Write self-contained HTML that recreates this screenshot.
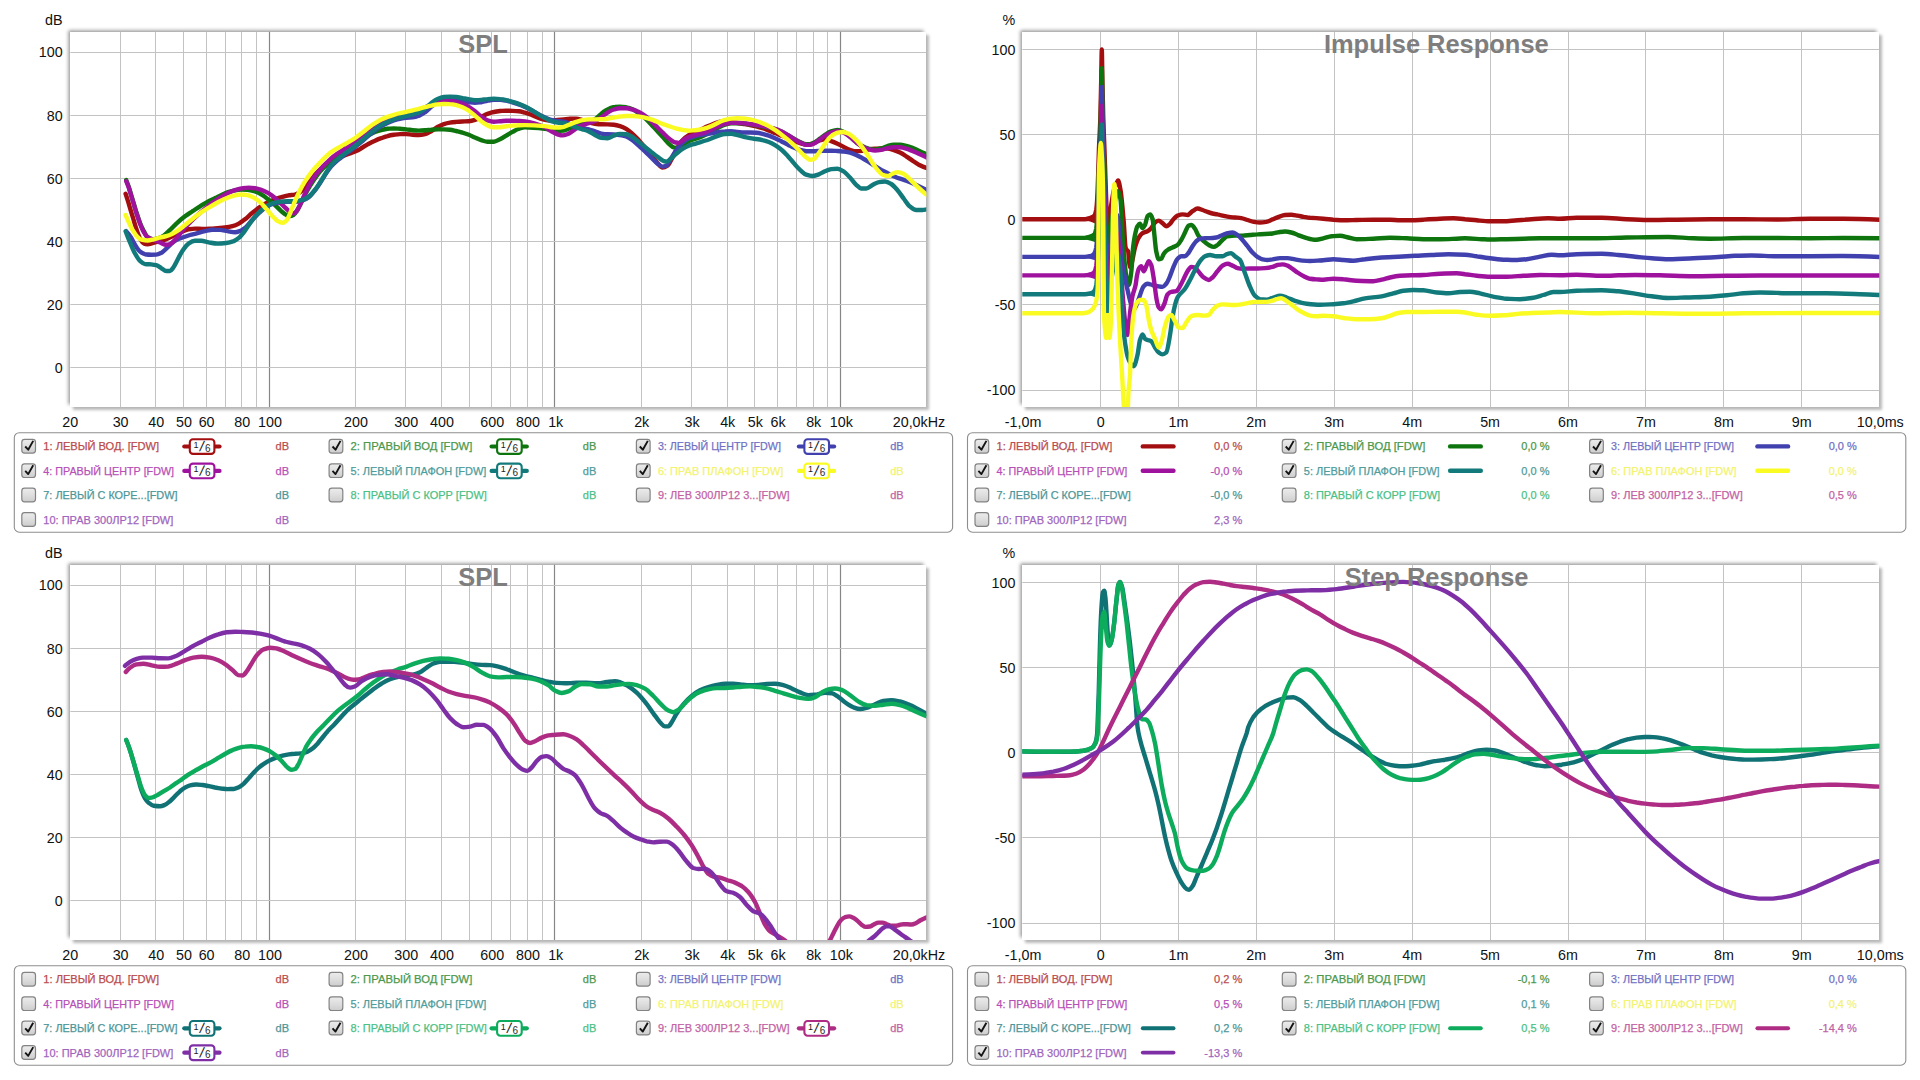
<!DOCTYPE html>
<html lang="ru"><head><meta charset="utf-8"><title>REW graphs</title><style>
html,body{margin:0;padding:0;background:#fff;}
body{width:1920px;height:1080px;overflow:hidden;position:relative;font-family:"Liberation Sans",sans-serif;}
.pb{position:absolute;background:#fff;box-shadow:-2.4px -2.4px 3.6px 0 rgba(0,0,0,.42), 2.7px 2.7px 2.6px 0 rgba(0,0,0,.27);}
svg{position:absolute;left:0;top:0;}
</style></head><body>
<div class="pb" style="left:70.3px;top:31.8px;width:856.0px;height:375.3px"></div>
<div class="pb" style="left:1022.3px;top:31.8px;width:857.0px;height:375.3px"></div>
<div class="pb" style="left:70.3px;top:564.8px;width:856.0px;height:375.3px"></div>
<div class="pb" style="left:1022.3px;top:564.8px;width:857.0px;height:375.3px"></div>
<svg width="1920" height="1080" viewBox="0 0 1920 1080" font-family='"Liberation Sans", sans-serif'>
<defs><linearGradient id="cb" x1="0" y1="0" x2="0" y2="1"><stop offset="0" stop-color="#ececec"/><stop offset="0.5" stop-color="#dedede"/><stop offset="1" stop-color="#cdcdcd"/></linearGradient>
<clipPath id="c1"><rect x="70.3" y="31.8" width="856.0" height="375.3"/></clipPath><clipPath id="c2"><rect x="1022.3" y="31.8" width="857.0" height="375.3"/></clipPath><clipPath id="c3"><rect x="70.3" y="564.8" width="856.0" height="375.3"/></clipPath><clipPath id="c4"><rect x="1022.3" y="564.8" width="857.0" height="375.3"/></clipPath>
</defs>
<g shape-rendering="auto"><line x1="120.5" x2="120.5" y1="31.8" y2="407.1" stroke="#c3c3c3" stroke-width="1"/><line x1="155.5" x2="155.5" y1="31.8" y2="407.1" stroke="#c3c3c3" stroke-width="1"/><line x1="183.5" x2="183.5" y1="31.8" y2="407.1" stroke="#c3c3c3" stroke-width="1"/><line x1="206.5" x2="206.5" y1="31.8" y2="407.1" stroke="#c3c3c3" stroke-width="1"/><line x1="225.5" x2="225.5" y1="31.8" y2="407.1" stroke="#c3c3c3" stroke-width="1"/><line x1="241.5" x2="241.5" y1="31.8" y2="407.1" stroke="#c3c3c3" stroke-width="1"/><line x1="256.5" x2="256.5" y1="31.8" y2="407.1" stroke="#c3c3c3" stroke-width="1"/><line x1="269.5" x2="269.5" y1="31.8" y2="407.1" stroke="#868686" stroke-width="1.2"/><line x1="355.5" x2="355.5" y1="31.8" y2="407.1" stroke="#c3c3c3" stroke-width="1"/><line x1="405.5" x2="405.5" y1="31.8" y2="407.1" stroke="#c3c3c3" stroke-width="1"/><line x1="441.5" x2="441.5" y1="31.8" y2="407.1" stroke="#c3c3c3" stroke-width="1"/><line x1="469.5" x2="469.5" y1="31.8" y2="407.1" stroke="#c3c3c3" stroke-width="1"/><line x1="491.5" x2="491.5" y1="31.8" y2="407.1" stroke="#c3c3c3" stroke-width="1"/><line x1="510.5" x2="510.5" y1="31.8" y2="407.1" stroke="#c3c3c3" stroke-width="1"/><line x1="527.5" x2="527.5" y1="31.8" y2="407.1" stroke="#c3c3c3" stroke-width="1"/><line x1="542.5" x2="542.5" y1="31.8" y2="407.1" stroke="#c3c3c3" stroke-width="1"/><line x1="554.5" x2="554.5" y1="31.8" y2="407.1" stroke="#868686" stroke-width="1.2"/><line x1="641.5" x2="641.5" y1="31.8" y2="407.1" stroke="#c3c3c3" stroke-width="1"/><line x1="691.5" x2="691.5" y1="31.8" y2="407.1" stroke="#c3c3c3" stroke-width="1"/><line x1="727.5" x2="727.5" y1="31.8" y2="407.1" stroke="#c3c3c3" stroke-width="1"/><line x1="754.5" x2="754.5" y1="31.8" y2="407.1" stroke="#c3c3c3" stroke-width="1"/><line x1="777.5" x2="777.5" y1="31.8" y2="407.1" stroke="#c3c3c3" stroke-width="1"/><line x1="796.5" x2="796.5" y1="31.8" y2="407.1" stroke="#c3c3c3" stroke-width="1"/><line x1="813.5" x2="813.5" y1="31.8" y2="407.1" stroke="#c3c3c3" stroke-width="1"/><line x1="827.5" x2="827.5" y1="31.8" y2="407.1" stroke="#c3c3c3" stroke-width="1"/><line x1="840.5" x2="840.5" y1="31.8" y2="407.1" stroke="#868686" stroke-width="1.2"/><line x1="70.3" x2="926.3" y1="52.5" y2="52.5" stroke="#c3c3c3" stroke-width="1"/><line x1="70.3" x2="926.3" y1="115.5" y2="115.5" stroke="#c3c3c3" stroke-width="1"/><line x1="70.3" x2="926.3" y1="178.5" y2="178.5" stroke="#c3c3c3" stroke-width="1"/><line x1="70.3" x2="926.3" y1="241.5" y2="241.5" stroke="#c3c3c3" stroke-width="1"/><line x1="70.3" x2="926.3" y1="304.5" y2="304.5" stroke="#c3c3c3" stroke-width="1"/><line x1="70.3" x2="926.3" y1="367.5" y2="367.5" stroke="#c3c3c3" stroke-width="1"/><line x1="1100.5" x2="1100.5" y1="31.8" y2="407.1" stroke="#c3c3c3" stroke-width="1"/><line x1="1178.5" x2="1178.5" y1="31.8" y2="407.1" stroke="#c3c3c3" stroke-width="1"/><line x1="1256.5" x2="1256.5" y1="31.8" y2="407.1" stroke="#c3c3c3" stroke-width="1"/><line x1="1334.5" x2="1334.5" y1="31.8" y2="407.1" stroke="#c3c3c3" stroke-width="1"/><line x1="1412.5" x2="1412.5" y1="31.8" y2="407.1" stroke="#c3c3c3" stroke-width="1"/><line x1="1490.5" x2="1490.5" y1="31.8" y2="407.1" stroke="#c3c3c3" stroke-width="1"/><line x1="1568.5" x2="1568.5" y1="31.8" y2="407.1" stroke="#c3c3c3" stroke-width="1"/><line x1="1645.5" x2="1645.5" y1="31.8" y2="407.1" stroke="#c3c3c3" stroke-width="1"/><line x1="1723.5" x2="1723.5" y1="31.8" y2="407.1" stroke="#c3c3c3" stroke-width="1"/><line x1="1801.5" x2="1801.5" y1="31.8" y2="407.1" stroke="#c3c3c3" stroke-width="1"/><line x1="1022.3" x2="1879.3" y1="49.5" y2="49.5" stroke="#c3c3c3" stroke-width="1"/><line x1="1022.3" x2="1879.3" y1="134.5" y2="134.5" stroke="#c3c3c3" stroke-width="1"/><line x1="1022.3" x2="1879.3" y1="219.5" y2="219.5" stroke="#c3c3c3" stroke-width="1"/><line x1="1022.3" x2="1879.3" y1="304.5" y2="304.5" stroke="#c3c3c3" stroke-width="1"/><line x1="1022.3" x2="1879.3" y1="390.5" y2="390.5" stroke="#c3c3c3" stroke-width="1"/><line x1="120.5" x2="120.5" y1="564.8" y2="940.1" stroke="#c3c3c3" stroke-width="1"/><line x1="155.5" x2="155.5" y1="564.8" y2="940.1" stroke="#c3c3c3" stroke-width="1"/><line x1="183.5" x2="183.5" y1="564.8" y2="940.1" stroke="#c3c3c3" stroke-width="1"/><line x1="206.5" x2="206.5" y1="564.8" y2="940.1" stroke="#c3c3c3" stroke-width="1"/><line x1="225.5" x2="225.5" y1="564.8" y2="940.1" stroke="#c3c3c3" stroke-width="1"/><line x1="241.5" x2="241.5" y1="564.8" y2="940.1" stroke="#c3c3c3" stroke-width="1"/><line x1="256.5" x2="256.5" y1="564.8" y2="940.1" stroke="#c3c3c3" stroke-width="1"/><line x1="269.5" x2="269.5" y1="564.8" y2="940.1" stroke="#868686" stroke-width="1.2"/><line x1="355.5" x2="355.5" y1="564.8" y2="940.1" stroke="#c3c3c3" stroke-width="1"/><line x1="405.5" x2="405.5" y1="564.8" y2="940.1" stroke="#c3c3c3" stroke-width="1"/><line x1="441.5" x2="441.5" y1="564.8" y2="940.1" stroke="#c3c3c3" stroke-width="1"/><line x1="469.5" x2="469.5" y1="564.8" y2="940.1" stroke="#c3c3c3" stroke-width="1"/><line x1="491.5" x2="491.5" y1="564.8" y2="940.1" stroke="#c3c3c3" stroke-width="1"/><line x1="510.5" x2="510.5" y1="564.8" y2="940.1" stroke="#c3c3c3" stroke-width="1"/><line x1="527.5" x2="527.5" y1="564.8" y2="940.1" stroke="#c3c3c3" stroke-width="1"/><line x1="542.5" x2="542.5" y1="564.8" y2="940.1" stroke="#c3c3c3" stroke-width="1"/><line x1="554.5" x2="554.5" y1="564.8" y2="940.1" stroke="#868686" stroke-width="1.2"/><line x1="641.5" x2="641.5" y1="564.8" y2="940.1" stroke="#c3c3c3" stroke-width="1"/><line x1="691.5" x2="691.5" y1="564.8" y2="940.1" stroke="#c3c3c3" stroke-width="1"/><line x1="727.5" x2="727.5" y1="564.8" y2="940.1" stroke="#c3c3c3" stroke-width="1"/><line x1="754.5" x2="754.5" y1="564.8" y2="940.1" stroke="#c3c3c3" stroke-width="1"/><line x1="777.5" x2="777.5" y1="564.8" y2="940.1" stroke="#c3c3c3" stroke-width="1"/><line x1="796.5" x2="796.5" y1="564.8" y2="940.1" stroke="#c3c3c3" stroke-width="1"/><line x1="813.5" x2="813.5" y1="564.8" y2="940.1" stroke="#c3c3c3" stroke-width="1"/><line x1="827.5" x2="827.5" y1="564.8" y2="940.1" stroke="#c3c3c3" stroke-width="1"/><line x1="840.5" x2="840.5" y1="564.8" y2="940.1" stroke="#868686" stroke-width="1.2"/><line x1="70.3" x2="926.3" y1="585.5" y2="585.5" stroke="#c3c3c3" stroke-width="1"/><line x1="70.3" x2="926.3" y1="648.5" y2="648.5" stroke="#c3c3c3" stroke-width="1"/><line x1="70.3" x2="926.3" y1="711.5" y2="711.5" stroke="#c3c3c3" stroke-width="1"/><line x1="70.3" x2="926.3" y1="774.5" y2="774.5" stroke="#c3c3c3" stroke-width="1"/><line x1="70.3" x2="926.3" y1="837.5" y2="837.5" stroke="#c3c3c3" stroke-width="1"/><line x1="70.3" x2="926.3" y1="900.5" y2="900.5" stroke="#c3c3c3" stroke-width="1"/><line x1="1100.5" x2="1100.5" y1="564.8" y2="940.1" stroke="#c3c3c3" stroke-width="1"/><line x1="1178.5" x2="1178.5" y1="564.8" y2="940.1" stroke="#c3c3c3" stroke-width="1"/><line x1="1256.5" x2="1256.5" y1="564.8" y2="940.1" stroke="#c3c3c3" stroke-width="1"/><line x1="1334.5" x2="1334.5" y1="564.8" y2="940.1" stroke="#c3c3c3" stroke-width="1"/><line x1="1412.5" x2="1412.5" y1="564.8" y2="940.1" stroke="#c3c3c3" stroke-width="1"/><line x1="1490.5" x2="1490.5" y1="564.8" y2="940.1" stroke="#c3c3c3" stroke-width="1"/><line x1="1568.5" x2="1568.5" y1="564.8" y2="940.1" stroke="#c3c3c3" stroke-width="1"/><line x1="1645.5" x2="1645.5" y1="564.8" y2="940.1" stroke="#c3c3c3" stroke-width="1"/><line x1="1723.5" x2="1723.5" y1="564.8" y2="940.1" stroke="#c3c3c3" stroke-width="1"/><line x1="1801.5" x2="1801.5" y1="564.8" y2="940.1" stroke="#c3c3c3" stroke-width="1"/><line x1="1022.3" x2="1879.3" y1="582.5" y2="582.5" stroke="#c3c3c3" stroke-width="1"/><line x1="1022.3" x2="1879.3" y1="667.5" y2="667.5" stroke="#c3c3c3" stroke-width="1"/><line x1="1022.3" x2="1879.3" y1="752.5" y2="752.5" stroke="#c3c3c3" stroke-width="1"/><line x1="1022.3" x2="1879.3" y1="837.5" y2="837.5" stroke="#c3c3c3" stroke-width="1"/><line x1="1022.3" x2="1879.3" y1="923.5" y2="923.5" stroke="#c3c3c3" stroke-width="1"/></g>
<g clip-path="url(#c1)" fill="none" stroke-width="4.4" stroke-linejoin="round" stroke-linecap="round"><path d="M125.6,193.8C126.7,197.0 127.7,200.4 128.8,203.8C130.0,207.9 131.2,212.1 132.5,216.2C133.8,220.4 135.0,224.9 136.2,228.6C137.5,232.2 138.8,236.2 140.0,238.4C141.2,240.6 142.5,243.0 143.8,243.4C145.0,243.9 146.2,244.2 147.5,244.2C149.2,244.2 150.8,243.5 152.5,243.1C155.0,242.5 157.5,241.9 160.0,241.2C162.1,240.6 164.2,240.1 166.2,239.3C168.3,238.5 170.4,237.3 172.5,236.2C175.0,235.0 177.5,233.7 180.0,232.5C182.5,231.4 185.0,230.0 187.5,229.5C190.0,229.1 192.5,228.6 195.0,228.6C197.5,228.6 200.0,228.9 202.5,228.9C205.0,228.9 207.5,228.8 210.0,228.7C212.5,228.6 215.0,228.3 217.5,228.1C220.0,227.9 222.5,227.8 225.0,227.5C227.5,227.2 230.0,226.8 232.5,226.1C234.6,225.6 236.7,224.7 238.8,223.6C240.8,222.5 242.9,220.9 245.0,219.3C247.1,217.7 249.2,215.5 251.2,213.8C253.3,212.1 255.4,210.3 257.5,208.8C259.6,207.3 261.7,205.7 263.8,204.5C265.8,203.2 267.9,202.2 270.0,201.3C272.1,200.4 274.2,199.5 276.2,198.8C278.3,198.1 280.4,197.5 282.5,196.9C284.6,196.3 286.7,195.7 288.8,195.3C290.8,195.0 292.9,195.0 295.0,194.6C296.7,194.3 298.3,193.3 300.0,192.3C301.7,191.3 303.3,189.2 305.0,187.4C306.7,185.6 308.3,183.3 310.0,181.2C312.1,178.5 314.2,175.0 316.2,173.0C321.2,168.1 326.2,165.2 331.2,161.9C333.3,160.6 335.4,159.2 337.5,158.2C339.6,157.2 341.7,156.4 343.8,155.7C345.8,154.9 347.9,154.2 350.0,153.5C352.1,152.7 354.2,152.1 356.2,151.1C358.3,150.2 360.4,148.7 362.5,147.5C364.6,146.3 366.7,144.9 368.8,143.8C370.8,142.7 372.9,141.6 375.0,140.7C377.1,139.7 379.2,138.9 381.2,138.2C383.3,137.4 385.4,136.6 387.5,136.1C389.6,135.5 391.7,135.1 393.8,134.8C395.8,134.5 397.9,134.1 400.0,134.1C402.1,134.1 404.2,134.1 406.2,134.1C408.3,134.1 410.4,134.6 412.5,134.7C414.6,134.9 416.7,135.1 418.8,135.1C420.8,135.1 422.9,134.7 425.0,134.2C427.1,133.7 429.2,132.3 431.2,131.2C433.3,130.0 435.4,128.1 437.5,127.0C439.6,125.9 441.7,124.8 443.8,124.1C445.8,123.4 447.9,122.9 450.0,122.6C452.1,122.3 454.2,122.1 456.2,121.9C458.3,121.7 460.4,121.6 462.5,121.5C464.6,121.4 466.7,121.4 468.8,121.2C470.8,121.0 472.9,120.5 475.0,119.9C477.1,119.3 479.2,117.9 481.2,116.9C483.3,115.9 485.4,114.6 487.5,113.8C489.6,113.1 491.7,112.4 493.8,112.0C495.8,111.5 497.9,111.2 500.0,111.0C502.1,110.9 504.2,110.7 506.2,110.7C508.3,110.7 510.4,110.8 512.5,110.9C514.6,111.0 516.7,111.1 518.8,111.3C520.8,111.5 522.9,112.1 525.0,112.6C531.7,114.3 538.3,118.7 545.0,119.8C547.1,120.1 549.2,120.5 551.2,120.5C553.3,120.5 555.4,120.2 557.5,120.0C559.6,119.8 561.7,119.6 563.8,119.4C565.8,119.2 567.9,118.9 570.0,118.8C572.1,118.7 574.2,118.6 576.2,118.6C578.3,118.6 580.4,119.5 582.5,120.1C584.6,120.7 586.7,121.9 588.8,122.4C590.8,123.0 592.9,123.4 595.0,123.7C597.1,124.0 599.2,124.3 601.2,124.3C603.3,124.4 605.4,124.4 607.5,124.4C609.6,124.4 611.7,124.6 613.8,124.8C615.8,125.0 617.9,125.5 620.0,126.1C622.1,126.7 624.2,127.7 626.2,128.9C628.3,130.1 630.4,132.0 632.5,133.8C634.6,135.7 636.7,137.8 638.8,140.1C640.8,142.4 642.9,145.0 645.0,147.5C647.1,150.0 649.2,152.5 651.2,155.0C653.3,157.6 655.4,160.8 657.5,163.0C659.2,164.8 660.8,167.6 662.5,167.6C664.2,167.6 665.8,166.8 667.5,165.7C669.2,164.7 670.8,160.4 672.5,157.4C674.2,154.4 675.8,150.5 677.5,147.7C679.2,144.9 680.8,142.1 682.5,140.3C684.6,138.1 686.7,136.4 688.8,135.2C690.8,134.0 692.9,133.4 695.0,132.5C697.1,131.5 699.2,130.4 701.2,129.4C703.3,128.4 705.4,127.2 707.5,126.4C713.3,124.1 719.2,121.0 725.0,121.0C727.1,121.0 729.2,121.5 731.2,121.9C733.3,122.2 735.4,122.7 737.5,123.1C739.6,123.4 741.7,123.7 743.8,124.0C745.8,124.3 747.9,124.6 750.0,125.0C752.1,125.4 754.2,125.8 756.2,126.3C758.3,126.8 760.4,127.5 762.5,128.2C764.6,128.9 766.7,129.8 768.8,130.6C770.8,131.5 772.9,132.3 775.0,133.1C777.1,134.0 779.2,134.8 781.2,135.6C783.3,136.5 785.4,137.3 787.5,138.1C789.6,139.0 791.7,139.8 793.8,140.6C795.8,141.4 797.9,142.4 800.0,143.1C802.1,143.7 804.2,144.6 806.2,144.6C808.3,144.6 810.4,144.1 812.5,143.6C814.6,143.1 816.7,141.4 818.8,140.7C820.8,140.1 822.9,139.3 825.0,139.3C827.1,139.3 829.2,140.3 831.2,141.1C833.3,141.8 835.4,142.8 837.5,143.8C839.6,144.7 841.7,145.9 843.8,146.9C845.8,147.9 847.9,149.2 850.0,149.9C852.1,150.5 854.2,151.3 856.2,151.3C858.3,151.3 860.4,151.1 862.5,150.9C864.6,150.7 866.7,149.8 868.8,149.4C870.8,149.1 872.9,148.9 875.0,148.8C877.1,148.7 879.2,148.5 881.2,148.5C883.3,148.5 885.4,148.6 887.5,148.6C889.6,148.7 891.7,149.5 893.8,150.1C895.8,150.7 897.9,151.6 900.0,152.6C902.1,153.6 904.2,155.0 906.2,156.3C908.3,157.6 910.4,159.2 912.5,160.6C914.6,162.0 916.7,163.8 918.8,164.8C921.5,166.2 924.2,167.4 926.9,168.1" stroke="#a30e10"/><path d="M126.2,180.0C127.1,182.2 127.9,184.5 128.8,187.0C130.0,190.8 131.2,195.2 132.5,199.4C133.8,203.5 135.0,207.9 136.2,211.8C137.5,215.7 138.8,219.7 140.0,222.9C141.2,226.0 142.5,228.8 143.8,231.1C145.0,233.4 146.2,236.2 147.5,237.1C149.2,238.3 150.8,239.3 152.5,239.3C154.2,239.3 155.8,238.8 157.5,238.4C159.6,237.9 161.7,236.8 163.8,235.5C165.8,234.3 167.9,231.9 170.0,230.0C172.5,227.6 175.0,224.8 177.5,222.6C180.0,220.3 182.5,218.2 185.0,216.3C187.5,214.5 190.0,212.9 192.5,211.2C195.0,209.6 197.5,207.8 200.0,206.3C202.5,204.7 205.0,203.3 207.5,201.9C210.0,200.6 212.5,199.4 215.0,198.1C217.5,196.9 220.0,195.5 222.5,194.4C224.6,193.5 226.7,192.6 228.8,191.9C230.8,191.3 232.9,190.7 235.0,190.3C237.1,189.9 239.2,189.5 241.2,189.5C243.3,189.5 245.4,189.6 247.5,189.8C250.0,190.0 252.5,190.7 255.0,191.4C257.5,192.2 260.0,193.6 262.5,195.2C264.6,196.4 266.7,198.3 268.8,200.0C270.8,201.7 272.9,203.2 275.0,205.1C277.1,206.9 279.2,209.4 281.2,211.1C282.9,212.5 284.6,214.1 286.2,214.9C287.5,215.4 288.8,216.1 290.0,216.1C291.2,216.1 292.5,215.4 293.8,214.7C295.0,214.0 296.2,211.7 297.5,209.8C299.2,207.2 300.8,203.3 302.5,200.0C304.2,196.7 305.8,193.1 307.5,190.2C309.6,186.5 311.7,183.2 313.8,180.1C315.8,177.0 317.9,173.9 320.0,171.5C323.8,167.2 327.5,163.8 331.2,160.8C333.3,159.1 335.4,157.7 337.5,156.2C339.6,154.8 341.7,153.3 343.8,151.9C345.8,150.4 347.9,149.0 350.0,147.5C352.1,146.0 354.2,144.6 356.2,143.1C358.3,141.7 360.4,140.1 362.5,138.8C364.6,137.5 366.7,136.2 368.8,135.0C370.8,133.9 372.9,132.8 375.0,132.0C377.1,131.2 379.2,130.5 381.2,130.0C383.3,129.5 385.4,129.0 387.5,128.8C389.6,128.7 391.7,128.5 393.8,128.5C395.8,128.5 397.9,128.7 400.0,128.8C402.1,128.9 404.2,129.2 406.2,129.4C408.3,129.6 410.4,130.0 412.5,130.2C414.6,130.4 416.7,130.6 418.8,130.6C420.8,130.6 422.9,130.4 425.0,130.2C427.1,130.1 429.2,129.9 431.2,129.8C433.3,129.6 435.4,129.4 437.5,129.4C439.6,129.4 441.7,129.4 443.8,129.4C445.8,129.4 447.9,129.6 450.0,129.8C452.1,130.0 454.2,130.6 456.2,131.0C458.3,131.5 460.4,131.9 462.5,132.6C464.6,133.2 466.7,134.0 468.8,134.8C470.8,135.6 472.9,136.6 475.0,137.5C477.1,138.4 479.2,139.5 481.2,140.2C483.3,140.8 485.4,141.8 487.5,141.8C489.6,141.8 491.7,141.7 493.8,141.7C495.8,141.6 497.9,140.2 500.0,139.3C502.1,138.3 504.2,136.9 506.2,135.6C508.3,134.4 510.4,133.0 512.5,131.9C514.6,130.8 516.7,129.6 518.8,128.8C520.8,128.1 522.9,127.2 525.0,127.2C531.7,127.2 538.3,128.0 545.0,128.8C547.1,129.1 549.2,129.6 551.2,130.0C553.3,130.3 555.4,130.9 557.5,130.9C559.6,130.9 561.7,130.7 563.8,130.5C565.8,130.2 567.9,129.0 570.0,128.1C572.1,127.2 574.2,125.9 576.2,125.1C578.3,124.3 580.4,123.7 582.5,123.2C584.6,122.6 586.7,122.4 588.8,121.8C590.8,121.2 592.9,120.3 595.0,119.2C596.7,118.2 598.3,116.4 600.0,115.0C601.7,113.6 603.3,111.8 605.0,110.8C606.7,109.7 608.3,108.8 610.0,108.2C611.7,107.7 613.3,107.1 615.0,107.0C616.7,106.8 618.3,106.7 620.0,106.7C622.1,106.7 624.2,107.0 626.2,107.3C628.3,107.7 630.4,108.3 632.5,109.2C634.6,110.0 636.7,111.7 638.8,113.2C640.8,114.7 642.9,116.4 645.0,118.2C647.1,120.1 649.2,122.3 651.2,124.4C653.3,126.6 655.4,129.0 657.5,131.2C659.6,133.5 661.7,135.9 663.8,138.1C665.8,140.4 667.9,143.2 670.0,144.8C671.2,145.9 672.5,147.1 673.8,147.4C675.0,147.6 676.2,147.9 677.5,147.9C679.2,147.9 680.8,146.0 682.5,145.0C684.2,144.0 685.8,142.8 687.5,141.9C689.2,141.1 690.8,140.4 692.5,139.8C694.2,139.2 695.8,138.7 697.5,138.1C700.0,137.1 702.5,136.1 705.0,134.9C711.7,131.9 718.3,126.6 725.0,124.6C727.1,124.0 729.2,123.3 731.2,123.2C733.3,123.2 735.4,123.2 737.5,123.2C739.6,123.2 741.7,123.4 743.8,123.5C745.8,123.7 747.9,124.1 750.0,124.4C752.1,124.7 754.2,125.0 756.2,125.4C758.3,125.7 760.4,126.1 762.5,126.5C764.6,126.9 766.7,127.3 768.8,127.7C770.8,128.2 772.9,128.5 775.0,129.1C777.1,129.7 779.2,130.6 781.2,131.6C783.3,132.5 785.4,133.8 787.5,135.0C789.6,136.2 791.7,137.5 793.8,138.7C795.8,139.9 797.9,141.3 800.0,142.1C802.1,143.0 804.2,144.3 806.2,144.3C807.5,144.3 808.8,144.2 810.0,144.2C811.7,144.2 813.3,143.0 815.0,142.1C816.7,141.2 818.3,139.7 820.0,138.5C821.7,137.3 823.3,135.9 825.0,134.8C827.1,133.5 829.2,132.1 831.2,131.4C833.3,130.7 835.4,130.0 837.5,130.0C839.6,130.0 841.7,131.1 843.8,132.1C845.8,133.0 847.9,134.9 850.0,136.6C852.1,138.2 854.2,140.5 856.2,142.1C858.3,143.7 860.4,145.4 862.5,146.3C864.6,147.3 866.7,148.2 868.8,148.7C870.8,149.1 872.9,149.6 875.0,149.6C877.1,149.6 879.2,148.9 881.2,148.4C883.3,147.9 885.4,146.7 887.5,146.1C889.6,145.5 891.7,144.7 893.8,144.7C895.8,144.7 897.9,144.8 900.0,144.8C902.1,144.9 904.2,145.4 906.2,145.8C908.3,146.3 910.4,147.1 912.5,147.9C914.6,148.7 916.7,149.8 918.8,150.7C921.5,152.0 924.2,153.2 926.9,154.4" stroke="#0e740e"/><path d="M126.2,231.2C127.9,232.9 129.6,235.2 131.2,237.7C132.5,239.7 133.8,242.8 135.0,244.8C136.7,247.4 138.3,250.3 140.0,251.5C141.7,252.8 143.3,253.9 145.0,254.2C147.1,254.5 149.2,254.7 151.2,254.7C152.9,254.7 154.6,254.7 156.2,254.6C157.9,254.6 159.6,253.7 161.2,252.9C162.9,252.1 164.6,250.2 166.2,248.7C167.9,247.2 169.6,245.2 171.2,243.8C172.9,242.4 174.6,241.0 176.2,240.1C178.3,239.0 180.4,238.3 182.5,237.5C185.0,236.6 187.5,235.8 190.0,235.0C192.5,234.3 195.0,233.8 197.5,233.1C200.0,232.4 202.5,231.6 205.0,231.1C207.5,230.6 210.0,229.8 212.5,229.8C215.0,229.8 217.5,229.9 220.0,229.9C222.5,229.9 225.0,230.8 227.5,231.2C230.0,231.6 232.5,232.3 235.0,232.3C236.7,232.3 238.3,231.7 240.0,231.1C241.7,230.5 243.3,229.3 245.0,227.9C246.7,226.6 248.3,224.3 250.0,222.5C251.7,220.7 253.3,218.7 255.0,216.9C256.7,215.2 258.3,213.4 260.0,212.0C262.1,210.1 264.2,208.3 266.2,207.0C268.3,205.7 270.4,204.5 272.5,203.9C274.6,203.3 276.7,202.8 278.8,202.6C281.7,202.2 284.6,202.0 287.5,201.9C290.0,201.8 292.5,201.9 295.0,201.8C297.5,201.7 300.0,201.1 302.5,200.5C304.6,199.9 306.7,198.7 308.8,197.2C310.8,195.8 312.9,192.9 315.0,190.3C320.4,183.7 325.8,172.5 331.2,166.4C333.3,164.1 335.4,162.2 337.5,160.4C339.6,158.6 341.7,157.0 343.8,155.4C345.8,153.8 347.9,152.5 350.0,151.0C352.1,149.4 354.2,147.7 356.2,146.0C358.3,144.3 360.4,142.7 362.5,141.0C364.6,139.2 366.7,137.2 368.8,135.4C370.8,133.7 372.9,132.0 375.0,130.4C377.1,128.9 379.2,127.3 381.2,126.1C383.3,124.9 385.4,123.9 387.5,122.9C389.6,122.0 391.7,121.1 393.8,120.4C395.8,119.8 397.9,119.2 400.0,118.8C402.1,118.4 404.2,118.0 406.2,117.8C408.3,117.6 410.4,117.6 412.5,117.4C414.6,117.2 416.7,116.6 418.8,115.8C420.8,115.1 422.9,113.8 425.0,112.3C427.1,110.9 429.2,108.6 431.2,106.9C433.3,105.2 435.4,103.2 437.5,102.1C439.6,101.0 441.7,99.8 443.8,99.5C445.8,99.3 447.9,99.1 450.0,99.1C452.1,99.1 454.2,99.5 456.2,99.8C458.3,100.1 460.4,100.8 462.5,101.2C464.6,101.6 466.7,102.0 468.8,102.2C470.8,102.4 472.9,102.7 475.0,102.7C477.1,102.7 479.2,102.4 481.2,102.2C483.3,101.9 485.4,101.0 487.5,100.7C489.6,100.3 491.7,99.8 493.8,99.8C495.8,99.8 497.9,99.8 500.0,99.8C502.1,99.8 504.2,100.3 506.2,100.7C508.3,101.1 510.4,101.7 512.5,102.3C514.6,102.9 516.7,103.6 518.8,104.4C520.8,105.2 522.9,106.0 525.0,107.0C531.7,110.0 538.3,114.5 545.0,117.4C547.1,118.3 549.2,119.4 551.2,119.9C553.3,120.4 555.4,120.7 557.5,121.0C559.6,121.2 561.7,121.3 563.8,121.6C565.8,122.0 567.9,123.0 570.0,123.8C572.1,124.5 574.2,125.5 576.2,126.2C578.3,126.8 580.4,127.2 582.5,127.8C584.6,128.3 586.7,128.8 588.8,129.4C590.8,130.0 592.9,130.6 595.0,131.3C597.1,132.0 599.2,133.2 601.2,133.6C603.3,134.0 605.4,134.3 607.5,134.3C609.6,134.4 611.7,134.4 613.8,134.4C615.8,134.5 617.9,134.8 620.0,135.0C622.1,135.3 624.2,135.8 626.2,136.4C628.3,137.1 630.4,138.7 632.5,140.1C634.6,141.6 636.7,143.8 638.8,145.6C640.8,147.5 642.9,149.3 645.0,151.3C647.1,153.3 649.2,155.5 651.2,157.5C653.3,159.5 655.4,162.1 657.5,163.6C659.2,164.8 660.8,166.6 662.5,166.6C663.8,166.6 665.0,166.3 666.2,165.8C667.5,165.4 668.8,162.0 670.0,160.0C672.1,156.8 674.2,153.0 676.2,150.2C678.3,147.4 680.4,144.6 682.5,142.7C684.6,140.9 686.7,139.2 688.8,138.3C690.8,137.4 692.9,136.8 695.0,136.3C697.1,135.8 699.2,135.4 701.2,135.0C703.3,134.6 705.4,134.3 707.5,134.0C713.3,133.1 719.2,131.5 725.0,131.4C727.1,131.3 729.2,131.3 731.2,131.3C733.3,131.3 735.4,131.7 737.5,131.9C739.6,132.1 741.7,132.4 743.8,132.5C745.8,132.5 747.9,132.5 750.0,132.5C752.1,132.6 754.2,132.7 756.2,132.8C758.3,133.0 760.4,133.4 762.5,133.8C764.6,134.3 766.7,135.0 768.8,135.7C770.8,136.4 772.9,137.3 775.0,138.2C777.1,139.1 779.2,140.2 781.2,141.2C783.3,142.3 785.4,143.3 787.5,144.4C789.6,145.4 791.7,146.5 793.8,147.5C795.8,148.4 797.9,149.4 800.0,149.9C802.1,150.5 804.2,151.1 806.2,151.2C808.3,151.2 810.4,151.2 812.5,151.2C814.6,151.2 816.7,151.1 818.8,151.0C820.8,150.9 822.9,150.7 825.0,150.7C827.1,150.7 829.2,150.7 831.2,150.7C833.3,150.7 835.4,150.9 837.5,151.0C839.6,151.2 841.7,151.3 843.8,151.5C845.8,151.8 847.9,152.1 850.0,152.6C852.1,153.1 854.2,154.1 856.2,155.0C858.3,156.0 860.4,157.0 862.5,158.2C864.6,159.3 866.7,160.6 868.8,161.9C870.8,163.3 872.9,164.9 875.0,166.2C877.1,167.5 879.2,168.8 881.2,170.0C883.3,171.1 885.4,172.1 887.5,173.1C889.6,174.2 891.7,175.3 893.8,176.2C895.8,177.1 897.9,178.0 900.0,178.7C902.1,179.4 904.2,179.9 906.2,180.7C908.3,181.4 910.4,182.3 912.5,183.2C914.6,184.1 916.7,185.2 918.8,186.2C921.5,187.5 924.2,188.8 926.9,190.0" stroke="#4040ae"/><path d="M126.2,181.2C127.1,183.2 127.9,185.3 128.8,187.7C130.0,191.3 131.2,195.9 132.5,200.0C133.8,204.1 135.0,208.5 136.2,212.4C137.5,216.3 138.8,220.3 140.0,223.6C141.2,226.8 142.5,230.1 143.8,232.2C145.0,234.3 146.2,236.3 147.5,237.2C149.2,238.3 150.8,238.7 152.5,239.4C155.0,240.5 157.5,241.5 160.0,242.5C162.1,243.3 164.2,244.8 166.2,244.8C167.5,244.8 168.8,244.5 170.0,244.1C171.7,243.7 173.3,241.5 175.0,239.9C176.7,238.2 178.3,235.8 180.0,233.8C181.7,231.7 183.3,229.5 185.0,227.6C187.1,225.3 189.2,223.3 191.2,221.2C193.3,219.2 195.4,217.0 197.5,215.1C200.0,212.8 202.5,210.8 205.0,208.8C207.5,206.7 210.0,204.4 212.5,202.6C215.0,200.7 217.5,199.1 220.0,197.5C222.5,196.0 225.0,194.4 227.5,193.2C230.0,192.0 232.5,190.9 235.0,190.1C237.5,189.3 240.0,188.5 242.5,188.2C244.6,187.9 246.7,187.6 248.8,187.6C250.8,187.6 252.9,187.9 255.0,188.2C257.1,188.5 259.2,189.1 261.2,189.8C263.3,190.5 265.4,191.5 267.5,192.6C269.6,193.8 271.7,195.3 273.8,197.0C275.8,198.6 277.9,200.6 280.0,202.5C281.7,204.1 283.3,205.9 285.0,207.5C286.7,209.0 288.3,210.8 290.0,211.8C291.2,212.5 292.5,213.5 293.8,213.5C294.6,213.5 295.4,212.5 296.2,211.6C297.5,210.4 298.8,207.3 300.0,204.9C301.7,201.6 303.3,197.3 305.0,193.8C306.7,190.4 308.3,186.8 310.0,183.9C312.1,180.3 314.2,176.8 316.2,174.1C321.2,167.6 326.2,162.7 331.2,158.3C333.3,156.5 335.4,155.0 337.5,153.5C339.6,152.0 341.7,150.8 343.8,149.4C345.8,147.9 347.9,146.5 350.0,145.0C352.1,143.5 354.2,142.1 356.2,140.6C358.3,139.0 360.4,137.3 362.5,135.6C364.6,134.0 366.7,132.2 368.8,130.7C370.8,129.1 372.9,127.6 375.0,126.3C377.1,125.0 379.2,123.7 381.2,122.5C383.3,121.4 385.4,120.3 387.5,119.4C389.6,118.5 391.7,117.6 393.8,116.9C395.8,116.2 397.9,115.6 400.0,115.0C402.1,114.5 404.2,114.0 406.2,113.5C408.3,113.0 410.4,112.5 412.5,111.8C414.6,111.2 416.7,110.5 418.8,109.7C420.8,109.0 422.9,108.3 425.0,107.4C427.1,106.6 429.2,105.4 431.2,104.4C433.3,103.4 435.4,101.8 437.5,101.4C439.6,101.0 441.7,100.7 443.8,100.7C445.8,100.7 447.9,100.9 450.0,101.0C452.1,101.2 454.2,101.5 456.2,102.0C458.3,102.4 460.4,103.1 462.5,103.8C464.6,104.6 466.7,105.8 468.8,107.0C470.8,108.2 472.9,109.7 475.0,111.3C477.1,113.0 479.2,115.3 481.2,116.7C483.3,118.2 485.4,119.8 487.5,120.4C489.6,121.1 491.7,121.7 493.8,121.7C495.8,121.7 497.9,121.4 500.0,121.2C502.1,121.1 504.2,120.7 506.2,120.7C508.3,120.7 510.4,120.7 512.5,120.7C514.6,120.7 516.7,120.9 518.8,121.0C520.8,121.1 522.9,121.2 525.0,121.4C531.7,122.1 538.3,124.3 545.0,127.2C547.1,128.1 549.2,130.0 551.2,131.2C553.3,132.3 555.4,133.6 557.5,134.3C559.2,134.8 560.8,135.4 562.5,135.4C564.2,135.4 565.8,134.8 567.5,134.2C569.2,133.7 570.8,132.3 572.5,131.2C574.2,130.1 575.8,128.6 577.5,127.6C579.2,126.6 580.8,125.7 582.5,125.1C584.6,124.3 586.7,123.8 588.8,123.1C590.8,122.5 592.9,122.0 595.0,121.1C597.1,120.2 599.2,118.8 601.2,117.4C603.3,116.0 605.4,113.9 607.5,112.6C609.6,111.4 611.7,110.1 613.8,109.5C615.8,108.9 617.9,108.2 620.0,108.2C622.1,108.2 624.2,108.2 626.2,108.2C628.3,108.2 630.4,108.9 632.5,109.5C634.6,110.0 636.7,111.0 638.8,112.0C640.8,113.0 642.9,114.3 645.0,115.8C647.1,117.3 649.2,119.3 651.2,121.3C653.3,123.2 655.4,125.4 657.5,127.5C659.6,129.6 661.7,131.7 663.8,133.7C665.8,135.7 667.9,137.8 670.0,139.3C671.7,140.5 673.3,142.0 675.0,142.4C676.2,142.6 677.5,142.9 678.8,142.9C680.0,142.9 681.2,141.4 682.5,140.6C684.2,139.6 685.8,138.4 687.5,137.6C689.2,136.8 690.8,136.2 692.5,135.7C694.2,135.2 695.8,134.8 697.5,134.4C700.0,133.7 702.5,133.1 705.0,132.3C711.7,130.2 718.3,125.5 725.0,123.9C727.1,123.5 729.2,122.9 731.2,122.8C733.3,122.8 735.4,122.8 737.5,122.8C739.6,122.8 741.7,123.0 743.8,123.2C745.8,123.3 747.9,123.7 750.0,124.0C752.1,124.3 754.2,124.6 756.2,125.0C758.3,125.4 760.4,125.8 762.5,126.2C764.6,126.7 766.7,127.1 768.8,127.5C770.8,127.9 772.9,128.3 775.0,128.8C777.1,129.4 779.2,130.4 781.2,131.3C783.3,132.3 785.4,133.8 787.5,135.0C789.6,136.2 791.7,137.5 793.8,138.8C795.8,140.0 797.9,141.4 800.0,142.4C802.1,143.4 804.2,144.8 806.2,144.9C807.5,144.9 808.8,144.9 810.0,144.9C811.7,144.9 813.3,143.8 815.0,143.0C816.7,142.2 818.3,140.6 820.0,139.4C821.7,138.2 823.3,136.7 825.0,135.7C827.1,134.5 829.2,133.3 831.2,132.6C833.3,132.0 835.4,131.2 837.5,131.2C839.6,131.2 841.7,132.0 843.8,132.7C845.8,133.5 847.9,135.4 850.0,137.0C852.1,138.6 854.2,140.8 856.2,142.4C858.3,144.0 860.4,145.7 862.5,146.7C864.6,147.8 866.7,148.7 868.8,149.3C870.8,149.8 872.9,150.5 875.0,150.5C877.1,150.5 879.2,150.2 881.2,149.9C883.3,149.6 885.4,148.6 887.5,148.2C889.6,147.8 891.7,147.3 893.8,147.3C895.8,147.3 897.9,147.3 900.0,147.3C902.1,147.4 904.2,148.0 906.2,148.6C908.3,149.1 910.4,150.2 912.5,151.0C914.6,151.9 916.7,152.8 918.8,153.8C921.5,155.0 924.2,156.2 926.9,157.5" stroke="#9e129e"/><path d="M125.6,231.2C127.1,235.2 128.5,238.9 130.0,242.4C131.7,246.3 133.3,250.5 135.0,253.5C136.7,256.4 138.3,259.4 140.0,260.9C141.7,262.4 143.3,264.0 145.0,264.1C147.1,264.3 149.2,264.3 151.2,264.4C152.9,264.6 154.6,264.8 156.2,265.2C157.9,265.6 159.6,267.1 161.2,268.1C162.9,269.1 164.6,271.0 166.2,271.0C167.5,271.0 168.8,271.0 170.0,271.0C171.0,271.0 172.1,269.2 173.1,267.9C174.2,266.6 175.2,264.4 176.2,262.4C177.5,260.1 178.8,257.3 180.0,255.1C181.2,252.9 182.5,250.6 183.8,248.9C185.4,246.7 187.1,244.5 188.8,243.4C190.8,242.1 192.9,240.9 195.0,240.8C197.1,240.8 199.2,240.8 201.2,240.8C203.8,240.8 206.2,242.0 208.8,242.4C211.7,242.9 214.6,243.6 217.5,243.6C220.4,243.6 223.3,243.3 226.2,243.0C228.8,242.7 231.2,242.0 233.8,241.1C235.4,240.5 237.1,239.3 238.8,237.9C240.4,236.6 242.1,234.5 243.8,232.4C245.4,230.2 247.1,227.4 248.8,225.0C250.4,222.7 252.1,220.3 253.8,218.2C255.8,215.7 257.9,213.3 260.0,211.4C262.1,209.5 264.2,207.7 266.2,206.4C268.3,205.1 270.4,203.9 272.5,203.3C274.6,202.6 276.7,202.2 278.8,201.9C281.7,201.6 284.6,201.4 287.5,201.3C290.0,201.2 292.5,201.2 295.0,201.2C297.5,201.1 300.0,200.5 302.5,199.8C304.6,199.3 306.7,198.1 308.8,196.6C310.8,195.1 312.9,192.3 315.0,189.7C320.4,183.0 325.8,171.6 331.2,165.4C333.3,163.1 335.4,161.2 337.5,159.4C339.6,157.6 341.7,156.0 343.8,154.4C345.8,152.8 347.9,151.5 350.0,150.0C352.1,148.4 354.2,146.7 356.2,145.0C358.3,143.3 360.4,141.7 362.5,140.0C364.6,138.2 366.7,136.2 368.8,134.4C370.8,132.7 372.9,131.0 375.0,129.4C377.1,127.9 379.2,126.3 381.2,125.1C383.3,123.9 385.4,122.9 387.5,121.9C389.6,121.0 391.7,120.1 393.8,119.4C395.8,118.7 397.9,118.1 400.0,117.5C402.1,117.0 404.2,116.5 406.2,116.0C408.3,115.5 410.4,115.0 412.5,114.4C414.6,113.8 416.7,113.2 418.8,112.4C420.8,111.5 422.9,110.1 425.0,108.6C427.1,107.1 429.2,104.8 431.2,103.2C433.3,101.6 435.4,99.8 437.5,98.9C439.6,98.0 441.7,97.2 443.8,97.0C445.8,96.8 447.9,96.6 450.0,96.6C452.1,96.6 454.2,96.7 456.2,96.9C458.3,97.1 460.4,97.7 462.5,98.1C464.6,98.5 466.7,99.0 468.8,99.3C470.8,99.7 472.9,100.2 475.0,100.2C477.1,100.2 479.2,100.1 481.2,99.9C483.3,99.8 485.4,99.2 487.5,99.1C489.6,98.9 491.7,98.8 493.8,98.8C495.8,98.8 497.9,98.9 500.0,99.1C502.1,99.2 504.2,99.6 506.2,100.1C508.3,100.5 510.4,101.3 512.5,101.9C514.6,102.5 516.7,103.1 518.8,103.8C520.8,104.5 522.9,105.4 525.0,106.4C531.7,109.5 538.3,114.6 545.0,118.1C547.1,119.1 549.2,120.5 551.2,121.1C553.3,121.7 555.4,122.1 557.5,122.5C559.6,122.8 561.7,122.9 563.8,123.2C565.8,123.6 567.9,124.4 570.0,125.0C572.1,125.7 574.2,126.7 576.2,127.5C578.3,128.2 580.4,128.7 582.5,129.4C584.6,130.0 586.7,130.5 588.8,131.4C590.8,132.2 592.9,133.9 595.0,135.0C597.1,136.0 599.2,137.7 601.2,137.9C603.3,138.1 605.4,138.3 607.5,138.3C609.6,138.3 611.7,136.4 613.8,135.7C615.8,135.0 617.9,133.9 620.0,133.9C622.1,133.9 624.2,134.0 626.2,134.2C628.3,134.4 630.4,135.8 632.5,137.0C634.6,138.2 636.7,140.2 638.8,141.9C640.8,143.5 642.9,145.2 645.0,146.9C647.1,148.5 649.2,150.2 651.2,151.9C653.3,153.5 655.4,155.3 657.5,156.8C659.6,158.4 661.7,160.5 663.8,161.1C664.8,161.4 665.8,161.6 666.9,161.6C667.9,161.6 669.0,160.2 670.0,159.3C672.1,157.7 674.2,155.5 676.2,153.8C678.3,152.1 680.4,150.2 682.5,148.9C684.6,147.6 686.7,146.5 688.8,145.7C690.8,144.9 692.9,144.4 695.0,143.8C697.1,143.1 699.2,142.5 701.2,141.9C703.3,141.2 705.4,140.6 707.5,140.0C713.3,138.1 719.2,134.2 725.0,134.0C727.1,133.9 729.2,133.8 731.2,133.8C733.3,133.8 735.4,134.6 737.5,135.0C739.6,135.5 741.7,136.3 743.8,136.8C745.8,137.3 747.9,137.7 750.0,138.1C752.1,138.5 754.2,138.7 756.2,139.0C758.3,139.3 760.4,139.6 762.5,140.1C764.6,140.5 766.7,141.2 768.8,142.0C770.8,142.8 772.9,143.9 775.0,145.1C777.1,146.3 779.2,147.8 781.2,149.5C783.3,151.2 785.4,153.5 787.5,155.7C789.6,158.0 791.7,160.7 793.8,163.1C795.8,165.4 797.9,168.0 800.0,169.9C802.1,171.7 804.2,174.0 806.2,174.7C808.3,175.4 810.4,176.0 812.5,176.0C814.6,176.0 816.7,175.0 818.8,174.3C820.8,173.6 822.9,172.2 825.0,171.3C827.1,170.5 829.2,169.4 831.2,169.1C833.3,168.9 835.4,168.7 837.5,168.7C839.6,168.7 841.7,170.2 843.8,171.5C845.8,172.8 847.9,175.4 850.0,177.6C852.1,179.8 854.2,183.0 856.2,184.8C857.9,186.3 859.6,188.4 861.2,188.5C862.9,188.5 864.6,188.5 866.2,188.5C868.3,188.5 870.4,186.1 872.5,185.0C874.6,184.0 876.7,182.4 878.8,182.1C880.8,181.7 882.9,181.5 885.0,181.5C887.1,181.5 889.2,182.8 891.2,184.0C893.3,185.2 895.4,187.8 897.5,190.2C899.6,192.6 901.7,196.0 903.8,198.7C905.8,201.4 907.9,204.9 910.0,206.5C912.1,208.1 914.2,210.0 916.2,210.0C918.3,210.0 920.4,210.0 922.5,210.0C924.0,210.0 925.4,209.6 926.9,209.4" stroke="#127a7a"/><path d="M125.6,215.0C126.7,217.6 127.7,220.1 128.8,222.4C130.0,225.1 131.2,227.7 132.5,229.9C133.8,232.0 135.0,234.1 136.2,235.4C137.9,237.2 139.6,239.0 141.2,239.5C143.3,240.0 145.4,240.5 147.5,240.5C149.6,240.5 151.7,239.8 153.8,239.3C155.8,238.9 157.9,238.1 160.0,237.5C162.1,237.0 164.2,236.8 166.2,236.2C168.3,235.6 170.4,234.7 172.5,233.7C174.6,232.7 176.7,231.3 178.8,229.9C180.8,228.5 182.9,226.7 185.0,225.0C187.1,223.3 189.2,221.7 191.2,220.0C193.3,218.3 195.4,216.6 197.5,215.0C199.6,213.5 201.7,212.0 203.8,210.7C205.8,209.3 207.9,208.1 210.0,206.9C212.1,205.6 214.2,204.3 216.2,203.2C218.3,202.0 220.4,201.0 222.5,200.0C224.6,199.1 226.7,198.1 228.8,197.3C230.8,196.5 232.9,195.7 235.0,195.3C237.1,194.9 239.2,194.5 241.2,194.5C243.3,194.5 245.4,194.8 247.5,195.1C249.6,195.5 251.7,196.6 253.8,197.6C255.8,198.7 257.9,200.3 260.0,202.1C262.1,203.8 264.2,206.5 266.2,208.8C268.3,211.1 270.4,214.0 272.5,216.2C274.2,217.9 275.8,220.1 277.5,221.0C279.2,221.9 280.8,222.8 282.5,222.8C283.8,222.8 285.0,221.9 286.2,220.8C287.5,219.8 288.8,216.3 290.0,213.6C291.2,210.8 292.5,206.9 293.8,203.9C295.4,199.9 297.1,196.0 298.8,192.7C300.8,188.5 302.9,184.7 305.0,181.4C307.1,178.1 309.2,175.3 311.2,172.6C313.8,169.4 316.2,166.5 318.8,163.9C322.9,159.5 327.1,155.2 331.2,152.1C333.3,150.6 335.4,149.4 337.5,148.2C339.6,146.9 341.7,145.9 343.8,144.7C345.8,143.6 347.9,142.5 350.0,141.2C352.1,140.0 354.2,138.6 356.2,137.2C358.3,135.7 360.4,134.1 362.5,132.5C364.6,130.9 366.7,129.1 368.8,127.5C370.8,126.0 372.9,124.5 375.0,123.2C377.1,121.8 379.2,120.5 381.2,119.5C383.3,118.5 385.4,117.7 387.5,116.9C389.6,116.1 391.7,115.4 393.8,114.8C395.8,114.2 397.9,113.6 400.0,113.2C402.1,112.7 404.2,112.3 406.2,111.8C408.3,111.4 410.4,110.8 412.5,110.3C414.6,109.7 416.7,109.3 418.8,108.8C420.8,108.2 422.9,107.8 425.0,107.2C427.1,106.7 429.2,106.1 431.2,105.7C433.3,105.2 435.4,104.6 437.5,104.4C439.6,104.2 441.7,104.0 443.8,104.0C445.8,104.0 447.9,104.0 450.0,104.1C452.1,104.1 454.2,104.6 456.2,105.1C458.3,105.6 460.4,106.4 462.5,107.3C464.6,108.2 466.7,109.4 468.8,110.7C470.8,112.1 472.9,113.9 475.0,115.7C477.1,117.4 479.2,119.6 481.2,121.2C483.3,122.8 485.4,124.6 487.5,125.4C489.6,126.3 491.7,127.3 493.8,127.3C495.8,127.3 497.9,127.3 500.0,127.2C502.1,127.1 504.2,126.5 506.2,126.3C508.3,126.0 510.4,125.8 512.5,125.6C514.6,125.5 516.7,125.3 518.8,125.3C520.8,125.2 522.9,125.1 525.0,125.1C531.7,125.1 538.3,125.5 545.0,126.1C547.1,126.3 549.2,127.0 551.2,127.2C553.3,127.4 555.4,127.6 557.5,127.6C559.6,127.6 561.7,127.2 563.8,126.8C565.8,126.3 567.9,125.2 570.0,124.4C572.1,123.6 574.2,122.6 576.2,121.9C578.3,121.2 580.4,120.4 582.5,120.1C584.6,119.8 586.7,119.5 588.8,119.4C590.8,119.4 592.9,119.4 595.0,119.4C597.1,119.4 599.2,119.4 601.2,119.3C603.3,119.3 605.4,119.0 607.5,118.7C609.6,118.4 611.7,117.9 613.8,117.5C615.8,117.2 617.9,116.8 620.0,116.5C622.1,116.3 624.2,116.0 626.2,116.0C628.3,116.0 630.4,116.0 632.5,116.0C634.6,116.0 636.7,116.3 638.8,116.5C640.8,116.8 642.9,117.1 645.0,117.6C647.1,118.0 649.2,118.7 651.2,119.4C653.3,120.1 655.4,121.1 657.5,121.9C659.6,122.7 661.7,123.6 663.8,124.3C665.8,125.1 667.9,125.8 670.0,126.5C672.1,127.2 674.2,127.9 676.2,128.5C678.3,129.0 680.4,129.6 682.5,129.9C684.6,130.2 686.7,130.6 688.8,130.6C690.8,130.6 692.9,130.4 695.0,130.3C697.1,130.2 699.2,129.7 701.2,129.3C703.3,128.9 705.4,128.3 707.5,127.6C713.3,125.7 719.2,121.5 725.0,119.9C727.1,119.4 729.2,118.8 731.2,118.6C733.3,118.4 735.4,118.2 737.5,118.2C739.6,118.2 741.7,118.4 743.8,118.5C745.8,118.7 747.9,119.0 750.0,119.4C752.1,119.8 754.2,120.4 756.2,121.0C758.3,121.6 760.4,122.4 762.5,123.2C764.6,124.0 766.7,125.0 768.8,126.1C770.8,127.2 772.9,128.4 775.0,129.8C777.1,131.2 779.2,132.8 781.2,134.4C783.3,136.0 785.4,137.7 787.5,139.4C789.6,141.2 791.7,143.1 793.8,145.0C795.8,147.0 797.9,149.2 800.0,151.2C802.1,153.3 804.2,155.8 806.2,157.4C807.5,158.3 808.8,159.8 810.0,159.8C811.2,159.8 812.5,159.5 813.8,159.1C815.0,158.7 816.2,156.5 817.5,154.9C819.2,152.8 820.8,150.0 822.5,147.5C824.2,145.0 825.8,142.2 827.5,140.2C829.2,138.2 830.8,136.3 832.5,135.2C834.2,134.1 835.8,133.0 837.5,132.6C839.2,132.3 840.8,132.0 842.5,132.0C844.2,132.0 845.8,132.7 847.5,133.3C849.2,133.9 850.8,135.1 852.5,136.4C854.2,137.7 855.8,139.5 857.5,141.3C859.2,143.2 860.8,145.3 862.5,147.6C864.2,149.9 865.8,152.5 867.5,155.0C869.2,157.6 870.8,160.6 872.5,163.0C874.2,165.5 875.8,168.0 877.5,169.9C879.2,171.8 880.8,174.1 882.5,174.7C884.2,175.4 885.8,176.0 887.5,176.0C889.2,176.0 890.8,174.4 892.5,173.8C894.2,173.2 895.8,172.1 897.5,172.1C899.2,172.1 900.8,172.7 902.5,173.3C904.2,173.9 905.8,175.6 907.5,177.0C909.2,178.4 910.8,180.2 912.5,181.9C914.6,183.9 916.7,186.1 918.8,188.0C921.5,190.5 924.2,192.9 926.9,195.0" stroke="#fbfb24"/></g>
<g clip-path="url(#c2)" fill="none" stroke-width="4.4" stroke-linejoin="round" stroke-linecap="round"><path d="M1066,219.2 C1082,218.8 1090,216.7 1095.6,212.8 L1095.6,223.7 C1090,220.7 1082,219.6 1066,219.2Z" fill="#a30e10" stroke="none"/><path d="M1021.8,219.2C1042.8,219.2 1063.8,219.2 1084.8,219.2C1086.5,219.2 1088.1,218.9 1089.8,218.5C1090.8,218.3 1091.8,218.1 1092.8,217.5C1093.5,217.1 1094.1,216.3 1094.8,215.0C1095.3,214.1 1095.7,212.5 1096.2,209.9C1096.5,208.0 1096.9,203.9 1097.2,198.8C1097.5,194.2 1097.8,185.1 1098.1,176.8C1098.4,168.4 1098.7,155.9 1099.0,147.9C1099.4,136.4 1099.9,132.1 1100.3,119.1C1100.6,110.1 1100.9,94.2 1101.2,80.1C1101.4,70.6 1101.6,49.5 1101.8,49.5C1102.0,49.5 1102.2,70.6 1102.4,80.1C1102.7,94.2 1103.0,109.2 1103.3,119.1C1103.7,131.2 1104.0,137.8 1104.4,147.9C1104.7,157.1 1105.1,167.2 1105.4,176.8C1105.7,186.4 1106.1,195.6 1106.4,205.6C1106.6,212.7 1106.9,221.8 1107.1,227.7C1107.2,231.5 1107.4,237.4 1107.5,237.4C1107.8,237.4 1108.0,230.2 1108.2,227.7C1108.5,224.2 1108.8,221.6 1109.1,219.2C1109.5,215.9 1109.9,213.4 1110.3,210.7C1110.8,207.4 1111.3,204.3 1111.8,201.3C1112.5,197.4 1113.1,192.6 1113.8,190.3C1114.7,187.2 1115.5,185.7 1116.4,183.8C1117.0,182.6 1117.5,180.4 1118.1,180.4C1118.9,180.4 1119.7,185.5 1120.5,190.0C1121.6,196.1 1122.7,210.0 1123.8,222.5C1124.4,229.7 1125.0,245.4 1125.6,247.5C1126.0,248.9 1126.5,249.4 1126.9,250.0C1127.3,250.6 1127.7,250.5 1128.1,251.2C1128.5,252.0 1129.0,261.3 1129.4,263.8C1129.7,265.5 1130.0,267.5 1130.2,267.5C1130.8,267.5 1131.3,264.5 1131.9,262.5C1132.9,258.7 1134.0,251.1 1135.0,247.5C1136.2,243.2 1137.5,239.5 1138.8,237.5C1140.0,235.5 1141.2,233.9 1142.5,233.1C1144.2,232.2 1145.8,232.1 1147.5,231.2C1148.8,230.6 1150.0,229.5 1151.2,228.1C1152.5,226.8 1153.8,223.4 1155.0,222.5C1156.2,221.6 1157.5,220.6 1158.8,220.6C1160.0,220.6 1161.2,222.2 1162.5,223.1C1163.8,224.1 1165.0,226.2 1166.2,226.2C1167.5,226.2 1168.8,224.9 1170.0,223.8C1171.2,222.6 1172.5,220.0 1173.8,218.8C1175.0,217.5 1176.2,216.1 1177.5,215.6C1179.2,215.0 1180.8,214.4 1182.5,214.4C1184.2,214.4 1185.8,215.0 1187.5,215.0C1189.2,215.0 1190.8,212.3 1192.5,211.2C1194.2,210.2 1195.8,208.5 1197.5,208.5C1199.2,208.5 1200.8,209.4 1202.5,210.0C1204.2,210.6 1205.8,211.3 1207.5,211.9C1209.2,212.5 1210.8,213.1 1212.5,213.5C1214.2,213.9 1215.8,214.0 1217.5,214.4C1219.2,214.7 1220.8,215.3 1222.5,215.6C1224.6,216.1 1226.7,216.6 1228.8,216.9C1230.8,217.2 1232.9,217.3 1235.0,217.5C1237.1,217.7 1239.2,217.8 1241.2,218.1C1243.3,218.4 1245.4,219.4 1247.5,220.0C1249.6,220.6 1251.7,221.6 1253.8,221.9C1255.8,222.2 1257.9,222.5 1260.0,222.5C1262.1,222.5 1264.2,222.2 1266.2,221.9C1268.3,221.5 1270.4,220.2 1272.5,219.4C1274.6,218.5 1276.7,217.6 1278.8,216.9C1280.8,216.2 1282.9,215.1 1285.0,215.0C1287.1,214.9 1289.2,214.8 1291.2,214.8C1293.3,214.8 1295.4,215.3 1297.5,215.6C1299.6,216.0 1301.7,216.5 1303.8,216.9C1305.8,217.2 1307.9,217.6 1310.0,217.8C1312.1,217.9 1314.2,218.0 1316.2,218.1C1318.6,218.3 1321.0,218.5 1323.3,218.7C1326.7,219.0 1330.0,219.4 1333.3,219.7C1336.7,219.9 1340.0,220.3 1343.3,220.3C1347.8,220.3 1352.2,220.1 1356.7,220.0C1362.2,219.9 1367.8,219.7 1373.3,219.7C1378.9,219.7 1384.4,219.7 1390.0,219.7C1393.3,219.7 1396.7,220.3 1400.0,220.3C1403.9,220.3 1407.8,220.3 1411.7,220.3C1415.6,220.3 1419.4,219.9 1423.3,219.7C1428.9,219.3 1434.4,218.9 1440.0,218.7C1444.4,218.5 1448.9,218.3 1453.3,218.3C1457.2,218.3 1461.1,218.8 1465.0,219.2C1468.9,219.5 1472.8,220.0 1476.7,220.3C1481.1,220.7 1485.6,221.3 1490.0,221.3C1494.4,221.3 1498.9,221.3 1503.3,221.3C1507.2,221.3 1511.1,220.8 1515.0,220.5C1520.6,220.1 1526.1,219.5 1531.7,219.2C1537.2,218.8 1542.8,218.3 1548.3,218.3C1552.2,218.3 1556.1,218.7 1560.0,218.7C1565.6,218.7 1571.1,217.7 1576.7,217.7C1585.0,217.7 1593.3,217.7 1601.7,217.7C1610.0,217.7 1618.3,218.8 1626.7,219.2C1635.0,219.5 1643.3,220.0 1651.7,220.0C1660.0,220.0 1668.3,219.8 1676.7,219.7C1687.8,219.5 1698.9,219.4 1710.0,219.3C1721.1,219.3 1732.2,219.2 1743.3,219.2C1754.4,219.2 1765.6,219.5 1776.7,219.5C1787.8,219.5 1798.9,218.7 1810.0,218.7C1821.1,218.7 1832.2,218.7 1843.3,218.7C1855.6,218.7 1867.8,219.2 1880.0,219.7" stroke="#a30e10"/><path d="M1066,237.9 C1082,237.5 1090,235.3 1095.6,231.3 L1095.6,242.5 C1090,239.4 1082,238.3 1066,237.9Z" fill="#0e740e" stroke="none"/><path d="M1021.8,237.9C1042.8,237.9 1063.8,237.9 1084.8,237.9C1086.5,237.9 1088.1,237.6 1089.8,237.2C1090.8,237.0 1091.8,236.8 1092.8,236.2C1093.5,235.8 1094.1,235.0 1094.8,233.7C1095.3,232.8 1095.7,231.2 1096.2,228.6C1096.5,226.7 1096.9,222.6 1097.2,217.5C1097.5,212.9 1097.8,203.8 1098.1,195.5C1098.4,187.1 1098.7,174.6 1099.0,166.6C1099.4,155.1 1099.9,150.8 1100.3,137.8C1100.6,128.8 1100.9,112.9 1101.2,98.8C1101.4,89.3 1101.6,68.2 1101.8,68.2C1102.0,68.2 1102.2,89.3 1102.4,98.8C1102.7,112.9 1103.0,127.9 1103.3,137.8C1103.7,149.9 1104.0,156.5 1104.4,166.6C1104.7,175.8 1105.1,185.9 1105.4,195.5C1105.7,205.1 1106.1,214.3 1106.4,224.3C1106.6,231.4 1106.9,240.5 1107.1,246.4C1107.2,250.2 1107.4,256.1 1107.5,256.1C1107.8,256.1 1108.0,248.9 1108.2,246.4C1108.5,242.9 1108.8,240.3 1109.1,237.9C1109.5,234.6 1109.9,232.1 1110.3,229.4C1110.8,226.1 1111.3,223.0 1111.8,220.0C1112.5,216.1 1113.1,212.7 1113.8,209.0C1114.6,204.3 1115.5,196.9 1116.3,194.5C1116.9,192.9 1117.4,191.1 1118.0,191.1C1118.9,191.1 1119.8,194.8 1120.6,200.0C1121.2,203.7 1121.9,225.6 1122.5,235.0C1123.3,247.6 1124.2,258.9 1125.0,266.2C1125.8,273.6 1126.7,281.2 1127.5,283.1C1127.9,284.1 1128.3,285.0 1128.8,285.0C1129.6,285.0 1130.4,278.7 1131.2,272.5C1131.9,267.9 1132.5,253.1 1133.1,247.5C1133.8,241.9 1134.4,237.9 1135.0,235.0C1135.8,231.1 1136.7,227.5 1137.5,226.2C1138.3,225.0 1139.2,223.8 1140.0,223.8C1140.8,223.8 1141.7,228.1 1142.5,228.1C1143.3,228.1 1144.2,226.5 1145.0,225.0C1145.8,223.5 1146.7,217.3 1147.5,216.2C1148.3,215.2 1149.2,214.4 1150.0,214.4C1150.8,214.4 1151.7,216.2 1152.5,218.8C1153.1,220.6 1153.8,229.6 1154.4,235.0C1155.0,240.4 1155.6,248.2 1156.2,251.2C1157.1,255.3 1157.9,259.4 1158.8,259.4C1159.6,259.4 1160.4,259.1 1161.2,258.8C1162.1,258.4 1162.9,254.9 1163.8,253.8C1165.0,252.0 1166.2,250.8 1167.5,250.0C1169.2,248.9 1170.8,248.3 1172.5,247.5C1174.2,246.7 1175.8,246.2 1177.5,245.0C1178.8,244.1 1180.0,242.0 1181.2,240.0C1182.5,238.0 1183.8,234.9 1185.0,232.5C1186.2,230.1 1187.5,226.1 1188.8,225.6C1189.6,225.3 1190.4,225.0 1191.2,225.0C1192.5,225.0 1193.8,227.1 1195.0,228.8C1196.2,230.4 1197.5,234.6 1198.8,236.2C1200.4,238.5 1202.1,239.8 1203.8,241.2C1205.4,242.7 1207.1,244.2 1208.8,245.0C1210.4,245.8 1212.1,246.9 1213.8,246.9C1215.0,246.9 1216.2,245.8 1217.5,245.0C1219.2,243.9 1220.8,241.4 1222.5,240.0C1224.2,238.6 1225.8,236.5 1227.5,236.2C1230.0,235.9 1232.5,235.6 1235.0,235.6C1237.5,235.6 1240.0,235.6 1242.5,235.6C1245.0,235.6 1247.5,235.2 1250.0,235.0C1252.5,234.8 1255.0,234.5 1257.5,234.4C1260.0,234.2 1262.5,234.1 1265.0,234.0C1267.5,233.9 1270.0,233.8 1272.5,233.5C1274.6,233.3 1276.7,232.6 1278.8,232.2C1280.8,231.9 1282.9,231.5 1285.0,231.5C1287.1,231.5 1289.2,232.0 1291.2,232.5C1293.3,233.0 1295.4,234.0 1297.5,234.8C1299.6,235.5 1301.7,236.6 1303.8,237.2C1305.8,237.9 1307.9,238.7 1310.0,239.0C1312.1,239.3 1314.2,239.8 1316.2,239.8C1318.6,239.8 1321.0,238.8 1323.3,238.3C1326.1,237.7 1328.9,236.6 1331.7,236.3C1334.4,236.1 1337.2,235.8 1340.0,235.8C1342.8,235.8 1345.6,236.9 1348.3,237.5C1351.1,238.1 1353.9,239.2 1356.7,239.2C1362.2,239.2 1367.8,238.9 1373.3,238.7C1378.9,238.5 1384.4,237.8 1390.0,237.8C1395.6,237.8 1401.1,238.1 1406.7,238.3C1412.2,238.5 1417.8,239.2 1423.3,239.2C1428.9,239.2 1434.4,239.2 1440.0,239.2C1445.6,239.2 1451.1,238.9 1456.7,238.7C1459.4,238.6 1462.2,238.3 1465.0,238.3C1470.6,238.3 1476.1,238.9 1481.7,239.2C1484.4,239.3 1487.2,239.5 1490.0,239.5C1495.6,239.5 1501.1,239.3 1506.7,239.2C1512.2,239.0 1517.8,238.8 1523.3,238.7C1528.9,238.5 1534.4,238.3 1540.0,238.3C1546.7,238.3 1553.3,238.3 1560.0,238.3C1571.1,238.3 1582.2,238.3 1593.3,238.3C1604.4,238.3 1615.6,237.7 1626.7,237.5C1640.6,237.3 1654.4,237.0 1668.3,237.0C1676.7,237.0 1685.0,238.1 1693.3,238.3C1698.9,238.5 1704.4,238.7 1710.0,238.7C1721.1,238.7 1732.2,238.0 1743.3,238.0C1754.4,238.0 1765.6,238.0 1776.7,238.0C1787.8,238.0 1798.9,238.3 1810.0,238.3C1821.1,238.3 1832.2,238.0 1843.3,238.0C1855.6,238.0 1867.8,238.1 1880.0,238.3" stroke="#0e740e"/><path d="M1066,256.9 C1082,256.5 1090,255.3 1095.6,252.1 L1095.6,260.5 C1090,257.8 1082,257.3 1066,256.9Z" fill="#4040ae" stroke="none"/><path d="M1021.8,256.9C1042.8,256.9 1063.8,256.9 1084.8,256.9C1086.5,256.9 1088.1,256.6 1089.8,256.2C1090.8,256.0 1091.8,255.8 1092.8,255.2C1093.5,254.8 1094.1,253.9 1094.8,252.7C1095.3,251.7 1095.7,250.2 1096.2,247.6C1096.5,245.7 1096.9,241.6 1097.2,236.5C1097.5,231.9 1097.8,222.8 1098.1,214.4C1098.4,206.1 1098.7,193.5 1099.0,185.6C1099.4,174.1 1099.9,169.7 1100.3,156.7C1100.6,147.7 1100.9,131.8 1101.2,117.6C1101.4,108.2 1101.6,87.0 1101.8,87.0C1102.0,87.0 1102.2,108.2 1102.4,117.6C1102.7,131.8 1103.0,146.8 1103.3,156.7C1103.7,168.8 1104.0,175.5 1104.4,185.6C1104.7,194.7 1105.1,204.8 1105.4,214.4C1105.7,224.1 1106.1,233.2 1106.4,243.3C1106.6,250.4 1106.9,259.5 1107.1,265.4C1107.2,269.2 1107.4,275.1 1107.5,275.1C1107.8,275.1 1108.0,267.9 1108.2,265.4C1108.5,261.9 1108.8,259.3 1109.1,256.9C1109.5,253.6 1109.9,251.1 1110.3,248.4C1110.8,245.1 1111.3,242.0 1111.8,239.0C1112.5,235.1 1113.1,231.4 1113.8,228.0C1114.4,224.7 1115.1,220.4 1115.7,218.6C1116.3,217.0 1116.8,215.2 1117.4,215.2C1118.1,215.2 1118.8,227.8 1119.5,235.0C1120.2,242.6 1121.0,254.5 1121.7,260.0C1122.8,268.3 1123.9,272.5 1125.0,278.0C1126.0,283.0 1127.0,287.7 1128.0,292.0C1129.0,296.3 1130.0,301.0 1131.0,304.0C1131.8,306.5 1132.7,310.0 1133.5,310.0C1134.3,310.0 1135.2,307.6 1136.0,306.0C1137.1,303.9 1138.1,300.3 1139.2,297.5C1140.6,293.8 1142.1,288.0 1143.5,286.5C1144.8,285.1 1146.2,283.8 1147.5,283.8C1149.2,283.8 1150.8,284.6 1152.5,285.0C1154.2,285.4 1155.8,286.0 1157.5,286.2C1159.2,286.5 1160.8,286.9 1162.5,286.9C1163.8,286.9 1165.0,285.2 1166.2,283.8C1167.5,282.3 1168.8,279.1 1170.0,276.2C1171.2,273.4 1172.5,269.1 1173.8,266.2C1175.0,263.4 1176.2,260.0 1177.5,258.8C1178.8,257.5 1180.0,256.2 1181.2,256.2C1182.5,256.2 1183.8,256.2 1185.0,256.2C1186.2,256.2 1187.5,254.1 1188.8,252.5C1190.0,250.9 1191.2,248.1 1192.5,246.2C1193.8,244.4 1195.0,242.4 1196.2,241.2C1197.5,240.1 1198.8,239.0 1200.0,238.8C1201.7,238.4 1203.3,238.1 1205.0,238.1C1206.7,238.1 1208.3,238.1 1210.0,238.1C1212.1,238.1 1214.2,237.8 1216.2,237.5C1218.3,237.2 1220.4,235.8 1222.5,235.0C1224.2,234.4 1225.8,233.4 1227.5,233.1C1229.2,232.8 1230.8,232.5 1232.5,232.5C1234.2,232.5 1235.8,233.9 1237.5,235.0C1239.2,236.1 1240.8,238.1 1242.5,240.0C1244.2,241.9 1245.8,244.2 1247.5,246.2C1249.2,248.3 1250.8,250.8 1252.5,252.5C1254.2,254.2 1255.8,255.8 1257.5,256.9C1259.2,257.9 1260.8,259.0 1262.5,259.4C1264.2,259.7 1265.8,260.0 1267.5,260.0C1269.2,260.0 1270.8,259.6 1272.5,259.4C1275.0,259.0 1277.5,258.1 1280.0,258.1C1282.5,258.1 1285.0,258.1 1287.5,258.1C1290.0,258.1 1292.5,259.0 1295.0,259.4C1297.5,259.8 1300.0,260.4 1302.5,260.6C1305.0,260.8 1307.5,261.0 1310.0,261.0C1312.5,261.0 1315.0,260.8 1317.5,260.6C1319.4,260.5 1321.4,260.5 1323.3,260.3C1326.7,260.1 1330.0,259.2 1333.3,259.2C1336.7,259.2 1340.0,259.7 1343.3,260.0C1346.7,260.3 1350.0,260.8 1353.3,260.8C1357.2,260.8 1361.1,259.6 1365.0,259.2C1370.6,258.5 1376.1,257.9 1381.7,257.5C1387.2,257.1 1392.8,256.9 1398.3,256.7C1403.9,256.4 1409.4,256.1 1415.0,255.8C1420.6,255.6 1426.1,255.3 1431.7,255.0C1437.2,254.7 1442.8,254.2 1448.3,254.2C1453.9,254.2 1459.4,254.4 1465.0,254.7C1468.9,254.9 1472.8,255.8 1476.7,256.3C1481.1,257.0 1485.6,257.8 1490.0,258.3C1494.4,258.9 1498.9,259.5 1503.3,259.7C1507.2,259.8 1511.1,260.0 1515.0,260.0C1518.9,260.0 1522.8,259.6 1526.7,259.2C1531.1,258.7 1535.6,257.5 1540.0,256.7C1543.9,256.0 1547.8,254.7 1551.7,254.7C1554.4,254.7 1557.2,255.3 1560.0,255.3C1565.6,255.3 1571.1,254.3 1576.7,254.2C1585.0,254.0 1593.3,253.8 1601.7,253.8C1607.2,253.8 1612.8,254.5 1618.3,255.0C1623.9,255.5 1629.4,256.1 1635.0,256.7C1640.6,257.2 1646.1,258.0 1651.7,258.3C1657.2,258.7 1662.8,259.2 1668.3,259.2C1676.7,259.2 1685.0,258.7 1693.3,258.3C1701.7,258.0 1710.0,257.5 1718.3,257.0C1723.9,256.7 1729.4,256.0 1735.0,255.8C1740.6,255.7 1746.1,255.5 1751.7,255.5C1760.0,255.5 1768.3,256.3 1776.7,256.3C1787.8,256.3 1798.9,256.2 1810.0,256.2C1821.1,256.1 1832.2,256.0 1843.3,256.0C1855.6,256.0 1867.8,256.5 1880.0,257.0" stroke="#4040ae"/><path d="M1066,275.4 C1082,275.0 1090,273.4 1095.6,269.8 L1095.6,279.5 C1090,276.6 1082,275.8 1066,275.4Z" fill="#9e129e" stroke="none"/><path d="M1021.8,275.4C1042.8,275.4 1063.8,275.4 1084.8,275.4C1086.5,275.4 1088.1,275.1 1089.8,274.7C1090.8,274.5 1091.8,274.3 1092.8,273.7C1093.5,273.3 1094.1,272.5 1094.8,271.2C1095.3,270.3 1095.7,268.7 1096.2,266.1C1096.5,264.2 1096.9,260.1 1097.2,255.0C1097.5,250.4 1097.8,241.3 1098.1,233.0C1098.4,224.6 1098.7,212.1 1099.0,204.1C1099.4,192.6 1099.9,188.3 1100.3,175.3C1100.6,166.3 1100.9,150.4 1101.2,136.3C1101.4,126.8 1101.6,105.7 1101.8,105.7C1102.0,105.7 1102.2,126.8 1102.4,136.3C1102.7,150.4 1103.0,165.4 1103.3,175.3C1103.7,187.4 1104.0,194.0 1104.4,204.1C1104.7,213.3 1105.1,223.4 1105.4,233.0C1105.7,242.6 1106.1,251.8 1106.4,261.8C1106.6,268.9 1106.9,278.0 1107.1,283.9C1107.2,287.7 1107.4,293.6 1107.5,293.6C1107.8,293.6 1108.0,286.4 1108.2,283.9C1108.5,280.4 1108.8,277.8 1109.1,275.4C1109.5,272.1 1109.9,269.6 1110.3,266.9C1110.8,263.6 1111.3,260.5 1111.8,257.5C1112.5,253.6 1113.1,249.9 1113.8,246.5C1114.4,243.2 1115.1,238.9 1115.7,237.1C1116.3,235.5 1116.8,233.7 1117.4,233.7C1118.1,233.7 1118.8,247.2 1119.5,255.0C1120.2,262.5 1120.8,271.7 1121.5,280.0C1122.2,288.3 1122.8,297.6 1123.5,305.0C1124.2,312.4 1124.8,320.3 1125.5,325.0C1126.1,329.3 1126.7,335.0 1127.3,335.0C1127.8,335.0 1128.3,328.9 1128.8,325.0C1129.3,320.9 1129.9,314.2 1130.4,310.0C1131.1,304.5 1131.8,299.3 1132.5,296.0C1133.5,291.1 1134.6,290.1 1135.6,285.0C1136.0,283.0 1136.5,278.4 1136.9,276.2C1137.5,273.0 1138.1,269.8 1138.8,268.8C1139.6,267.4 1140.4,266.2 1141.2,266.2C1142.1,266.2 1142.9,271.2 1143.8,271.2C1144.6,271.2 1145.4,267.9 1146.2,266.2C1147.1,264.6 1147.9,261.2 1148.8,261.2C1149.6,261.2 1150.4,263.0 1151.2,265.0C1152.1,267.0 1152.9,273.5 1153.8,278.8C1154.7,284.5 1155.6,294.2 1156.5,298.8C1157.2,302.5 1158.0,306.5 1158.8,307.5C1159.6,308.6 1160.4,309.4 1161.2,309.4C1162.3,309.4 1163.3,306.1 1164.4,303.8C1165.4,301.4 1166.5,295.5 1167.5,294.4C1168.8,293.0 1170.0,292.1 1171.2,291.9C1172.9,291.5 1174.6,291.6 1176.2,291.2C1177.5,291.0 1178.8,288.2 1180.0,286.2C1181.2,284.2 1182.5,281.2 1183.8,278.8C1185.0,276.2 1186.2,273.1 1187.5,271.2C1188.8,269.4 1190.0,266.9 1191.2,266.9C1192.5,266.9 1193.8,267.1 1195.0,267.5C1196.2,267.9 1197.5,270.4 1198.8,271.9C1200.4,273.8 1202.1,276.3 1203.8,277.5C1205.4,278.7 1207.1,280.0 1208.8,280.0C1210.0,280.0 1211.2,278.6 1212.5,277.5C1214.2,276.1 1215.8,273.2 1217.5,271.2C1219.2,269.3 1220.8,266.6 1222.5,265.6C1224.2,264.7 1225.8,263.8 1227.5,263.8C1229.2,263.8 1230.8,264.9 1232.5,265.6C1234.2,266.3 1235.8,267.8 1237.5,268.1C1239.2,268.5 1240.8,268.8 1242.5,268.8C1245.0,268.8 1247.5,268.5 1250.0,268.5C1252.5,268.5 1255.0,268.5 1257.5,268.5C1260.0,268.5 1262.5,268.3 1265.0,268.1C1267.5,267.9 1270.0,267.5 1272.5,266.9C1274.2,266.5 1275.8,265.3 1277.5,265.0C1279.2,264.7 1280.8,264.4 1282.5,264.4C1284.2,264.4 1285.8,265.0 1287.5,265.6C1289.2,266.2 1290.8,267.6 1292.5,268.8C1294.2,269.9 1295.8,271.4 1297.5,272.5C1299.6,273.9 1301.7,275.2 1303.8,276.2C1305.8,277.2 1307.9,278.4 1310.0,278.8C1312.1,279.1 1314.2,279.3 1316.2,279.4C1318.6,279.5 1321.0,279.7 1323.3,279.7C1326.7,279.7 1330.0,278.7 1333.3,278.7C1336.7,278.7 1340.0,278.9 1343.3,279.2C1347.8,279.5 1352.2,280.7 1356.7,280.8C1362.2,281.0 1367.8,281.2 1373.3,281.2C1376.1,281.2 1378.9,280.3 1381.7,279.7C1384.4,279.1 1387.2,278.1 1390.0,277.5C1393.3,276.8 1396.7,276.1 1400.0,275.8C1403.9,275.6 1407.8,275.5 1411.7,275.3C1415.6,275.2 1419.4,275.2 1423.3,275.0C1428.9,274.8 1434.4,273.8 1440.0,273.7C1445.6,273.5 1451.1,273.3 1456.7,273.3C1459.4,273.3 1462.2,273.8 1465.0,274.2C1468.9,274.6 1472.8,275.5 1476.7,275.8C1481.1,276.2 1485.6,276.7 1490.0,276.7C1495.6,276.7 1501.1,276.7 1506.7,276.7C1512.2,276.7 1517.8,276.1 1523.3,275.8C1528.9,275.6 1534.4,275.0 1540.0,275.0C1546.7,275.0 1553.3,275.3 1560.0,275.3C1565.6,275.3 1571.1,274.7 1576.7,274.7C1585.0,274.7 1593.3,275.8 1601.7,275.8C1607.2,275.8 1612.8,275.5 1618.3,275.3C1623.9,275.2 1629.4,275.0 1635.0,275.0C1643.3,275.0 1651.7,275.2 1660.0,275.3C1671.1,275.5 1682.2,276.2 1693.3,276.2C1704.4,276.2 1715.6,275.9 1726.7,275.8C1737.8,275.7 1748.9,275.5 1760.0,275.5C1776.7,275.5 1793.3,275.5 1810.0,275.5C1833.3,275.5 1856.7,275.5 1880.0,275.5" stroke="#9e129e"/><path d="M1066,294.2 C1082,293.8 1090,293.4 1095.6,290.6 L1095.6,297.2 C1090,294.7 1082,294.6 1066,294.2Z" fill="#127a7a" stroke="none"/><path d="M1021.9,294.2C1042.9,294.2 1063.9,294.2 1084.9,294.2C1086.6,294.2 1088.2,293.9 1089.9,293.5C1090.9,293.3 1091.9,293.1 1092.9,292.5C1093.6,292.1 1094.2,291.3 1094.9,290.0C1095.4,289.1 1095.8,287.5 1096.3,284.9C1096.6,283.0 1097.0,278.9 1097.3,273.8C1097.6,269.2 1097.9,260.1 1098.2,251.8C1098.5,243.4 1098.8,230.9 1099.1,222.9C1099.5,211.4 1100.0,207.1 1100.4,194.1C1100.7,185.1 1101.0,169.2 1101.3,155.1C1101.5,145.6 1101.7,124.5 1101.9,124.5C1102.1,124.5 1102.3,145.6 1102.5,155.1C1102.8,169.2 1103.1,184.2 1103.4,194.1C1103.8,206.2 1104.1,212.8 1104.5,222.9C1104.8,232.1 1105.2,242.2 1105.5,251.8C1105.8,261.4 1106.2,270.6 1106.5,280.6C1106.7,287.7 1107.0,296.8 1107.2,302.7C1107.4,306.5 1107.5,312.4 1107.7,312.4C1107.9,312.4 1108.1,305.2 1108.3,302.7C1108.6,299.2 1108.9,296.6 1109.2,294.2C1109.6,290.9 1110.0,288.4 1110.4,285.7C1110.9,282.4 1111.4,279.3 1111.9,276.3C1112.6,272.4 1113.2,268.7 1113.9,265.3C1114.5,262.0 1115.2,257.7 1115.8,255.9C1116.4,254.3 1116.9,252.5 1117.5,252.5C1118.2,252.5 1118.8,257.6 1119.5,262.0C1120.0,265.3 1120.5,269.7 1121.0,277.0C1121.5,284.3 1122.0,309.9 1122.5,317.5C1123.3,330.1 1124.2,337.1 1125.0,342.5C1126.2,350.7 1127.5,357.5 1128.8,360.0C1130.4,363.4 1132.1,366.2 1133.8,366.2C1135.0,366.2 1136.2,360.1 1137.5,355.0C1138.3,351.6 1139.2,342.7 1140.0,340.0C1140.8,337.3 1141.7,334.4 1142.5,334.4C1143.3,334.4 1144.2,338.1 1145.0,338.8C1145.8,339.4 1146.7,339.7 1147.5,340.0C1148.8,340.5 1150.0,340.6 1151.2,341.2C1152.5,341.9 1153.8,345.6 1155.0,347.5C1156.2,349.4 1157.5,351.6 1158.8,352.5C1160.0,353.4 1161.2,354.4 1162.5,354.4C1163.8,354.4 1165.0,353.6 1166.2,352.5C1167.5,351.4 1168.8,342.1 1170.0,335.0C1170.8,330.3 1171.7,322.4 1172.5,317.5C1173.3,312.6 1174.2,308.1 1175.0,305.0C1175.8,301.9 1176.7,299.0 1177.5,297.5C1180.0,293.0 1182.5,292.3 1185.0,288.8C1186.7,286.4 1188.3,283.1 1190.0,280.0C1191.7,276.9 1193.3,273.1 1195.0,270.0C1196.7,266.9 1198.3,263.4 1200.0,261.2C1201.7,259.1 1203.3,256.9 1205.0,256.2C1206.7,255.6 1208.3,255.0 1210.0,255.0C1212.1,255.0 1214.2,256.2 1216.2,256.2C1218.3,256.2 1220.4,256.2 1222.5,256.2C1224.2,256.2 1225.8,254.2 1227.5,253.8C1228.8,253.4 1230.0,253.1 1231.2,253.1C1232.5,253.1 1233.8,255.3 1235.0,256.2C1236.7,257.6 1238.3,258.0 1240.0,260.0C1241.7,262.0 1243.3,268.9 1245.0,273.3C1246.7,277.8 1248.3,283.0 1250.0,286.7C1251.7,290.3 1253.3,294.2 1255.0,295.8C1256.7,297.5 1258.3,298.9 1260.0,299.2C1262.2,299.5 1264.4,299.7 1266.7,299.7C1268.9,299.7 1271.1,298.1 1273.3,297.5C1275.6,296.9 1277.8,295.8 1280.0,295.8C1282.2,295.8 1284.4,296.8 1286.7,297.5C1289.4,298.3 1292.2,300.0 1295.0,300.8C1298.9,302.0 1302.8,303.2 1306.7,303.7C1311.1,304.2 1315.6,304.7 1320.0,304.7C1324.4,304.7 1328.9,304.4 1333.3,304.2C1336.7,304.0 1340.0,303.7 1343.3,303.3C1346.7,302.9 1350.0,302.1 1353.3,301.3C1357.2,300.5 1361.1,299.0 1365.0,298.3C1370.6,297.4 1376.1,297.3 1381.7,296.3C1385.6,295.7 1389.4,294.3 1393.3,293.3C1396.7,292.5 1400.0,291.2 1403.3,290.8C1406.7,290.4 1410.0,290.0 1413.3,290.0C1416.7,290.0 1420.0,290.2 1423.3,290.3C1427.8,290.6 1432.2,292.1 1436.7,292.5C1440.6,292.9 1444.4,293.3 1448.3,293.3C1452.2,293.3 1456.1,292.2 1460.0,292.0C1463.3,291.8 1466.7,291.7 1470.0,291.7C1473.3,291.7 1476.7,292.7 1480.0,293.3C1484.4,294.2 1488.9,295.8 1493.3,296.7C1497.8,297.5 1502.2,298.4 1506.7,298.7C1511.1,298.9 1515.6,299.2 1520.0,299.2C1523.9,299.2 1527.8,298.6 1531.7,298.0C1535.6,297.4 1539.4,296.1 1543.3,295.0C1546.7,294.1 1550.0,292.0 1553.3,292.0C1555.6,292.0 1557.8,292.0 1560.0,292.0C1565.6,292.0 1571.1,291.0 1576.7,290.8C1585.0,290.6 1593.3,290.3 1601.7,290.3C1607.2,290.3 1612.8,290.9 1618.3,291.3C1623.9,291.8 1629.4,292.8 1635.0,293.7C1640.6,294.5 1646.1,295.6 1651.7,296.3C1657.2,297.0 1662.8,298.0 1668.3,298.0C1673.9,298.0 1679.4,297.7 1685.0,297.5C1693.3,297.2 1701.7,297.1 1710.0,296.7C1715.6,296.4 1721.1,295.9 1726.7,295.3C1732.2,294.8 1737.8,293.7 1743.3,293.3C1748.9,292.9 1754.4,292.5 1760.0,292.5C1771.1,292.5 1782.2,293.3 1793.3,293.3C1804.4,293.3 1815.6,293.3 1826.7,293.3C1837.8,293.3 1848.9,293.8 1860.0,294.2C1866.7,294.4 1873.3,294.7 1880.0,295.0" stroke="#127a7a"/><path d="M1103.6,313 L1111.6,313 L1111.2,330 L1107.8,336 L1104.4,330 Z" fill="#fbfb24" stroke="none"/><path d="M1022.0,313.3C1042.3,313.3 1062.7,313.3 1083.0,313.3C1084.7,313.3 1086.3,312.8 1088.0,312.3C1089.0,312.0 1090.0,311.3 1091.0,310.5C1091.8,309.9 1092.7,309.2 1093.5,308.0C1094.1,307.2 1094.7,305.7 1095.3,304.0C1095.8,302.6 1096.3,301.1 1096.8,298.0C1097.1,296.2 1097.4,293.4 1097.7,288.0C1097.9,285.0 1098.0,279.2 1098.2,270.0C1098.4,257.1 1098.7,184.2 1098.9,175.0C1099.2,164.5 1099.4,161.4 1099.7,157.0C1100.1,151.0 1100.4,143.0 1100.8,143.0C1101.2,143.0 1101.5,151.0 1101.9,157.0C1102.2,161.4 1102.4,166.4 1102.7,175.0C1102.8,179.3 1103.0,185.6 1103.1,195.0C1103.4,213.8 1103.6,303.9 1103.9,312.0C1104.2,321.1 1104.5,323.7 1104.8,327.0C1105.3,332.1 1105.7,338.0 1106.2,338.0C1106.7,338.0 1107.3,331.0 1107.8,331.0C1108.3,331.0 1108.9,338.0 1109.4,338.0C1109.8,338.0 1110.2,333.1 1110.6,327.0C1110.8,324.0 1111.0,315.5 1111.2,308.0C1111.4,300.5 1111.6,290.4 1111.8,280.0C1112.0,269.6 1112.2,255.8 1112.4,245.0C1112.7,230.6 1112.9,212.1 1113.2,205.0C1113.6,194.3 1114.0,184.0 1114.4,184.0C1114.8,184.0 1115.2,194.7 1115.6,205.0C1115.9,212.7 1116.2,232.6 1116.5,245.0C1116.8,257.4 1117.1,270.4 1117.4,280.0C1117.8,292.8 1118.2,302.9 1118.6,312.0C1119.2,324.8 1119.7,334.8 1120.3,345.0C1121.0,358.3 1121.8,368.9 1122.5,382.0C1123.2,393.9 1123.8,408.2 1124.5,420.0C1125.0,428.9 1125.5,445.0 1126.0,445.0C1126.5,445.0 1127.0,430.6 1127.5,420.0C1127.8,412.9 1128.2,397.5 1128.5,392.0C1129.0,383.7 1129.5,383.0 1130.0,375.0C1130.4,368.3 1130.8,350.1 1131.2,342.5C1131.9,331.3 1132.5,321.8 1133.1,317.5C1134.1,310.2 1135.2,305.5 1136.2,303.8C1137.5,301.7 1138.8,300.0 1140.0,300.0C1141.2,300.0 1142.5,300.0 1143.8,300.0C1144.6,300.0 1145.4,302.5 1146.2,305.0C1147.1,307.5 1147.9,316.0 1148.8,320.0C1149.6,324.0 1150.4,327.5 1151.2,330.0C1152.5,333.8 1153.8,335.8 1155.0,338.8C1156.2,341.7 1157.5,347.5 1158.8,347.5C1159.6,347.5 1160.4,344.7 1161.2,342.5C1162.5,339.2 1163.8,330.4 1165.0,326.2C1166.2,322.1 1167.5,317.3 1168.8,316.2C1169.6,315.6 1170.4,315.0 1171.2,315.0C1172.5,315.0 1173.8,319.2 1175.0,321.2C1176.2,323.3 1177.5,327.1 1178.8,327.5C1180.0,327.9 1181.2,328.1 1182.5,328.1C1183.8,328.1 1185.0,324.2 1186.2,322.5C1187.9,320.2 1189.6,316.8 1191.2,316.2C1193.3,315.5 1195.4,315.0 1197.5,315.0C1199.6,315.0 1201.7,315.6 1203.8,315.6C1205.4,315.6 1207.1,315.4 1208.8,315.0C1210.0,314.7 1211.2,311.3 1212.5,310.0C1214.2,308.2 1215.8,306.3 1217.5,305.6C1219.2,305.0 1220.8,304.4 1222.5,304.4C1224.6,304.4 1226.7,304.6 1228.8,304.8C1230.8,304.9 1232.9,305.0 1235.0,305.0C1237.1,305.0 1239.2,304.7 1241.2,304.4C1243.3,304.1 1245.4,303.5 1247.5,303.1C1249.6,302.7 1251.7,301.9 1253.8,301.9C1255.8,301.9 1257.9,301.9 1260.0,301.9C1262.1,301.9 1264.2,301.9 1266.2,301.9C1268.3,301.9 1270.4,301.2 1272.5,300.6C1274.2,300.2 1275.8,299.1 1277.5,298.8C1278.8,298.5 1280.0,298.1 1281.2,298.1C1282.5,298.1 1283.8,299.3 1285.0,300.0C1287.1,301.2 1289.2,302.8 1291.2,304.4C1293.3,305.9 1295.4,307.9 1297.5,309.4C1299.6,310.8 1301.7,312.1 1303.8,313.1C1305.8,314.1 1307.9,315.3 1310.0,315.6C1312.1,316.0 1314.2,316.2 1316.2,316.2C1318.6,316.2 1321.0,315.8 1323.3,315.8C1326.7,315.8 1330.0,316.1 1333.3,316.3C1336.7,316.6 1340.0,317.6 1343.3,318.0C1347.8,318.5 1352.2,319.2 1356.7,319.2C1361.1,319.2 1365.6,319.2 1370.0,319.2C1373.9,319.2 1377.8,318.8 1381.7,318.3C1384.4,318.0 1387.2,316.7 1390.0,315.8C1392.8,314.9 1395.6,313.5 1398.3,313.0C1401.1,312.5 1403.9,312.0 1406.7,312.0C1412.2,312.0 1417.8,312.0 1423.3,312.0C1428.9,312.0 1434.4,311.7 1440.0,311.7C1445.6,311.7 1451.1,311.7 1456.7,311.7C1459.4,311.7 1462.2,312.1 1465.0,312.5C1468.9,313.0 1472.8,314.2 1476.7,314.7C1481.1,315.2 1485.6,315.8 1490.0,315.8C1494.4,315.8 1498.9,315.6 1503.3,315.3C1507.2,315.1 1511.1,314.5 1515.0,314.2C1520.6,313.7 1526.1,313.2 1531.7,313.0C1537.2,312.8 1542.8,312.7 1548.3,312.5C1552.2,312.4 1556.1,312.0 1560.0,312.0C1571.1,312.0 1582.2,313.3 1593.3,313.3C1604.4,313.3 1615.6,312.8 1626.7,312.8C1637.8,312.8 1648.9,313.2 1660.0,313.3C1676.7,313.5 1693.3,313.8 1710.0,313.8C1721.1,313.8 1732.2,313.4 1743.3,313.3C1765.6,313.2 1787.8,313.0 1810.0,313.0C1833.3,313.0 1856.7,313.0 1880.0,313.0" stroke="#fbfb24"/></g>
<g clip-path="url(#c3)" fill="none" stroke-width="4.4" stroke-linejoin="round" stroke-linecap="round" transform="translate(0,0)"><path d="M126.2,740.0C127.5,743.0 128.8,746.4 130.0,750.2C131.2,754.0 132.5,758.8 133.8,763.1C135.0,767.5 136.2,771.9 137.5,776.3C138.8,780.7 140.0,786.1 141.2,789.6C142.5,793.2 143.8,796.4 145.0,798.4C146.2,800.4 147.5,801.9 148.8,802.9C150.4,804.2 152.1,805.5 153.8,805.8C155.8,806.1 157.9,806.3 160.0,806.3C161.7,806.3 163.3,805.5 165.0,804.8C166.7,804.1 168.3,802.6 170.0,801.2C171.7,799.8 173.3,797.9 175.0,796.2C176.7,794.6 178.3,792.8 180.0,791.3C181.7,789.9 183.3,788.5 185.0,787.6C186.7,786.7 188.3,785.7 190.0,785.4C192.1,784.9 194.2,784.5 196.2,784.5C198.3,784.5 200.4,784.8 202.5,785.0C204.6,785.3 206.7,785.8 208.8,786.2C210.8,786.7 212.9,787.1 215.0,787.5C217.1,787.8 219.2,788.2 221.2,788.5C223.3,788.7 225.4,789.1 227.5,789.1C229.6,789.1 231.7,789.0 233.8,789.0C235.4,788.9 237.1,788.1 238.8,787.3C240.4,786.6 242.1,785.1 243.8,783.6C245.4,782.1 247.1,780.0 248.8,778.1C250.4,776.3 252.1,774.3 253.8,772.5C255.4,770.8 257.1,769.0 258.8,767.6C260.4,766.2 262.1,764.9 263.8,763.8C265.8,762.5 267.9,761.3 270.0,760.3C272.1,759.3 274.2,758.3 276.2,757.6C278.3,756.8 280.4,756.2 282.5,755.7C284.6,755.2 286.7,754.7 288.8,754.4C290.8,754.1 292.9,753.9 295.0,753.8C297.1,753.6 299.2,753.6 301.2,753.4C303.3,753.2 305.4,752.5 307.5,751.7C309.2,751.1 310.8,749.9 312.5,748.6C314.2,747.3 315.8,745.5 317.5,743.7C319.2,741.8 320.8,739.6 322.5,737.5C324.2,735.4 325.8,733.2 327.5,731.4C329.6,729.0 331.7,727.1 333.8,724.9C338.6,719.9 343.5,713.9 348.3,709.4C351.1,706.8 353.9,704.8 356.7,702.5C359.4,700.2 362.2,698.0 365.0,695.8C367.8,693.6 370.6,691.3 373.3,689.2C376.1,687.2 378.9,685.1 381.7,683.5C384.4,681.8 387.2,680.3 390.0,679.3C392.8,678.2 395.6,677.4 398.3,676.8C401.1,676.2 403.9,675.8 406.7,675.3C409.4,674.9 412.2,674.7 415.0,674.1C416.7,673.7 418.3,673.1 420.0,672.3C422.2,671.3 424.4,669.0 426.7,667.6C428.9,666.1 431.1,664.3 433.3,663.5C435.6,662.7 437.8,661.9 440.0,661.8C442.8,661.7 445.6,661.7 448.3,661.7C451.1,661.7 453.9,661.9 456.7,662.0C459.4,662.2 462.2,662.7 465.0,663.0C467.8,663.4 470.6,663.8 473.3,664.1C476.1,664.5 478.9,664.8 481.7,664.9C484.4,665.0 487.2,665.0 490.0,665.1C492.8,665.2 495.6,666.1 498.3,666.7C501.1,667.4 503.9,668.3 506.7,669.2C509.4,670.2 512.2,671.5 515.0,672.5C517.8,673.5 520.6,674.5 523.3,675.3C526.1,676.1 528.9,676.8 531.7,677.5C534.4,678.2 537.2,679.0 540.0,679.7C542.8,680.3 545.6,681.1 548.3,681.6C551.1,682.1 553.9,682.7 556.7,682.9C559.4,683.1 562.2,683.3 565.0,683.3C567.8,683.3 570.6,683.1 573.3,683.0C576.1,682.9 578.9,682.6 581.7,682.6C584.4,682.6 587.2,682.9 590.0,683.0C592.8,683.1 595.6,683.2 598.3,683.2C601.1,683.2 603.9,682.3 606.7,682.0C609.4,681.7 612.2,681.2 615.0,681.2C619.4,681.2 623.9,683.9 628.3,686.2C631.1,687.6 633.9,690.1 636.7,692.7C639.4,695.2 642.2,698.5 645.0,701.9C647.8,705.3 650.6,709.5 653.3,713.3C655.6,716.3 657.8,720.0 660.0,722.3C661.7,724.0 663.3,726.4 665.0,726.4C666.1,726.4 667.2,726.4 668.3,726.4C669.4,726.3 670.6,723.9 671.7,722.3C673.3,720.0 675.0,716.1 676.7,713.5C678.9,710.1 681.1,707.0 683.3,704.4C686.1,701.1 688.9,698.3 691.7,696.0C694.4,693.7 697.2,691.6 700.0,690.2C702.8,688.9 705.6,687.9 708.3,687.1C711.1,686.3 713.9,685.6 716.7,685.0C719.4,684.5 722.2,683.8 725.0,683.8C727.8,683.8 730.6,683.7 733.3,683.7C736.1,683.7 738.9,684.4 741.7,684.6C744.4,684.9 747.2,685.3 750.0,685.3C752.8,685.3 755.6,685.1 758.3,684.9C761.1,684.8 763.9,684.0 766.7,683.9C769.4,683.8 772.2,683.8 775.0,683.8C777.8,683.8 780.6,684.5 783.3,685.1C786.1,685.8 788.9,687.2 791.7,688.4C794.4,689.6 797.2,691.3 800.0,692.4C802.8,693.5 805.6,695.1 808.3,695.1C811.1,695.1 813.9,694.8 816.7,694.6C819.4,694.3 822.2,692.7 825.0,692.7C827.2,692.7 829.4,692.9 831.7,693.2C833.9,693.6 836.1,695.4 838.3,696.8C840.6,698.3 842.8,700.8 845.0,702.3C847.8,704.3 850.6,706.3 853.3,707.3C855.6,708.1 857.8,709.0 860.0,709.0C862.2,709.0 864.4,708.4 866.7,707.8C869.4,707.2 872.2,705.3 875.0,704.2C877.8,703.1 880.6,701.5 883.3,701.0C886.1,700.6 888.9,700.2 891.7,700.2C894.4,700.2 897.2,700.9 900.0,701.4C902.8,702.0 905.6,703.2 908.3,704.3C911.1,705.4 913.9,706.9 916.7,708.4C920.6,710.4 924.4,712.5 928.3,714.7" stroke="#107274"/><path d="M126.2,740.0C127.5,743.0 128.8,746.5 130.0,750.2C131.2,753.9 132.5,758.4 133.8,762.5C135.0,766.6 136.2,770.9 137.5,775.0C138.8,779.1 140.0,783.9 141.2,787.2C142.5,790.4 143.8,793.9 145.0,795.2C146.2,796.5 147.5,797.9 148.8,797.9C150.0,797.9 151.2,797.6 152.5,797.4C154.2,797.1 155.8,795.8 157.5,795.0C159.6,793.8 161.7,792.5 163.8,791.2C165.8,790.0 167.9,788.8 170.0,787.5C172.1,786.1 174.2,784.6 176.2,783.1C178.3,781.7 180.4,780.2 182.5,778.8C184.6,777.3 186.7,775.8 188.8,774.4C190.8,773.1 192.9,771.8 195.0,770.7C197.1,769.5 199.2,768.4 201.2,767.3C203.3,766.1 205.4,765.1 207.5,764.0C209.6,762.9 211.7,761.8 213.8,760.6C215.8,759.4 217.9,758.1 220.0,756.9C222.1,755.6 224.2,754.3 226.2,753.2C228.3,752.0 230.4,750.9 232.5,750.1C234.6,749.2 236.7,748.4 238.8,747.8C240.8,747.3 242.9,746.7 245.0,746.6C247.1,746.4 249.2,746.3 251.2,746.3C253.3,746.3 255.4,746.6 257.5,747.0C259.6,747.3 261.7,747.9 263.8,748.6C265.8,749.3 267.9,750.2 270.0,751.4C272.1,752.5 274.2,754.1 276.2,755.8C278.3,757.5 280.4,759.8 282.5,761.9C284.2,763.7 285.8,766.0 287.5,767.4C288.8,768.4 290.0,769.8 291.2,769.8C292.5,769.8 293.8,769.4 295.0,769.0C296.2,768.6 297.5,765.7 298.8,763.5C300.0,761.3 301.2,757.8 302.5,755.0C303.8,752.2 305.0,748.8 306.2,746.5C307.9,743.4 309.6,741.1 311.2,738.9C313.3,736.1 315.4,733.6 317.5,731.3C319.6,729.0 321.7,727.1 323.8,725.0C328.6,720.1 333.5,714.6 338.3,710.4C344.4,705.1 350.6,701.5 356.7,696.5C359.4,694.2 362.2,691.6 365.0,689.2C367.8,686.9 370.6,684.6 373.3,682.6C376.1,680.5 378.9,678.4 381.7,676.8C384.4,675.2 387.2,673.8 390.0,672.6C392.8,671.3 395.6,670.2 398.3,669.2C401.1,668.3 403.9,667.6 406.7,666.6C409.4,665.6 412.2,664.3 415.0,663.4C417.8,662.5 420.6,661.6 423.3,660.9C426.1,660.2 428.9,659.6 431.7,659.2C434.4,658.9 437.2,658.4 440.0,658.4C442.8,658.4 445.6,658.6 448.3,658.7C451.1,658.9 453.9,659.5 456.7,660.1C459.4,660.7 462.2,661.6 465.0,662.6C467.8,663.7 470.6,665.2 473.3,666.8C476.1,668.4 478.9,670.8 481.7,672.4C484.4,673.9 487.2,675.9 490.0,676.4C492.8,676.9 495.6,677.4 498.3,677.4C501.1,677.4 503.9,677.0 506.7,677.0C509.4,677.0 512.2,677.0 515.0,677.0C517.8,677.0 520.6,677.3 523.3,677.5C526.1,677.8 528.9,678.2 531.7,678.7C534.4,679.3 537.2,680.0 540.0,681.0C542.8,682.0 545.6,683.5 548.3,685.2C550.6,686.6 552.8,689.5 555.0,690.6C557.2,691.7 559.4,693.0 561.7,693.0C563.9,693.0 566.1,692.2 568.3,691.4C570.6,690.6 572.8,688.0 575.0,686.8C577.2,685.6 579.4,684.0 581.7,684.0C584.4,684.0 587.2,684.1 590.0,684.3C592.8,684.5 595.6,686.4 598.3,686.5C601.1,686.5 603.9,686.5 606.7,686.5C609.4,686.5 612.2,685.4 615.0,685.1C619.4,684.5 623.9,683.9 628.3,683.9C631.1,683.9 633.9,684.5 636.7,685.1C639.4,685.8 642.2,687.1 645.0,688.6C647.8,690.2 650.6,693.3 653.3,696.0C656.1,698.6 658.9,702.2 661.7,704.9C663.9,707.0 666.1,709.6 668.3,710.6C670.0,711.4 671.7,712.2 673.3,712.2C675.0,712.2 676.7,710.8 678.3,709.8C680.6,708.4 682.8,705.5 685.0,703.3C687.2,701.2 689.4,698.6 691.7,696.9C694.4,694.8 697.2,693.0 700.0,691.9C702.8,690.7 705.6,689.8 708.3,689.3C711.1,688.7 713.9,688.2 716.7,688.1C719.4,688.0 722.2,688.0 725.0,688.0C727.8,687.9 730.6,687.7 733.3,687.5C736.1,687.3 738.9,686.8 741.7,686.7C744.4,686.6 747.2,686.4 750.0,686.4C752.8,686.4 755.6,686.8 758.3,687.0C761.1,687.3 763.9,687.8 766.7,688.4C769.4,689.0 772.2,690.0 775.0,690.8C777.8,691.7 780.6,692.5 783.3,693.3C786.1,694.2 788.9,695.0 791.7,695.8C794.4,696.6 797.2,697.5 800.0,697.9C802.8,698.4 805.6,698.9 808.3,698.9C810.6,698.9 812.8,698.1 815.0,697.2C817.2,696.4 819.4,693.9 821.7,692.6C823.9,691.3 826.1,689.8 828.3,689.4C830.6,688.9 832.8,688.5 835.0,688.5C837.2,688.5 839.4,689.2 841.7,689.9C844.4,690.8 847.2,693.2 850.0,695.1C852.8,697.0 855.6,699.9 858.3,701.4C861.1,703.0 863.9,704.7 866.7,705.1C869.4,705.4 872.2,705.7 875.0,705.7C877.8,705.7 880.6,705.0 883.3,704.7C886.1,704.4 888.9,703.8 891.7,703.8C894.4,703.8 897.2,704.5 900.0,705.1C902.8,705.7 905.6,707.0 908.3,708.1C911.1,709.2 913.9,710.7 916.7,712.0C920.6,713.7 924.4,715.4 928.3,717.0" stroke="#0cac5c"/><path d="M125.8,672.0C127.2,670.3 128.6,668.7 130.0,667.7C132.2,666.2 134.4,664.7 136.7,664.4C138.9,664.1 141.1,663.8 143.3,663.8C146.1,663.8 148.9,664.8 151.7,665.3C154.4,665.8 157.2,666.8 160.0,666.8C162.8,666.8 165.6,666.7 168.3,666.5C171.1,666.2 173.9,664.7 176.7,663.6C179.4,662.6 182.2,661.1 185.0,660.1C187.8,659.1 190.6,658.0 193.3,657.6C196.1,657.2 198.9,656.8 201.7,656.8C204.4,656.8 207.2,657.2 210.0,657.6C212.8,658.0 215.6,659.1 218.3,660.2C221.1,661.3 223.9,663.2 226.7,665.2C228.9,666.7 231.1,669.0 233.3,670.8C235.0,672.3 236.7,674.8 238.3,675.1C239.7,675.3 241.1,675.5 242.5,675.5C243.9,675.5 245.3,673.1 246.7,671.4C248.3,669.4 250.0,666.0 251.7,663.3C253.3,660.7 255.0,657.3 256.7,655.3C258.9,652.8 261.1,650.4 263.3,649.5C265.6,648.6 267.8,647.7 270.0,647.7C272.2,647.7 274.4,648.1 276.7,648.5C279.4,649.0 282.2,650.5 285.0,651.7C287.8,652.9 290.6,654.5 293.3,655.8C296.1,657.1 298.9,658.4 301.7,659.6C304.4,660.8 307.2,661.9 310.0,663.0C312.8,664.0 315.6,664.9 318.3,665.8C321.1,666.7 323.9,667.4 326.7,668.4C329.4,669.4 332.2,670.8 335.0,672.0C341.1,674.6 347.2,679.7 353.3,679.7C355.0,679.7 356.7,679.6 358.3,679.5C360.6,679.4 362.8,677.8 365.0,677.0C367.8,676.0 370.6,675.0 373.3,674.2C376.1,673.4 378.9,672.5 381.7,672.1C384.4,671.8 387.2,671.4 390.0,671.4C392.8,671.4 395.6,671.8 398.3,672.1C401.1,672.4 403.9,673.1 406.7,673.7C409.4,674.3 412.2,675.0 415.0,675.9C417.8,676.8 420.6,678.0 423.3,679.2C426.1,680.4 428.9,681.7 431.7,683.0C434.4,684.4 437.2,686.1 440.0,687.5C442.8,688.9 445.6,690.5 448.3,691.5C451.1,692.6 453.9,693.4 456.7,694.1C459.4,694.8 462.2,695.3 465.0,695.8C467.8,696.3 470.6,696.5 473.3,697.1C476.1,697.6 478.9,698.4 481.7,699.3C484.4,700.1 487.2,701.3 490.0,702.6C492.8,704.0 495.6,705.7 498.3,707.6C501.1,709.5 503.9,711.7 506.7,714.4C508.9,716.6 511.1,719.6 513.3,722.7C515.6,725.8 517.8,729.9 520.0,733.3C521.7,735.8 523.3,739.2 525.0,740.5C526.7,741.7 528.3,743.0 530.0,743.0C531.7,743.0 533.3,742.0 535.0,741.3C537.2,740.3 539.4,738.5 541.7,737.6C543.9,736.7 546.1,735.8 548.3,735.4C550.6,735.1 552.8,734.8 555.0,734.7C557.8,734.5 560.6,734.3 563.3,734.3C565.6,734.3 567.8,735.2 570.0,736.0C572.2,736.7 574.4,737.9 576.7,739.4C578.9,740.8 581.1,743.0 583.3,745.1C585.6,747.1 587.8,749.5 590.0,751.7C592.8,754.4 595.6,757.3 598.3,760.0C603.9,765.4 609.4,770.6 615.0,775.8C617.8,778.4 620.6,780.7 623.3,783.4C626.1,786.0 628.9,788.8 631.7,791.7C634.4,794.6 637.2,798.1 640.0,800.7C642.2,802.8 644.4,805.0 646.7,806.5C648.9,807.9 651.1,808.9 653.3,809.9C655.6,811.0 657.8,811.5 660.0,812.7C662.8,814.1 665.6,816.2 668.3,818.5C671.1,820.8 673.9,823.8 676.7,826.7C679.4,829.6 682.2,832.6 685.0,836.0C687.2,838.7 689.4,841.8 691.7,845.2C693.9,848.6 696.1,852.7 698.3,856.8C700.0,859.8 701.7,863.7 703.3,866.5C705.0,869.3 706.7,872.5 708.3,873.8C710.0,875.1 711.7,876.1 713.3,876.5C715.6,877.1 717.8,877.1 720.0,877.6C722.2,878.1 724.4,879.2 726.7,880.0C729.4,880.9 732.2,881.5 735.0,882.6C737.2,883.5 739.4,884.6 741.7,886.0C743.9,887.5 746.1,889.5 748.3,892.0C750.6,894.5 752.8,898.0 755.0,902.0C756.7,905.1 758.3,909.6 760.0,913.3C761.7,917.1 763.3,921.8 765.0,924.6C766.7,927.4 768.3,930.0 770.0,931.3C772.2,933.1 774.4,933.7 776.7,935.1C779.4,936.7 782.2,938.3 785.0,940.5C790.0,944.5 795.0,955.8 800.0,956.8C805.0,957.8 810.0,958.4 815.0,958.4C820.0,958.4 825.0,948.1 830.0,940.1C831.1,938.3 832.2,935.6 833.3,933.4C834.4,931.1 835.6,928.7 836.7,926.8C838.1,924.3 839.4,921.7 840.8,920.3C842.2,918.9 843.6,917.7 845.0,917.2C846.4,916.8 847.8,916.4 849.2,916.4C850.6,916.4 851.9,917.1 853.3,917.7C854.7,918.3 856.1,919.7 857.5,920.9C858.9,922.1 860.3,923.9 861.7,924.8C863.1,925.7 864.4,926.9 865.8,926.9C867.2,926.9 868.6,926.7 870.0,926.5C871.4,926.3 872.8,924.9 874.2,924.2C875.6,923.6 876.9,922.6 878.3,922.6C879.7,922.6 881.1,922.6 882.5,922.6C883.9,922.6 885.3,923.7 886.7,924.2C888.1,924.7 889.4,925.7 890.8,925.7C892.2,925.7 893.6,925.8 895.0,925.8C896.4,925.8 897.8,925.3 899.2,925.0C900.6,924.7 901.9,924.2 903.3,924.2C904.7,924.2 906.1,924.3 907.5,924.3C908.9,924.4 910.3,924.5 911.7,924.5C913.1,924.5 914.4,923.8 915.8,923.2C917.2,922.6 918.6,921.3 920.0,920.5C921.4,919.7 922.8,919.0 924.2,918.4C925.3,917.9 926.4,917.5 927.5,917.1" stroke="#ae2c84"/><path d="M125.0,665.8C126.7,664.3 128.3,662.8 130.0,661.8C132.2,660.5 134.4,659.4 136.7,658.8C138.9,658.2 141.1,657.6 143.3,657.6C146.1,657.6 148.9,657.6 151.7,657.6C154.4,657.6 157.2,658.2 160.0,658.3C162.8,658.4 165.6,658.4 168.3,658.4C171.1,658.4 173.9,656.8 176.7,655.7C179.4,654.5 182.2,652.5 185.0,650.8C187.8,649.2 190.6,647.4 193.3,645.9C196.1,644.4 198.9,643.1 201.7,641.7C204.4,640.3 207.2,638.8 210.0,637.6C212.8,636.3 215.6,635.1 218.3,634.3C221.1,633.4 223.9,632.6 226.7,632.3C229.4,632.0 232.2,631.7 235.0,631.7C237.8,631.7 240.6,631.9 243.3,632.0C246.1,632.1 248.9,632.3 251.7,632.5C254.4,632.8 257.2,633.2 260.0,633.7C262.8,634.2 265.6,634.7 268.3,635.4C271.1,636.2 273.9,637.3 276.7,638.4C279.4,639.4 282.2,640.8 285.0,641.5C287.8,642.3 290.6,642.7 293.3,643.4C296.1,644.0 298.9,644.6 301.7,645.4C304.4,646.3 307.2,647.4 310.0,648.8C312.8,650.2 315.6,652.2 318.3,654.4C321.1,656.6 323.9,659.6 326.7,662.6C329.4,665.6 332.2,669.3 335.0,672.4C340.0,677.8 345.0,687.6 350.0,687.6C351.7,687.6 353.3,687.0 355.0,686.4C357.2,685.7 359.4,682.4 361.7,681.0C364.4,679.3 367.2,677.7 370.0,676.8C372.8,675.9 375.6,675.0 378.3,674.8C381.1,674.5 383.9,674.3 386.7,674.3C389.4,674.3 392.2,675.3 395.0,675.8C397.8,676.4 400.6,676.9 403.3,677.6C406.1,678.3 408.9,679.1 411.7,680.1C414.4,681.2 417.2,682.6 420.0,684.4C422.8,686.1 425.6,688.5 428.3,691.0C431.1,693.6 433.9,696.8 436.7,700.2C438.9,702.9 441.1,706.2 443.3,709.2C445.6,712.2 447.8,715.7 450.0,718.1C452.2,720.4 454.4,722.6 456.7,724.0C458.9,725.4 461.1,727.2 463.3,727.2C465.6,727.2 467.8,726.9 470.0,726.6C472.2,726.3 474.4,724.8 476.7,724.8C478.9,724.8 481.1,724.9 483.3,724.9C485.6,725.0 487.8,727.0 490.0,728.7C492.2,730.4 494.4,733.7 496.7,736.9C498.9,740.1 501.1,744.8 503.3,748.1C505.6,751.5 507.8,754.6 510.0,757.4C512.2,760.1 514.4,762.8 516.7,764.8C518.9,766.8 521.1,769.0 523.3,769.8C524.7,770.4 526.1,770.9 527.5,770.9C528.9,770.9 530.3,768.8 531.7,767.4C533.3,765.7 535.0,762.7 536.7,761.0C538.3,759.4 540.0,757.4 541.7,756.9C543.3,756.5 545.0,756.1 546.7,756.1C548.3,756.1 550.0,757.4 551.7,758.5C553.3,759.6 555.0,761.8 556.7,763.3C558.9,765.3 561.1,767.6 563.3,768.9C565.6,770.2 567.8,770.6 570.0,771.8C571.7,772.7 573.3,773.7 575.0,775.2C576.7,776.8 578.3,779.5 580.0,781.9C585.0,789.4 590.0,803.1 595.0,808.6C596.7,810.4 598.3,811.9 600.0,812.8C602.2,814.1 604.4,814.4 606.7,815.6C608.9,816.8 611.1,819.0 613.3,820.9C615.6,822.9 617.8,825.5 620.0,827.4C622.2,829.3 624.4,830.9 626.7,832.4C628.9,833.9 631.1,835.5 633.3,836.5C635.6,837.6 637.8,838.4 640.0,839.1C642.2,839.9 644.4,840.8 646.7,841.3C648.9,841.7 651.1,842.4 653.3,842.4C655.6,842.4 657.8,841.7 660.0,841.7C662.2,841.7 664.4,841.6 666.7,841.6C668.9,841.6 671.1,843.7 673.3,845.3C675.6,846.9 677.8,850.0 680.0,852.6C682.2,855.3 684.4,859.0 686.7,861.5C688.9,864.0 691.1,867.2 693.3,868.0C695.0,868.5 696.7,869.0 698.3,869.0C700.6,869.0 702.8,868.7 705.0,868.7C707.2,868.7 709.4,870.9 711.7,872.8C713.3,874.2 715.0,877.0 716.7,879.2C718.3,881.5 720.0,884.6 721.7,886.5C723.3,888.4 725.0,890.7 726.7,891.3C728.9,892.1 731.1,892.0 733.3,892.8C735.6,893.5 737.8,895.1 740.0,897.0C742.2,898.8 744.4,902.5 746.7,904.9C748.9,907.2 751.1,910.1 753.3,911.3C755.6,912.4 757.8,912.5 760.0,913.7C761.7,914.5 763.3,916.6 765.0,918.5C766.7,920.3 768.3,922.7 770.0,925.1C771.7,927.6 773.3,930.7 775.0,933.2C776.7,935.7 778.3,937.8 780.0,940.0C785.0,946.6 790.0,954.4 795.0,959.2C805.0,969.0 815.0,981.9 825.0,981.9C833.3,981.9 841.7,973.9 850.0,966.7C856.1,961.4 862.2,946.7 868.3,941.0C870.3,939.2 872.2,938.2 874.2,936.5C875.6,935.3 876.9,933.8 878.3,932.5C879.7,931.2 881.1,929.4 882.5,928.5C883.9,927.6 885.3,926.4 886.7,926.4C887.5,926.4 888.3,926.4 889.2,926.4C890.6,926.4 891.9,927.6 893.3,928.4C894.7,929.3 896.1,930.6 897.5,931.6C899.4,933.1 901.4,934.4 903.3,935.8C905.6,937.4 907.8,938.9 910.0,940.5C912.8,942.4 915.6,944.6 918.3,946.6C921.1,948.6 923.9,950.6 926.7,952.5" stroke="#7e2fa6"/></g>
<g clip-path="url(#c4)" fill="none" stroke-width="4.4" stroke-linejoin="round" stroke-linecap="round"><path d="M1021.7,751.5C1026.7,751.6 1031.7,751.8 1036.7,751.8C1042.2,751.8 1047.8,751.8 1053.3,751.8C1058.9,751.8 1064.4,751.8 1070.0,751.8C1074.4,751.7 1078.9,751.4 1083.3,750.8C1086.1,750.5 1088.9,749.7 1091.7,748.1C1092.9,747.4 1094.2,745.7 1095.5,742.7C1096.0,741.4 1096.5,739.3 1097.0,735.0C1097.3,732.6 1097.6,725.0 1097.8,718.3C1098.1,711.7 1098.4,702.5 1098.7,693.3C1099.1,678.6 1099.6,656.7 1100.0,643.3C1100.4,630.0 1100.9,617.1 1101.3,610.0C1101.8,602.0 1102.3,593.7 1102.8,592.5C1103.3,591.4 1103.7,590.7 1104.2,590.7C1104.6,590.7 1104.9,593.8 1105.3,596.7C1105.7,599.2 1106.0,605.0 1106.3,610.0C1106.7,615.8 1107.1,624.7 1107.5,630.0C1107.9,635.3 1108.3,642.4 1108.7,643.3C1109.1,644.4 1109.6,645.2 1110.0,645.2C1110.7,645.2 1111.3,641.4 1112.0,638.3C1112.7,635.0 1113.4,628.5 1114.2,622.5C1115.0,615.6 1115.8,605.6 1116.7,598.3C1117.2,593.5 1117.8,586.6 1118.3,585.0C1118.9,583.4 1119.4,582.0 1120.0,582.0C1120.7,582.0 1121.3,584.4 1122.0,586.7C1122.9,589.6 1123.8,597.4 1124.7,603.3C1125.6,609.6 1126.6,616.2 1127.5,623.3C1128.3,629.6 1129.2,636.2 1130.0,643.3C1130.8,650.5 1131.7,658.3 1132.5,666.7C1133.2,673.9 1133.9,681.3 1134.7,690.0C1135.2,696.0 1135.7,703.6 1136.2,710.0C1136.6,715.7 1137.1,723.3 1137.5,726.7C1138.3,733.0 1139.2,736.0 1140.0,739.5C1141.7,746.5 1143.3,751.0 1145.0,756.7C1146.7,762.3 1148.3,767.7 1150.0,773.3C1151.7,778.9 1153.3,784.1 1155.0,790.2C1156.1,794.3 1157.2,798.7 1158.3,803.6C1159.4,808.5 1160.6,814.5 1161.7,820.0C1162.8,825.5 1163.9,831.5 1165.0,836.4C1166.1,841.3 1167.2,845.8 1168.3,849.9C1169.4,854.0 1170.6,858.2 1171.7,861.3C1173.3,866.1 1175.0,869.6 1176.7,873.2C1178.3,876.8 1180.0,880.6 1181.7,883.0C1183.3,885.5 1185.0,888.2 1186.7,889.0C1187.5,889.3 1188.3,889.7 1189.2,889.7C1190.3,889.7 1191.4,887.8 1192.5,886.3C1193.9,884.3 1195.3,879.9 1196.7,876.7C1198.3,872.8 1200.0,868.9 1201.7,865.0C1203.3,861.1 1205.0,857.2 1206.7,853.3C1208.3,849.4 1210.0,845.7 1211.7,841.5C1213.3,837.4 1215.0,832.9 1216.7,828.2C1218.3,823.5 1220.0,818.5 1221.7,813.2C1223.3,808.0 1225.0,802.2 1226.7,796.7C1228.3,791.1 1230.0,785.6 1231.7,780.0C1233.3,774.4 1235.0,768.8 1236.7,763.3C1238.3,757.8 1240.0,751.9 1241.7,746.9C1243.3,741.9 1245.0,738.4 1246.7,733.1C1247.2,731.3 1247.8,728.5 1248.3,727.0C1250.0,722.6 1251.7,719.5 1253.3,717.1C1256.1,713.3 1258.9,710.7 1261.7,708.6C1264.4,706.4 1267.2,704.8 1270.0,703.5C1272.8,702.1 1275.6,701.0 1278.3,700.1C1281.1,699.1 1283.9,697.9 1286.7,697.6C1288.9,697.4 1291.1,697.3 1293.3,697.3C1295.6,697.3 1297.8,698.9 1300.0,700.2C1302.2,701.5 1304.4,703.9 1306.7,705.9C1308.9,707.9 1311.1,710.3 1313.3,712.5C1315.6,714.7 1317.8,717.0 1320.0,719.2C1322.8,721.9 1325.6,725.0 1328.3,727.3C1331.1,729.6 1333.9,731.4 1336.7,733.3C1339.4,735.1 1342.2,736.6 1345.0,738.4C1347.8,740.1 1350.6,741.8 1353.3,743.7C1356.1,745.6 1358.9,747.7 1361.7,749.6C1364.4,751.6 1367.2,753.5 1370.0,755.3C1372.8,757.0 1375.6,758.8 1378.3,760.2C1381.1,761.7 1383.9,763.2 1386.7,764.0C1389.4,764.8 1392.2,765.5 1395.0,765.7C1397.8,766.0 1400.6,766.3 1403.3,766.3C1406.1,766.3 1408.9,766.0 1411.7,765.8C1414.4,765.6 1417.2,765.1 1420.0,764.6C1422.8,764.1 1425.6,763.2 1428.3,762.5C1431.1,761.9 1433.9,761.3 1436.7,760.9C1439.4,760.4 1442.2,760.1 1445.0,759.7C1447.8,759.2 1450.6,758.8 1453.3,758.2C1456.1,757.6 1458.9,756.7 1461.7,755.8C1464.4,754.8 1467.2,753.4 1470.0,752.6C1472.8,751.7 1475.6,750.8 1478.3,750.4C1481.1,750.1 1483.9,749.8 1486.7,749.8C1489.4,749.8 1492.2,750.1 1495.0,750.5C1497.8,750.9 1500.6,752.1 1503.3,753.1C1506.1,754.1 1508.9,755.5 1511.7,756.6C1514.4,757.8 1517.2,758.9 1520.0,760.0C1522.8,761.0 1525.6,762.1 1528.3,762.9C1531.1,763.8 1533.9,764.8 1536.7,765.2C1539.4,765.7 1542.2,766.2 1545.0,766.2C1547.8,766.2 1550.6,766.0 1553.3,765.8C1556.1,765.6 1558.9,765.1 1561.7,764.7C1564.4,764.2 1567.2,763.8 1570.0,763.2C1572.8,762.6 1575.6,761.7 1578.3,760.8C1581.1,759.8 1583.9,758.7 1586.7,757.4C1589.4,756.2 1592.2,754.7 1595.0,753.3C1597.8,752.0 1600.6,750.5 1603.3,749.2C1606.1,747.8 1608.9,746.3 1611.7,745.1C1614.4,743.8 1617.2,742.7 1620.0,741.7C1622.8,740.8 1625.6,739.9 1628.3,739.2C1631.1,738.6 1633.9,737.9 1636.7,737.6C1639.4,737.3 1642.2,737.0 1645.0,737.0C1647.8,737.0 1650.6,737.1 1653.3,737.1C1656.1,737.1 1658.9,737.6 1661.7,738.1C1664.4,738.5 1667.2,739.3 1670.0,740.1C1672.8,740.9 1675.6,742.0 1678.3,743.0C1681.1,744.1 1683.9,745.2 1686.7,746.3C1689.4,747.4 1692.2,748.6 1695.0,749.7C1697.8,750.8 1700.6,752.0 1703.3,752.9C1706.1,753.8 1708.9,754.6 1711.7,755.3C1714.4,755.9 1717.2,756.5 1720.0,757.0C1722.8,757.5 1725.6,758.0 1728.3,758.3C1731.1,758.6 1733.9,758.9 1736.7,759.1C1739.4,759.3 1742.2,759.6 1745.0,759.6C1747.8,759.6 1750.6,759.6 1753.3,759.6C1758.9,759.6 1764.4,759.4 1770.0,759.1C1775.6,758.9 1781.1,758.4 1786.7,757.9C1792.2,757.4 1797.8,756.6 1803.3,755.8C1808.9,755.0 1814.4,754.2 1820.0,753.3C1825.6,752.5 1831.1,751.6 1836.7,750.9C1842.2,750.1 1847.8,749.3 1853.3,748.7C1858.9,748.1 1864.4,747.5 1870.0,747.0C1873.9,746.7 1877.8,746.4 1881.7,746.2" stroke="#107274"/><path d="M1021.7,751.3C1026.7,751.5 1031.7,751.6 1036.7,751.6C1042.2,751.7 1047.8,751.7 1053.3,751.7C1058.9,751.7 1064.4,751.6 1070.0,751.6C1074.4,751.6 1078.9,751.2 1083.3,750.7C1086.1,750.3 1088.9,749.5 1091.7,748.0C1093.1,747.2 1094.4,745.7 1095.8,742.7C1096.4,741.4 1096.9,739.5 1097.5,735.0C1097.8,732.8 1098.1,725.0 1098.3,718.3C1098.6,711.7 1098.9,701.7 1099.2,693.3C1099.7,676.7 1100.3,654.9 1100.8,643.3C1101.4,631.7 1101.9,619.5 1102.5,616.7C1103.1,613.9 1103.6,611.7 1104.2,611.7C1104.7,611.7 1105.3,621.7 1105.8,626.7C1106.4,631.7 1106.9,639.5 1107.5,641.7C1108.1,643.8 1108.6,645.8 1109.2,645.8C1110.0,645.8 1110.8,642.9 1111.7,640.0C1112.5,637.1 1113.3,630.0 1114.2,623.3C1115.0,616.7 1115.8,605.7 1116.7,598.3C1117.2,593.4 1117.8,586.5 1118.3,585.0C1118.9,583.5 1119.4,582.3 1120.0,582.3C1120.6,582.3 1121.1,584.6 1121.7,586.7C1122.5,589.7 1123.3,597.3 1124.2,603.3C1125.0,609.4 1125.8,616.2 1126.7,623.3C1127.5,630.5 1128.3,638.9 1129.2,646.7C1130.0,654.4 1130.8,663.3 1131.7,670.0C1132.8,678.9 1133.9,687.0 1135.0,693.3C1136.1,699.7 1137.2,705.5 1138.3,709.5C1139.4,713.5 1140.6,718.9 1141.7,719.1C1143.1,719.4 1144.4,719.3 1145.8,719.5C1146.9,719.7 1148.1,721.2 1149.2,722.9C1150.0,724.2 1150.8,727.4 1151.7,730.2C1152.8,733.9 1153.9,738.1 1155.0,743.3C1156.1,748.6 1157.2,756.4 1158.3,763.3C1159.4,770.3 1160.6,778.8 1161.7,785.0C1162.8,791.2 1163.9,796.7 1165.0,801.3C1166.1,805.9 1167.2,809.6 1168.3,813.2C1169.4,816.9 1170.6,819.9 1171.7,823.3C1172.8,826.8 1173.9,829.5 1175.0,833.8C1175.8,837.1 1176.7,842.7 1177.5,846.4C1178.3,850.1 1179.2,853.8 1180.0,856.3C1181.1,859.6 1182.2,862.1 1183.3,863.9C1184.4,865.7 1185.6,867.3 1186.7,868.1C1188.3,869.2 1190.0,869.9 1191.7,870.2C1193.3,870.5 1195.0,870.8 1196.7,870.8C1198.9,870.8 1201.1,870.8 1203.3,870.7C1205.0,870.6 1206.7,869.8 1208.3,868.9C1209.7,868.2 1211.1,866.6 1212.5,864.7C1213.9,862.8 1215.3,859.7 1216.7,856.4C1217.8,853.7 1218.9,850.1 1220.0,846.5C1221.1,843.0 1222.2,838.7 1223.3,835.1C1224.4,831.6 1225.6,828.1 1226.7,825.1C1227.8,822.1 1228.9,819.1 1230.0,816.9C1231.1,814.6 1232.2,812.6 1233.3,811.0C1235.0,808.6 1236.7,807.1 1238.3,804.9C1240.0,802.8 1241.7,800.7 1243.3,798.2C1245.0,795.7 1246.7,792.9 1248.3,789.9C1250.0,786.8 1251.7,783.4 1253.3,779.9C1255.0,776.3 1256.7,772.2 1258.3,768.3C1260.0,764.5 1261.7,760.6 1263.3,756.7C1265.0,752.8 1266.7,748.9 1268.3,745.0C1270.0,741.1 1271.7,738.1 1273.3,733.0C1273.9,731.3 1274.4,728.8 1275.0,726.8C1276.7,720.8 1278.3,715.5 1280.0,710.0C1281.7,704.5 1283.3,698.3 1285.0,693.7C1286.7,689.2 1288.3,685.0 1290.0,682.0C1291.7,678.9 1293.3,676.1 1295.0,674.5C1297.2,672.5 1299.4,670.8 1301.7,670.2C1303.3,669.8 1305.0,669.4 1306.7,669.4C1308.3,669.4 1310.0,670.3 1311.7,671.1C1313.9,672.3 1316.1,675.3 1318.3,677.8C1323.6,683.8 1328.9,692.3 1334.2,700.1C1336.7,703.8 1339.2,707.8 1341.7,711.7C1344.4,716.1 1347.2,720.6 1350.0,725.0C1352.8,729.4 1355.6,734.1 1358.3,738.2C1361.1,742.3 1363.9,746.2 1366.7,749.9C1369.4,753.7 1372.2,757.5 1375.0,760.6C1377.8,763.8 1380.6,766.7 1383.3,769.0C1386.1,771.3 1388.9,773.4 1391.7,774.8C1394.4,776.2 1397.2,777.5 1400.0,778.2C1402.8,778.8 1405.6,779.4 1408.3,779.6C1411.1,779.8 1413.9,779.9 1416.7,779.9C1419.4,779.9 1422.2,779.5 1425.0,779.0C1427.8,778.6 1430.6,777.6 1433.3,776.5C1436.1,775.5 1438.9,774.0 1441.7,772.4C1444.4,770.8 1447.2,768.6 1450.0,766.7C1452.8,764.8 1455.6,762.6 1458.3,761.0C1461.1,759.4 1463.9,757.8 1466.7,756.8C1469.4,755.8 1472.2,754.6 1475.0,754.3C1477.8,754.0 1480.6,753.8 1483.3,753.8C1486.1,753.8 1488.9,754.3 1491.7,754.7C1494.4,755.1 1497.2,755.8 1500.0,756.3C1502.8,756.8 1505.6,757.1 1508.3,757.5C1511.1,757.9 1513.9,758.4 1516.7,758.6C1519.4,758.9 1522.2,759.1 1525.0,759.1C1527.8,759.1 1530.6,759.1 1533.3,759.1C1536.1,759.1 1538.9,758.6 1541.7,758.3C1544.4,758.1 1547.2,757.8 1550.0,757.5C1552.8,757.1 1555.6,756.7 1558.3,756.3C1561.1,756.0 1563.9,755.7 1566.7,755.3C1567.8,755.2 1568.9,755.1 1570.0,755.0C1572.8,754.6 1575.6,754.1 1578.3,753.7C1581.1,753.3 1583.9,752.8 1586.7,752.6C1592.2,752.1 1597.8,751.8 1603.3,751.7C1608.9,751.7 1614.4,751.7 1620.0,751.7C1625.6,751.7 1631.1,751.9 1636.7,751.9C1642.2,751.9 1647.8,751.8 1653.3,751.6C1658.9,751.4 1664.4,750.5 1670.0,750.0C1675.6,749.4 1681.1,748.2 1686.7,748.1C1692.2,748.1 1697.8,748.1 1703.3,748.1C1708.9,748.1 1714.4,748.8 1720.0,749.2C1725.6,749.5 1731.1,750.0 1736.7,750.3C1742.2,750.5 1747.8,750.8 1753.3,750.8C1758.9,750.8 1764.4,750.8 1770.0,750.8C1775.6,750.8 1781.1,750.5 1786.7,750.3C1792.2,750.1 1797.8,749.9 1803.3,749.7C1808.9,749.5 1814.4,749.3 1820.0,749.2C1825.6,749.0 1831.1,748.9 1836.7,748.6C1842.2,748.4 1847.8,747.9 1853.3,747.5C1858.9,747.1 1864.4,746.7 1870.0,746.3C1873.9,746.1 1877.8,745.9 1881.7,745.7" stroke="#0cac5c"/><path d="M1021.7,776.3C1026.7,776.3 1031.7,776.3 1036.7,776.3C1042.2,776.3 1047.8,776.1 1053.3,776.0C1058.9,775.8 1064.4,775.7 1070.0,775.2C1072.2,775.0 1074.4,774.3 1076.7,773.5C1078.9,772.7 1081.1,771.4 1083.3,769.8C1085.6,768.2 1087.8,765.7 1090.0,763.2C1092.2,760.7 1094.4,757.9 1096.7,754.4C1101.1,747.4 1105.6,735.8 1110.0,726.8C1112.2,722.2 1114.4,717.8 1116.7,713.3C1118.9,708.9 1121.1,704.4 1123.3,700.0C1125.6,695.6 1127.8,691.1 1130.0,686.7C1132.2,682.2 1134.4,677.8 1136.7,673.3C1138.9,668.9 1141.1,664.4 1143.3,660.0C1145.6,655.6 1147.8,651.0 1150.0,646.7C1152.2,642.4 1154.4,638.2 1156.7,634.3C1158.9,630.4 1161.1,626.9 1163.3,623.3C1165.6,619.7 1167.8,615.9 1170.0,612.6C1172.2,609.3 1174.4,606.3 1176.7,603.4C1178.9,600.5 1181.1,597.6 1183.3,595.1C1185.6,592.7 1187.8,590.2 1190.0,588.5C1192.2,586.8 1194.4,585.3 1196.7,584.3C1198.9,583.4 1201.1,582.4 1203.3,582.1C1205.6,581.9 1207.8,581.8 1210.0,581.8C1212.2,581.8 1214.4,582.2 1216.7,582.5C1218.9,582.8 1221.1,583.3 1223.3,583.7C1225.6,584.1 1227.8,584.6 1230.0,585.0C1232.2,585.4 1234.4,585.8 1236.7,586.1C1239.4,586.5 1242.2,586.7 1245.0,587.0C1247.8,587.3 1250.6,587.7 1253.3,588.0C1256.1,588.4 1258.9,588.7 1261.7,589.2C1264.4,589.7 1267.2,590.2 1270.0,590.9C1272.8,591.5 1275.6,592.2 1278.3,593.0C1281.1,593.9 1283.9,594.8 1286.7,595.9C1289.4,597.1 1292.2,598.6 1295.0,600.0C1297.8,601.5 1300.6,603.1 1303.3,604.7C1306.1,606.4 1308.9,608.3 1311.7,609.9C1314.4,611.5 1317.2,612.6 1320.0,614.3C1322.8,615.9 1325.6,618.2 1328.3,619.9C1331.1,621.7 1333.9,623.4 1336.7,624.9C1339.4,626.5 1342.2,627.8 1345.0,629.1C1347.8,630.5 1350.6,631.8 1353.3,632.9C1356.1,634.0 1358.9,634.9 1361.7,635.8C1364.4,636.7 1367.2,637.5 1370.0,638.3C1372.8,639.2 1375.6,639.9 1378.3,640.9C1381.1,641.9 1383.9,643.0 1386.7,644.2C1389.4,645.4 1392.2,646.7 1395.0,648.0C1397.8,649.4 1400.6,651.0 1403.3,652.5C1406.1,654.1 1408.9,655.8 1411.7,657.5C1414.4,659.3 1417.2,661.2 1420.0,663.0C1422.8,664.8 1425.6,666.5 1428.3,668.4C1431.1,670.2 1433.9,672.2 1436.7,674.2C1439.4,676.1 1442.2,678.0 1445.0,680.0C1447.8,682.0 1450.6,683.8 1453.3,685.9C1456.1,688.0 1458.9,690.3 1461.7,692.4C1467.8,697.1 1473.9,701.2 1480.0,706.0C1485.6,710.4 1491.1,715.3 1496.7,720.1C1502.2,724.9 1507.8,730.2 1513.3,734.9C1518.9,739.6 1524.4,743.9 1530.0,748.3C1535.6,752.8 1541.1,757.4 1546.7,761.5C1552.2,765.7 1557.8,769.6 1563.3,773.2C1568.9,776.8 1574.4,780.3 1580.0,783.1C1585.6,786.0 1591.1,788.5 1596.7,790.8C1598.9,791.7 1601.1,792.5 1603.3,793.3C1606.1,794.3 1608.9,795.4 1611.7,796.3C1614.4,797.2 1617.2,797.9 1620.0,798.7C1622.8,799.4 1625.6,800.2 1628.3,800.8C1631.1,801.4 1633.9,802.0 1636.7,802.5C1639.4,802.9 1642.2,803.3 1645.0,803.6C1647.8,804.0 1650.6,804.3 1653.3,804.5C1656.1,804.7 1658.9,805.0 1661.7,805.0C1664.4,805.0 1667.2,805.0 1670.0,805.0C1672.8,805.0 1675.6,804.8 1678.3,804.7C1681.1,804.5 1683.9,804.4 1686.7,804.1C1689.4,803.9 1692.2,803.6 1695.0,803.3C1697.8,803.0 1700.6,802.6 1703.3,802.2C1706.1,801.7 1708.9,801.3 1711.7,800.8C1714.4,800.4 1717.2,800.1 1720.0,799.6C1722.8,799.2 1725.6,798.5 1728.3,798.0C1731.1,797.5 1733.9,796.9 1736.7,796.3C1739.4,795.8 1742.2,795.2 1745.0,794.7C1747.8,794.1 1750.6,793.6 1753.3,793.0C1756.1,792.4 1758.9,791.9 1761.7,791.4C1764.4,790.9 1767.2,790.4 1770.0,790.0C1772.8,789.6 1775.6,789.1 1778.3,788.7C1781.1,788.3 1783.9,787.9 1786.7,787.5C1789.4,787.2 1792.2,786.9 1795.0,786.7C1797.8,786.4 1800.6,786.1 1803.3,785.9C1806.1,785.6 1808.9,785.5 1811.7,785.3C1814.4,785.2 1817.2,785.1 1820.0,785.0C1822.8,784.9 1825.6,784.7 1828.3,784.7C1831.1,784.7 1833.9,784.7 1836.7,784.7C1839.4,784.7 1842.2,784.9 1845.0,785.0C1847.8,785.1 1850.6,785.2 1853.3,785.3C1856.1,785.5 1858.9,785.7 1861.7,785.8C1864.4,786.0 1867.2,786.2 1870.0,786.3C1873.9,786.5 1877.8,786.6 1881.7,786.7" stroke="#ae2c84"/><path d="M1021.7,774.7C1026.7,774.7 1031.7,774.4 1036.7,774.0C1042.2,773.7 1047.8,772.6 1053.3,771.6C1056.7,770.9 1060.0,770.1 1063.3,769.0C1066.7,768.0 1070.0,766.4 1073.3,764.9C1076.7,763.4 1080.0,761.7 1083.3,759.9C1086.7,758.2 1090.0,756.1 1093.3,754.2C1096.7,752.2 1100.0,750.4 1103.3,748.3C1106.7,746.2 1110.0,744.0 1113.3,741.5C1118.3,737.7 1123.3,732.9 1128.3,728.2C1131.1,725.6 1133.9,722.8 1136.7,720.0C1139.4,717.2 1142.2,714.6 1145.0,711.5C1147.8,708.5 1150.6,705.0 1153.3,701.7C1156.1,698.3 1158.9,695.1 1161.7,691.6C1164.4,688.1 1167.2,684.4 1170.0,680.8C1172.8,677.2 1175.6,673.5 1178.3,670.1C1181.1,666.6 1183.9,663.3 1186.7,660.0C1189.4,656.7 1192.2,653.3 1195.0,650.1C1197.8,646.9 1200.6,643.9 1203.3,640.8C1206.1,637.8 1208.9,634.6 1211.7,631.7C1214.4,628.8 1217.2,626.0 1220.0,623.4C1222.8,620.8 1225.6,618.2 1228.3,615.9C1231.1,613.6 1233.9,611.2 1236.7,609.3C1239.4,607.4 1242.2,605.8 1245.0,604.2C1247.8,602.7 1250.6,601.3 1253.3,600.1C1256.1,598.8 1258.9,597.7 1261.7,596.7C1264.4,595.8 1267.2,594.9 1270.0,594.2C1272.8,593.6 1275.6,593.0 1278.3,592.5C1281.1,592.1 1283.9,591.6 1286.7,591.4C1289.4,591.1 1292.2,591.0 1295.0,590.8C1297.8,590.7 1300.6,590.6 1303.3,590.5C1306.1,590.4 1308.9,590.4 1311.7,590.3C1314.4,590.3 1317.2,590.3 1320.0,590.3C1325.6,590.2 1331.1,589.6 1336.7,589.1C1342.2,588.5 1347.8,587.5 1353.3,586.7C1358.9,585.9 1364.4,584.9 1370.0,584.2C1375.6,583.6 1381.1,582.9 1386.7,582.6C1392.2,582.2 1397.8,581.9 1403.3,581.9C1408.9,581.9 1414.4,582.7 1420.0,583.5C1425.6,584.3 1431.1,585.9 1436.7,587.6C1439.4,588.5 1442.2,589.6 1445.0,591.0C1447.8,592.3 1450.6,594.1 1453.3,595.9C1456.1,597.7 1458.9,599.6 1461.7,601.8C1464.4,604.0 1467.2,606.6 1470.0,609.2C1472.8,611.8 1475.6,614.7 1478.3,617.6C1481.1,620.5 1483.9,623.6 1486.7,626.7C1495.6,636.6 1504.4,646.2 1513.3,656.8C1517.8,662.1 1522.2,667.6 1526.7,673.5C1530.6,678.7 1534.4,684.5 1538.3,690.0C1542.2,695.5 1546.1,701.1 1550.0,706.7C1553.9,712.2 1557.8,717.7 1561.7,723.4C1565.3,728.8 1568.9,734.5 1572.5,740.0C1576.1,745.5 1579.7,751.3 1583.3,756.6C1587.2,762.3 1591.1,767.9 1595.0,773.1C1600.6,780.6 1606.1,787.3 1611.7,794.1C1614.4,797.5 1617.2,800.9 1620.0,804.1C1622.8,807.3 1625.6,810.3 1628.3,813.3C1631.1,816.4 1633.9,819.5 1636.7,822.5C1639.4,825.5 1642.2,828.7 1645.0,831.6C1647.8,834.5 1650.6,837.3 1653.3,839.9C1656.1,842.6 1658.9,845.0 1661.7,847.5C1664.4,850.0 1667.2,852.6 1670.0,854.9C1672.8,857.3 1675.6,859.4 1678.3,861.7C1681.1,863.9 1683.9,866.2 1686.7,868.3C1689.4,870.3 1692.2,872.3 1695.0,874.1C1697.8,876.0 1700.6,877.9 1703.3,879.6C1706.1,881.4 1708.9,883.1 1711.7,884.6C1714.4,886.1 1717.2,887.4 1720.0,888.6C1722.8,889.8 1725.6,891.0 1728.3,891.9C1731.1,892.9 1733.9,893.9 1736.7,894.6C1739.4,895.4 1742.2,896.1 1745.0,896.6C1747.8,897.1 1750.6,897.7 1753.3,897.9C1756.1,898.2 1758.9,898.6 1761.7,898.6C1764.4,898.6 1767.2,898.6 1770.0,898.6C1772.8,898.6 1775.6,898.2 1778.3,897.9C1781.1,897.7 1783.9,897.1 1786.7,896.6C1789.4,896.1 1792.2,895.4 1795.0,894.6C1797.8,893.9 1800.6,892.9 1803.3,891.9C1806.1,891.0 1808.9,889.8 1811.7,888.6C1814.4,887.5 1817.2,886.2 1820.0,885.0C1822.8,883.8 1825.6,882.6 1828.3,881.3C1831.1,880.1 1833.9,878.8 1836.7,877.5C1839.4,876.2 1842.2,874.9 1845.0,873.7C1847.8,872.4 1850.6,871.2 1853.3,870.0C1856.1,868.9 1858.9,867.8 1861.7,866.7C1864.4,865.6 1867.2,864.3 1870.0,863.5C1873.9,862.3 1877.8,861.4 1881.7,860.8" stroke="#7e2fa6"/></g>
<text x="483.0" y="53.4" font-size="25.45" text-anchor="middle" fill="#7e7e7e" font-weight="bold" >SPL</text><text x="1436.3" y="53.4" font-size="25.45" text-anchor="middle" fill="#7e7e7e" font-weight="bold" >Impulse Response</text><text x="483.0" y="586.4" font-size="25.45" text-anchor="middle" fill="#7e7e7e" font-weight="bold" >SPL</text><text x="1436.6" y="586.4" font-size="25.45" text-anchor="middle" fill="#7e7e7e" font-weight="bold" >Step Response</text>
<text x="62.6" y="24.6" font-size="14.3" text-anchor="end" fill="#111" font-weight="normal" >dB</text><text x="62.6" y="57.4" font-size="14.3" text-anchor="end" fill="#111" font-weight="normal" >100</text><text x="62.6" y="120.5" font-size="14.3" text-anchor="end" fill="#111" font-weight="normal" >80</text><text x="62.6" y="183.6" font-size="14.3" text-anchor="end" fill="#111" font-weight="normal" >60</text><text x="62.6" y="246.6" font-size="14.3" text-anchor="end" fill="#111" font-weight="normal" >40</text><text x="62.6" y="309.7" font-size="14.3" text-anchor="end" fill="#111" font-weight="normal" >20</text><text x="62.6" y="372.8" font-size="14.3" text-anchor="end" fill="#111" font-weight="normal" >0</text><text x="70.3" y="427.1" font-size="14.3" text-anchor="middle" fill="#111" font-weight="normal" >20</text><text x="120.6" y="427.1" font-size="14.3" text-anchor="middle" fill="#111" font-weight="normal" >30</text><text x="156.3" y="427.1" font-size="14.3" text-anchor="middle" fill="#111" font-weight="normal" >40</text><text x="184.0" y="427.1" font-size="14.3" text-anchor="middle" fill="#111" font-weight="normal" >50</text><text x="206.6" y="427.1" font-size="14.3" text-anchor="middle" fill="#111" font-weight="normal" >60</text><text x="242.3" y="427.1" font-size="14.3" text-anchor="middle" fill="#111" font-weight="normal" >80</text><text x="270.0" y="427.1" font-size="14.3" text-anchor="middle" fill="#111" font-weight="normal" >100</text><text x="356.0" y="427.1" font-size="14.3" text-anchor="middle" fill="#111" font-weight="normal" >200</text><text x="406.3" y="427.1" font-size="14.3" text-anchor="middle" fill="#111" font-weight="normal" >300</text><text x="442.0" y="427.1" font-size="14.3" text-anchor="middle" fill="#111" font-weight="normal" >400</text><text x="492.3" y="427.1" font-size="14.3" text-anchor="middle" fill="#111" font-weight="normal" >600</text><text x="528.0" y="427.1" font-size="14.3" text-anchor="middle" fill="#111" font-weight="normal" >800</text><text x="555.7" y="427.1" font-size="14.3" text-anchor="middle" fill="#111" font-weight="normal" >1k</text><text x="641.7" y="427.1" font-size="14.3" text-anchor="middle" fill="#111" font-weight="normal" >2k</text><text x="692.0" y="427.1" font-size="14.3" text-anchor="middle" fill="#111" font-weight="normal" >3k</text><text x="727.7" y="427.1" font-size="14.3" text-anchor="middle" fill="#111" font-weight="normal" >4k</text><text x="755.4" y="427.1" font-size="14.3" text-anchor="middle" fill="#111" font-weight="normal" >5k</text><text x="778.0" y="427.1" font-size="14.3" text-anchor="middle" fill="#111" font-weight="normal" >6k</text><text x="813.7" y="427.1" font-size="14.3" text-anchor="middle" fill="#111" font-weight="normal" >8k</text><text x="841.4" y="427.1" font-size="14.3" text-anchor="middle" fill="#111" font-weight="normal" >10k</text><text x="945.2" y="427.1" font-size="14.3" text-anchor="end" fill="#111" font-weight="normal" >20,0kHz</text><text x="1015.2" y="24.6" font-size="14.3" text-anchor="end" fill="#111" font-weight="normal" >%</text><text x="1015.4" y="54.9" font-size="14.3" text-anchor="end" fill="#111" font-weight="normal" >100</text><text x="1015.4" y="140.0" font-size="14.3" text-anchor="end" fill="#111" font-weight="normal" >50</text><text x="1015.4" y="225.1" font-size="14.3" text-anchor="end" fill="#111" font-weight="normal" >0</text><text x="1015.4" y="310.2" font-size="14.3" text-anchor="end" fill="#111" font-weight="normal" >-50</text><text x="1015.4" y="395.3" font-size="14.3" text-anchor="end" fill="#111" font-weight="normal" >-100</text><text x="1023.1" y="427.1" font-size="14.3" text-anchor="middle" fill="#111" font-weight="normal" >-1,0m</text><text x="1100.8" y="427.1" font-size="14.3" text-anchor="middle" fill="#111" font-weight="normal" >0</text><text x="1178.4" y="427.1" font-size="14.3" text-anchor="middle" fill="#111" font-weight="normal" >1m</text><text x="1256.3" y="427.1" font-size="14.3" text-anchor="middle" fill="#111" font-weight="normal" >2m</text><text x="1334.3" y="427.1" font-size="14.3" text-anchor="middle" fill="#111" font-weight="normal" >3m</text><text x="1412.2" y="427.1" font-size="14.3" text-anchor="middle" fill="#111" font-weight="normal" >4m</text><text x="1490.1" y="427.1" font-size="14.3" text-anchor="middle" fill="#111" font-weight="normal" >5m</text><text x="1568.0" y="427.1" font-size="14.3" text-anchor="middle" fill="#111" font-weight="normal" >6m</text><text x="1645.9" y="427.1" font-size="14.3" text-anchor="middle" fill="#111" font-weight="normal" >7m</text><text x="1723.9" y="427.1" font-size="14.3" text-anchor="middle" fill="#111" font-weight="normal" >8m</text><text x="1801.8" y="427.1" font-size="14.3" text-anchor="middle" fill="#111" font-weight="normal" >9m</text><text x="1880.3" y="427.1" font-size="14.3" text-anchor="middle" fill="#111" font-weight="normal" >10,0ms</text><text x="62.6" y="557.6" font-size="14.3" text-anchor="end" fill="#111" font-weight="normal" >dB</text><text x="62.6" y="590.4" font-size="14.3" text-anchor="end" fill="#111" font-weight="normal" >100</text><text x="62.6" y="653.5" font-size="14.3" text-anchor="end" fill="#111" font-weight="normal" >80</text><text x="62.6" y="716.6" font-size="14.3" text-anchor="end" fill="#111" font-weight="normal" >60</text><text x="62.6" y="779.6" font-size="14.3" text-anchor="end" fill="#111" font-weight="normal" >40</text><text x="62.6" y="842.7" font-size="14.3" text-anchor="end" fill="#111" font-weight="normal" >20</text><text x="62.6" y="905.8" font-size="14.3" text-anchor="end" fill="#111" font-weight="normal" >0</text><text x="70.3" y="960.1" font-size="14.3" text-anchor="middle" fill="#111" font-weight="normal" >20</text><text x="120.6" y="960.1" font-size="14.3" text-anchor="middle" fill="#111" font-weight="normal" >30</text><text x="156.3" y="960.1" font-size="14.3" text-anchor="middle" fill="#111" font-weight="normal" >40</text><text x="184.0" y="960.1" font-size="14.3" text-anchor="middle" fill="#111" font-weight="normal" >50</text><text x="206.6" y="960.1" font-size="14.3" text-anchor="middle" fill="#111" font-weight="normal" >60</text><text x="242.3" y="960.1" font-size="14.3" text-anchor="middle" fill="#111" font-weight="normal" >80</text><text x="270.0" y="960.1" font-size="14.3" text-anchor="middle" fill="#111" font-weight="normal" >100</text><text x="356.0" y="960.1" font-size="14.3" text-anchor="middle" fill="#111" font-weight="normal" >200</text><text x="406.3" y="960.1" font-size="14.3" text-anchor="middle" fill="#111" font-weight="normal" >300</text><text x="442.0" y="960.1" font-size="14.3" text-anchor="middle" fill="#111" font-weight="normal" >400</text><text x="492.3" y="960.1" font-size="14.3" text-anchor="middle" fill="#111" font-weight="normal" >600</text><text x="528.0" y="960.1" font-size="14.3" text-anchor="middle" fill="#111" font-weight="normal" >800</text><text x="555.7" y="960.1" font-size="14.3" text-anchor="middle" fill="#111" font-weight="normal" >1k</text><text x="641.7" y="960.1" font-size="14.3" text-anchor="middle" fill="#111" font-weight="normal" >2k</text><text x="692.0" y="960.1" font-size="14.3" text-anchor="middle" fill="#111" font-weight="normal" >3k</text><text x="727.7" y="960.1" font-size="14.3" text-anchor="middle" fill="#111" font-weight="normal" >4k</text><text x="755.4" y="960.1" font-size="14.3" text-anchor="middle" fill="#111" font-weight="normal" >5k</text><text x="778.0" y="960.1" font-size="14.3" text-anchor="middle" fill="#111" font-weight="normal" >6k</text><text x="813.7" y="960.1" font-size="14.3" text-anchor="middle" fill="#111" font-weight="normal" >8k</text><text x="841.4" y="960.1" font-size="14.3" text-anchor="middle" fill="#111" font-weight="normal" >10k</text><text x="945.2" y="960.1" font-size="14.3" text-anchor="end" fill="#111" font-weight="normal" >20,0kHz</text><text x="1015.2" y="557.6" font-size="14.3" text-anchor="end" fill="#111" font-weight="normal" >%</text><text x="1015.4" y="587.9" font-size="14.3" text-anchor="end" fill="#111" font-weight="normal" >100</text><text x="1015.4" y="673.0" font-size="14.3" text-anchor="end" fill="#111" font-weight="normal" >50</text><text x="1015.4" y="758.1" font-size="14.3" text-anchor="end" fill="#111" font-weight="normal" >0</text><text x="1015.4" y="843.2" font-size="14.3" text-anchor="end" fill="#111" font-weight="normal" >-50</text><text x="1015.4" y="928.3" font-size="14.3" text-anchor="end" fill="#111" font-weight="normal" >-100</text><text x="1023.1" y="960.1" font-size="14.3" text-anchor="middle" fill="#111" font-weight="normal" >-1,0m</text><text x="1100.8" y="960.1" font-size="14.3" text-anchor="middle" fill="#111" font-weight="normal" >0</text><text x="1178.4" y="960.1" font-size="14.3" text-anchor="middle" fill="#111" font-weight="normal" >1m</text><text x="1256.3" y="960.1" font-size="14.3" text-anchor="middle" fill="#111" font-weight="normal" >2m</text><text x="1334.3" y="960.1" font-size="14.3" text-anchor="middle" fill="#111" font-weight="normal" >3m</text><text x="1412.2" y="960.1" font-size="14.3" text-anchor="middle" fill="#111" font-weight="normal" >4m</text><text x="1490.1" y="960.1" font-size="14.3" text-anchor="middle" fill="#111" font-weight="normal" >5m</text><text x="1568.0" y="960.1" font-size="14.3" text-anchor="middle" fill="#111" font-weight="normal" >6m</text><text x="1645.9" y="960.1" font-size="14.3" text-anchor="middle" fill="#111" font-weight="normal" >7m</text><text x="1723.9" y="960.1" font-size="14.3" text-anchor="middle" fill="#111" font-weight="normal" >8m</text><text x="1801.8" y="960.1" font-size="14.3" text-anchor="middle" fill="#111" font-weight="normal" >9m</text><text x="1880.3" y="960.1" font-size="14.3" text-anchor="middle" fill="#111" font-weight="normal" >10,0ms</text>
<rect x="14.3" y="432.7" width="938.3" height="99.5" rx="5" ry="5" fill="#fff" stroke="#8e8e8e" stroke-width="1.1"/><rect x="21.8" y="439.4" width="13.7" height="13.7" rx="2.8" ry="2.8" fill="url(#cb)" stroke="#838383" stroke-width="1.2"/><path d="M25.2,446.5 L28.2,449.7 L33.2,440.9" fill="none" stroke="#141414" stroke-width="1.9" stroke-linejoin="round" stroke-linecap="butt"/><text x="43.3" y="450.3" font-size="11" fill="#ba4c4e" stroke="#ba4c4e" stroke-width="0.25" textLength="115.8" lengthAdjust="spacingAndGlyphs">1: ЛЕВЫЙ ВОД. [FDW]</text><line x1="184.3" x2="219.5" y1="446.5" y2="446.5" stroke="#a30e10" stroke-width="4.2" stroke-linecap="round"/><rect x="189.8" y="439.2" width="24.6" height="14.7" rx="3.2" fill="#fff" stroke="#a30e10" stroke-width="2.1"/><text x="195.9" y="447.7" font-size="9" text-anchor="middle" fill="#1a1a1a">1</text><text x="201.9" y="451.5" font-size="15" text-anchor="middle" fill="#2a2a2a" transform="rotate(10 201.9 446.5)">/</text><text x="207.9" y="451.9" font-size="10" text-anchor="middle" fill="#2a2a2a">6</text><text x="289.0" y="450.3" font-size="11" text-anchor="end" fill="#ba4c4e" stroke="#ba4c4e" stroke-width="0.25">dB</text><rect x="329.1" y="439.4" width="13.7" height="13.7" rx="2.8" ry="2.8" fill="url(#cb)" stroke="#838383" stroke-width="1.2"/><path d="M332.5,446.5 L335.5,449.7 L340.5,440.9" fill="none" stroke="#141414" stroke-width="1.9" stroke-linejoin="round" stroke-linecap="butt"/><text x="350.6" y="450.3" font-size="11" fill="#4c984c" stroke="#4c984c" stroke-width="0.25" textLength="121.7" lengthAdjust="spacingAndGlyphs">2: ПРАВЫЙ ВОД [FDW]</text><line x1="491.6" x2="526.8" y1="446.5" y2="446.5" stroke="#0e740e" stroke-width="4.2" stroke-linecap="round"/><rect x="497.1" y="439.2" width="24.6" height="14.7" rx="3.2" fill="#fff" stroke="#0e740e" stroke-width="2.1"/><text x="503.2" y="447.7" font-size="9" text-anchor="middle" fill="#1a1a1a">1</text><text x="509.2" y="451.5" font-size="15" text-anchor="middle" fill="#2a2a2a" transform="rotate(10 509.2 446.5)">/</text><text x="515.2" y="451.9" font-size="10" text-anchor="middle" fill="#2a2a2a">6</text><text x="596.3" y="450.3" font-size="11" text-anchor="end" fill="#4c984c" stroke="#4c984c" stroke-width="0.25">dB</text><rect x="636.4" y="439.4" width="13.7" height="13.7" rx="2.8" ry="2.8" fill="url(#cb)" stroke="#838383" stroke-width="1.2"/><path d="M639.8,446.5 L642.8,449.7 L647.8,440.9" fill="none" stroke="#141414" stroke-width="1.9" stroke-linejoin="round" stroke-linecap="butt"/><text x="657.9" y="450.3" font-size="11" fill="#7171c3" stroke="#7171c3" stroke-width="0.25" textLength="123.0" lengthAdjust="spacingAndGlyphs">3: ЛЕВЫЙ ЦЕНТР [FDW]</text><line x1="798.9" x2="834.1" y1="446.5" y2="446.5" stroke="#4040ae" stroke-width="4.2" stroke-linecap="round"/><rect x="804.4" y="439.2" width="24.6" height="14.7" rx="3.2" fill="#fff" stroke="#4040ae" stroke-width="2.1"/><text x="810.5" y="447.7" font-size="9" text-anchor="middle" fill="#1a1a1a">1</text><text x="816.5" y="451.5" font-size="15" text-anchor="middle" fill="#2a2a2a" transform="rotate(10 816.5 446.5)">/</text><text x="822.5" y="451.9" font-size="10" text-anchor="middle" fill="#2a2a2a">6</text><text x="903.6" y="450.3" font-size="11" text-anchor="end" fill="#7171c3" stroke="#7171c3" stroke-width="0.25">dB</text><rect x="21.8" y="463.8" width="13.7" height="13.7" rx="2.8" ry="2.8" fill="url(#cb)" stroke="#838383" stroke-width="1.2"/><path d="M25.2,470.9 L28.2,474.1 L33.2,465.3" fill="none" stroke="#141414" stroke-width="1.9" stroke-linejoin="round" stroke-linecap="butt"/><text x="43.3" y="474.7" font-size="11" fill="#b74fb7" stroke="#b74fb7" stroke-width="0.25" textLength="130.8" lengthAdjust="spacingAndGlyphs">4: ПРАВЫЙ ЦЕНТР [FDW]</text><line x1="184.3" x2="219.5" y1="470.9" y2="470.9" stroke="#9e129e" stroke-width="4.2" stroke-linecap="round"/><rect x="189.8" y="463.6" width="24.6" height="14.7" rx="3.2" fill="#fff" stroke="#9e129e" stroke-width="2.1"/><text x="195.9" y="472.1" font-size="9" text-anchor="middle" fill="#1a1a1a">1</text><text x="201.9" y="475.9" font-size="15" text-anchor="middle" fill="#2a2a2a" transform="rotate(10 201.9 470.9)">/</text><text x="207.9" y="476.3" font-size="10" text-anchor="middle" fill="#2a2a2a">6</text><text x="289.0" y="474.7" font-size="11" text-anchor="end" fill="#b74fb7" stroke="#b74fb7" stroke-width="0.25">dB</text><rect x="329.1" y="463.8" width="13.7" height="13.7" rx="2.8" ry="2.8" fill="url(#cb)" stroke="#838383" stroke-width="1.2"/><path d="M332.5,470.9 L335.5,474.1 L340.5,465.3" fill="none" stroke="#141414" stroke-width="1.9" stroke-linejoin="round" stroke-linecap="butt"/><text x="350.6" y="474.7" font-size="11" fill="#4f9c9c" stroke="#4f9c9c" stroke-width="0.25" textLength="135.8" lengthAdjust="spacingAndGlyphs">5: ЛЕВЫЙ ПЛАФОН [FDW]</text><line x1="491.6" x2="526.8" y1="470.9" y2="470.9" stroke="#127a7a" stroke-width="4.2" stroke-linecap="round"/><rect x="497.1" y="463.6" width="24.6" height="14.7" rx="3.2" fill="#fff" stroke="#127a7a" stroke-width="2.1"/><text x="503.2" y="472.1" font-size="9" text-anchor="middle" fill="#1a1a1a">1</text><text x="509.2" y="475.9" font-size="15" text-anchor="middle" fill="#2a2a2a" transform="rotate(10 509.2 470.9)">/</text><text x="515.2" y="476.3" font-size="10" text-anchor="middle" fill="#2a2a2a">6</text><text x="596.3" y="474.7" font-size="11" text-anchor="end" fill="#4f9c9c" stroke="#4f9c9c" stroke-width="0.25">dB</text><rect x="636.4" y="463.8" width="13.7" height="13.7" rx="2.8" ry="2.8" fill="url(#cb)" stroke="#838383" stroke-width="1.2"/><path d="M639.8,470.9 L642.8,474.1 L647.8,465.3" fill="none" stroke="#141414" stroke-width="1.9" stroke-linejoin="round" stroke-linecap="butt"/><text x="657.9" y="474.7" font-size="11" fill="#f3f370" stroke="#f3f370" stroke-width="0.25" textLength="125.5" lengthAdjust="spacingAndGlyphs">6: ПРАВ ПЛАФОН [FDW]</text><line x1="798.9" x2="834.1" y1="470.9" y2="470.9" stroke="#fbfb24" stroke-width="4.2" stroke-linecap="round"/><rect x="804.4" y="463.6" width="24.6" height="14.7" rx="3.2" fill="#fff" stroke="#fbfb24" stroke-width="2.1"/><text x="810.5" y="472.1" font-size="9" text-anchor="middle" fill="#1a1a1a">1</text><text x="816.5" y="475.9" font-size="15" text-anchor="middle" fill="#2a2a2a" transform="rotate(10 816.5 470.9)">/</text><text x="822.5" y="476.3" font-size="10" text-anchor="middle" fill="#2a2a2a">6</text><text x="903.6" y="474.7" font-size="11" text-anchor="end" fill="#f3f370" stroke="#f3f370" stroke-width="0.25">dB</text><rect x="21.8" y="488.2" width="13.7" height="13.7" rx="2.8" ry="2.8" fill="url(#cb)" stroke="#838383" stroke-width="1.2"/><text x="43.3" y="499.1" font-size="11" fill="#4e9698" stroke="#4e9698" stroke-width="0.25" textLength="134.2" lengthAdjust="spacingAndGlyphs">7: ЛЕВЫЙ С КОРЕ...[FDW]</text><text x="289.0" y="499.1" font-size="11" text-anchor="end" fill="#4e9698" stroke="#4e9698" stroke-width="0.25">dB</text><rect x="329.1" y="488.2" width="13.7" height="13.7" rx="2.8" ry="2.8" fill="url(#cb)" stroke="#838383" stroke-width="1.2"/><text x="350.6" y="499.1" font-size="11" fill="#4bc186" stroke="#4bc186" stroke-width="0.25" textLength="136.3" lengthAdjust="spacingAndGlyphs">8: ПРАВЫЙ С КОРР [FDW]</text><text x="596.3" y="499.1" font-size="11" text-anchor="end" fill="#4bc186" stroke="#4bc186" stroke-width="0.25">dB</text><rect x="636.4" y="488.2" width="13.7" height="13.7" rx="2.8" ry="2.8" fill="url(#cb)" stroke="#838383" stroke-width="1.2"/><text x="657.9" y="499.1" font-size="11" fill="#c362a3" stroke="#c362a3" stroke-width="0.25" textLength="131.7" lengthAdjust="spacingAndGlyphs">9: ЛЕВ 300ЛР12 3...[FDW]</text><text x="903.6" y="499.1" font-size="11" text-anchor="end" fill="#c362a3" stroke="#c362a3" stroke-width="0.25">dB</text><rect x="21.8" y="512.6" width="13.7" height="13.7" rx="2.8" ry="2.8" fill="url(#cb)" stroke="#838383" stroke-width="1.2"/><text x="43.3" y="523.5" font-size="11" fill="#9f65bd" stroke="#9f65bd" stroke-width="0.25" textLength="130.0" lengthAdjust="spacingAndGlyphs">10: ПРАВ 300ЛР12 [FDW]</text><text x="289.0" y="523.5" font-size="11" text-anchor="end" fill="#9f65bd" stroke="#9f65bd" stroke-width="0.25">dB</text>
<rect x="967.5" y="432.7" width="938.3" height="99.5" rx="5" ry="5" fill="#fff" stroke="#8e8e8e" stroke-width="1.1"/><rect x="975.0" y="439.4" width="13.7" height="13.7" rx="2.8" ry="2.8" fill="url(#cb)" stroke="#838383" stroke-width="1.2"/><path d="M978.4,446.5 L981.4,449.7 L986.4,440.9" fill="none" stroke="#141414" stroke-width="1.9" stroke-linejoin="round" stroke-linecap="butt"/><text x="996.5" y="450.3" font-size="11" fill="#ba4c4e" stroke="#ba4c4e" stroke-width="0.25" textLength="115.8" lengthAdjust="spacingAndGlyphs">1: ЛЕВЫЙ ВОД. [FDW]</text><line x1="1142.8" x2="1173.5" y1="446.4" y2="446.4" stroke="#a30e10" stroke-width="4.4" stroke-linecap="round"/><text x="1242.2" y="450.3" font-size="11" text-anchor="end" fill="#ba4c4e" stroke="#ba4c4e" stroke-width="0.25">0,0 %</text><rect x="1282.3" y="439.4" width="13.7" height="13.7" rx="2.8" ry="2.8" fill="url(#cb)" stroke="#838383" stroke-width="1.2"/><path d="M1285.7,446.5 L1288.7,449.7 L1293.7,440.9" fill="none" stroke="#141414" stroke-width="1.9" stroke-linejoin="round" stroke-linecap="butt"/><text x="1303.8" y="450.3" font-size="11" fill="#4c984c" stroke="#4c984c" stroke-width="0.25" textLength="121.7" lengthAdjust="spacingAndGlyphs">2: ПРАВЫЙ ВОД [FDW]</text><line x1="1450.1" x2="1480.8" y1="446.4" y2="446.4" stroke="#0e740e" stroke-width="4.4" stroke-linecap="round"/><text x="1549.5" y="450.3" font-size="11" text-anchor="end" fill="#4c984c" stroke="#4c984c" stroke-width="0.25">0,0 %</text><rect x="1589.6" y="439.4" width="13.7" height="13.7" rx="2.8" ry="2.8" fill="url(#cb)" stroke="#838383" stroke-width="1.2"/><path d="M1593.0,446.5 L1596.0,449.7 L1601.0,440.9" fill="none" stroke="#141414" stroke-width="1.9" stroke-linejoin="round" stroke-linecap="butt"/><text x="1611.1" y="450.3" font-size="11" fill="#7171c3" stroke="#7171c3" stroke-width="0.25" textLength="123.0" lengthAdjust="spacingAndGlyphs">3: ЛЕВЫЙ ЦЕНТР [FDW]</text><line x1="1757.4" x2="1788.1" y1="446.4" y2="446.4" stroke="#4040ae" stroke-width="4.4" stroke-linecap="round"/><text x="1856.8" y="450.3" font-size="11" text-anchor="end" fill="#7171c3" stroke="#7171c3" stroke-width="0.25">0,0 %</text><rect x="975.0" y="463.8" width="13.7" height="13.7" rx="2.8" ry="2.8" fill="url(#cb)" stroke="#838383" stroke-width="1.2"/><path d="M978.4,470.9 L981.4,474.1 L986.4,465.3" fill="none" stroke="#141414" stroke-width="1.9" stroke-linejoin="round" stroke-linecap="butt"/><text x="996.5" y="474.7" font-size="11" fill="#b74fb7" stroke="#b74fb7" stroke-width="0.25" textLength="130.8" lengthAdjust="spacingAndGlyphs">4: ПРАВЫЙ ЦЕНТР [FDW]</text><line x1="1142.8" x2="1173.5" y1="470.8" y2="470.8" stroke="#9e129e" stroke-width="4.4" stroke-linecap="round"/><text x="1242.2" y="474.7" font-size="11" text-anchor="end" fill="#b74fb7" stroke="#b74fb7" stroke-width="0.25">-0,0 %</text><rect x="1282.3" y="463.8" width="13.7" height="13.7" rx="2.8" ry="2.8" fill="url(#cb)" stroke="#838383" stroke-width="1.2"/><path d="M1285.7,470.9 L1288.7,474.1 L1293.7,465.3" fill="none" stroke="#141414" stroke-width="1.9" stroke-linejoin="round" stroke-linecap="butt"/><text x="1303.8" y="474.7" font-size="11" fill="#4f9c9c" stroke="#4f9c9c" stroke-width="0.25" textLength="135.8" lengthAdjust="spacingAndGlyphs">5: ЛЕВЫЙ ПЛАФОН [FDW]</text><line x1="1450.1" x2="1480.8" y1="470.8" y2="470.8" stroke="#127a7a" stroke-width="4.4" stroke-linecap="round"/><text x="1549.5" y="474.7" font-size="11" text-anchor="end" fill="#4f9c9c" stroke="#4f9c9c" stroke-width="0.25">0,0 %</text><rect x="1589.6" y="463.8" width="13.7" height="13.7" rx="2.8" ry="2.8" fill="url(#cb)" stroke="#838383" stroke-width="1.2"/><path d="M1593.0,470.9 L1596.0,474.1 L1601.0,465.3" fill="none" stroke="#141414" stroke-width="1.9" stroke-linejoin="round" stroke-linecap="butt"/><text x="1611.1" y="474.7" font-size="11" fill="#f3f370" stroke="#f3f370" stroke-width="0.25" textLength="125.5" lengthAdjust="spacingAndGlyphs">6: ПРАВ ПЛАФОН [FDW]</text><line x1="1757.4" x2="1788.1" y1="470.8" y2="470.8" stroke="#fbfb24" stroke-width="4.4" stroke-linecap="round"/><text x="1856.8" y="474.7" font-size="11" text-anchor="end" fill="#f3f370" stroke="#f3f370" stroke-width="0.25">0,0 %</text><rect x="975.0" y="488.2" width="13.7" height="13.7" rx="2.8" ry="2.8" fill="url(#cb)" stroke="#838383" stroke-width="1.2"/><text x="996.5" y="499.1" font-size="11" fill="#4e9698" stroke="#4e9698" stroke-width="0.25" textLength="134.2" lengthAdjust="spacingAndGlyphs">7: ЛЕВЫЙ С КОРЕ...[FDW]</text><text x="1242.2" y="499.1" font-size="11" text-anchor="end" fill="#4e9698" stroke="#4e9698" stroke-width="0.25">-0,0 %</text><rect x="1282.3" y="488.2" width="13.7" height="13.7" rx="2.8" ry="2.8" fill="url(#cb)" stroke="#838383" stroke-width="1.2"/><text x="1303.8" y="499.1" font-size="11" fill="#4bc186" stroke="#4bc186" stroke-width="0.25" textLength="136.3" lengthAdjust="spacingAndGlyphs">8: ПРАВЫЙ С КОРР [FDW]</text><text x="1549.5" y="499.1" font-size="11" text-anchor="end" fill="#4bc186" stroke="#4bc186" stroke-width="0.25">0,0 %</text><rect x="1589.6" y="488.2" width="13.7" height="13.7" rx="2.8" ry="2.8" fill="url(#cb)" stroke="#838383" stroke-width="1.2"/><text x="1611.1" y="499.1" font-size="11" fill="#c362a3" stroke="#c362a3" stroke-width="0.25" textLength="131.7" lengthAdjust="spacingAndGlyphs">9: ЛЕВ 300ЛР12 3...[FDW]</text><text x="1856.8" y="499.1" font-size="11" text-anchor="end" fill="#c362a3" stroke="#c362a3" stroke-width="0.25">0,5 %</text><rect x="975.0" y="512.6" width="13.7" height="13.7" rx="2.8" ry="2.8" fill="url(#cb)" stroke="#838383" stroke-width="1.2"/><text x="996.5" y="523.5" font-size="11" fill="#9f65bd" stroke="#9f65bd" stroke-width="0.25" textLength="130.0" lengthAdjust="spacingAndGlyphs">10: ПРАВ 300ЛР12 [FDW]</text><text x="1242.2" y="523.5" font-size="11" text-anchor="end" fill="#9f65bd" stroke="#9f65bd" stroke-width="0.25">2,3 %</text>
<rect x="14.3" y="965.7" width="938.3" height="99.5" rx="5" ry="5" fill="#fff" stroke="#8e8e8e" stroke-width="1.1"/><rect x="21.8" y="972.4" width="13.7" height="13.7" rx="2.8" ry="2.8" fill="url(#cb)" stroke="#838383" stroke-width="1.2"/><text x="43.3" y="983.3" font-size="11" fill="#ba4c4e" stroke="#ba4c4e" stroke-width="0.25" textLength="115.8" lengthAdjust="spacingAndGlyphs">1: ЛЕВЫЙ ВОД. [FDW]</text><text x="289.0" y="983.3" font-size="11" text-anchor="end" fill="#ba4c4e" stroke="#ba4c4e" stroke-width="0.25">dB</text><rect x="329.1" y="972.4" width="13.7" height="13.7" rx="2.8" ry="2.8" fill="url(#cb)" stroke="#838383" stroke-width="1.2"/><text x="350.6" y="983.3" font-size="11" fill="#4c984c" stroke="#4c984c" stroke-width="0.25" textLength="121.7" lengthAdjust="spacingAndGlyphs">2: ПРАВЫЙ ВОД [FDW]</text><text x="596.3" y="983.3" font-size="11" text-anchor="end" fill="#4c984c" stroke="#4c984c" stroke-width="0.25">dB</text><rect x="636.4" y="972.4" width="13.7" height="13.7" rx="2.8" ry="2.8" fill="url(#cb)" stroke="#838383" stroke-width="1.2"/><text x="657.9" y="983.3" font-size="11" fill="#7171c3" stroke="#7171c3" stroke-width="0.25" textLength="123.0" lengthAdjust="spacingAndGlyphs">3: ЛЕВЫЙ ЦЕНТР [FDW]</text><text x="903.6" y="983.3" font-size="11" text-anchor="end" fill="#7171c3" stroke="#7171c3" stroke-width="0.25">dB</text><rect x="21.8" y="996.8" width="13.7" height="13.7" rx="2.8" ry="2.8" fill="url(#cb)" stroke="#838383" stroke-width="1.2"/><text x="43.3" y="1007.7" font-size="11" fill="#b74fb7" stroke="#b74fb7" stroke-width="0.25" textLength="130.8" lengthAdjust="spacingAndGlyphs">4: ПРАВЫЙ ЦЕНТР [FDW]</text><text x="289.0" y="1007.7" font-size="11" text-anchor="end" fill="#b74fb7" stroke="#b74fb7" stroke-width="0.25">dB</text><rect x="329.1" y="996.8" width="13.7" height="13.7" rx="2.8" ry="2.8" fill="url(#cb)" stroke="#838383" stroke-width="1.2"/><text x="350.6" y="1007.7" font-size="11" fill="#4f9c9c" stroke="#4f9c9c" stroke-width="0.25" textLength="135.8" lengthAdjust="spacingAndGlyphs">5: ЛЕВЫЙ ПЛАФОН [FDW]</text><text x="596.3" y="1007.7" font-size="11" text-anchor="end" fill="#4f9c9c" stroke="#4f9c9c" stroke-width="0.25">dB</text><rect x="636.4" y="996.8" width="13.7" height="13.7" rx="2.8" ry="2.8" fill="url(#cb)" stroke="#838383" stroke-width="1.2"/><text x="657.9" y="1007.7" font-size="11" fill="#f3f370" stroke="#f3f370" stroke-width="0.25" textLength="125.5" lengthAdjust="spacingAndGlyphs">6: ПРАВ ПЛАФОН [FDW]</text><text x="903.6" y="1007.7" font-size="11" text-anchor="end" fill="#f3f370" stroke="#f3f370" stroke-width="0.25">dB</text><rect x="21.8" y="1021.2" width="13.7" height="13.7" rx="2.8" ry="2.8" fill="url(#cb)" stroke="#838383" stroke-width="1.2"/><path d="M25.2,1028.3 L28.2,1031.5 L33.2,1022.7" fill="none" stroke="#141414" stroke-width="1.9" stroke-linejoin="round" stroke-linecap="butt"/><text x="43.3" y="1032.1" font-size="11" fill="#4e9698" stroke="#4e9698" stroke-width="0.25" textLength="134.2" lengthAdjust="spacingAndGlyphs">7: ЛЕВЫЙ С КОРЕ...[FDW]</text><line x1="184.3" x2="219.5" y1="1028.3" y2="1028.3" stroke="#107274" stroke-width="4.2" stroke-linecap="round"/><rect x="189.8" y="1021.0" width="24.6" height="14.7" rx="3.2" fill="#fff" stroke="#107274" stroke-width="2.1"/><text x="195.9" y="1029.5" font-size="9" text-anchor="middle" fill="#1a1a1a">1</text><text x="201.9" y="1033.3" font-size="15" text-anchor="middle" fill="#2a2a2a" transform="rotate(10 201.9 1028.3)">/</text><text x="207.9" y="1033.7" font-size="10" text-anchor="middle" fill="#2a2a2a">6</text><text x="289.0" y="1032.1" font-size="11" text-anchor="end" fill="#4e9698" stroke="#4e9698" stroke-width="0.25">dB</text><rect x="329.1" y="1021.2" width="13.7" height="13.7" rx="2.8" ry="2.8" fill="url(#cb)" stroke="#838383" stroke-width="1.2"/><path d="M332.5,1028.3 L335.5,1031.5 L340.5,1022.7" fill="none" stroke="#141414" stroke-width="1.9" stroke-linejoin="round" stroke-linecap="butt"/><text x="350.6" y="1032.1" font-size="11" fill="#4bc186" stroke="#4bc186" stroke-width="0.25" textLength="136.3" lengthAdjust="spacingAndGlyphs">8: ПРАВЫЙ С КОРР [FDW]</text><line x1="491.6" x2="526.8" y1="1028.3" y2="1028.3" stroke="#0cac5c" stroke-width="4.2" stroke-linecap="round"/><rect x="497.1" y="1021.0" width="24.6" height="14.7" rx="3.2" fill="#fff" stroke="#0cac5c" stroke-width="2.1"/><text x="503.2" y="1029.5" font-size="9" text-anchor="middle" fill="#1a1a1a">1</text><text x="509.2" y="1033.3" font-size="15" text-anchor="middle" fill="#2a2a2a" transform="rotate(10 509.2 1028.3)">/</text><text x="515.2" y="1033.7" font-size="10" text-anchor="middle" fill="#2a2a2a">6</text><text x="596.3" y="1032.1" font-size="11" text-anchor="end" fill="#4bc186" stroke="#4bc186" stroke-width="0.25">dB</text><rect x="636.4" y="1021.2" width="13.7" height="13.7" rx="2.8" ry="2.8" fill="url(#cb)" stroke="#838383" stroke-width="1.2"/><path d="M639.8,1028.3 L642.8,1031.5 L647.8,1022.7" fill="none" stroke="#141414" stroke-width="1.9" stroke-linejoin="round" stroke-linecap="butt"/><text x="657.9" y="1032.1" font-size="11" fill="#c362a3" stroke="#c362a3" stroke-width="0.25" textLength="131.7" lengthAdjust="spacingAndGlyphs">9: ЛЕВ 300ЛР12 3...[FDW]</text><line x1="798.9" x2="834.1" y1="1028.3" y2="1028.3" stroke="#ae2c84" stroke-width="4.2" stroke-linecap="round"/><rect x="804.4" y="1021.0" width="24.6" height="14.7" rx="3.2" fill="#fff" stroke="#ae2c84" stroke-width="2.1"/><text x="810.5" y="1029.5" font-size="9" text-anchor="middle" fill="#1a1a1a">1</text><text x="816.5" y="1033.3" font-size="15" text-anchor="middle" fill="#2a2a2a" transform="rotate(10 816.5 1028.3)">/</text><text x="822.5" y="1033.7" font-size="10" text-anchor="middle" fill="#2a2a2a">6</text><text x="903.6" y="1032.1" font-size="11" text-anchor="end" fill="#c362a3" stroke="#c362a3" stroke-width="0.25">dB</text><rect x="21.8" y="1045.6" width="13.7" height="13.7" rx="2.8" ry="2.8" fill="url(#cb)" stroke="#838383" stroke-width="1.2"/><path d="M25.2,1052.7 L28.2,1055.9 L33.2,1047.1" fill="none" stroke="#141414" stroke-width="1.9" stroke-linejoin="round" stroke-linecap="butt"/><text x="43.3" y="1056.5" font-size="11" fill="#9f65bd" stroke="#9f65bd" stroke-width="0.25" textLength="130.0" lengthAdjust="spacingAndGlyphs">10: ПРАВ 300ЛР12 [FDW]</text><line x1="184.3" x2="219.5" y1="1052.7" y2="1052.7" stroke="#7e2fa6" stroke-width="4.2" stroke-linecap="round"/><rect x="189.8" y="1045.4" width="24.6" height="14.7" rx="3.2" fill="#fff" stroke="#7e2fa6" stroke-width="2.1"/><text x="195.9" y="1053.9" font-size="9" text-anchor="middle" fill="#1a1a1a">1</text><text x="201.9" y="1057.7" font-size="15" text-anchor="middle" fill="#2a2a2a" transform="rotate(10 201.9 1052.7)">/</text><text x="207.9" y="1058.1" font-size="10" text-anchor="middle" fill="#2a2a2a">6</text><text x="289.0" y="1056.5" font-size="11" text-anchor="end" fill="#9f65bd" stroke="#9f65bd" stroke-width="0.25">dB</text>
<rect x="967.5" y="965.7" width="938.3" height="99.5" rx="5" ry="5" fill="#fff" stroke="#8e8e8e" stroke-width="1.1"/><rect x="975.0" y="972.4" width="13.7" height="13.7" rx="2.8" ry="2.8" fill="url(#cb)" stroke="#838383" stroke-width="1.2"/><text x="996.5" y="983.3" font-size="11" fill="#ba4c4e" stroke="#ba4c4e" stroke-width="0.25" textLength="115.8" lengthAdjust="spacingAndGlyphs">1: ЛЕВЫЙ ВОД. [FDW]</text><text x="1242.2" y="983.3" font-size="11" text-anchor="end" fill="#ba4c4e" stroke="#ba4c4e" stroke-width="0.25">0,2 %</text><rect x="1282.3" y="972.4" width="13.7" height="13.7" rx="2.8" ry="2.8" fill="url(#cb)" stroke="#838383" stroke-width="1.2"/><text x="1303.8" y="983.3" font-size="11" fill="#4c984c" stroke="#4c984c" stroke-width="0.25" textLength="121.7" lengthAdjust="spacingAndGlyphs">2: ПРАВЫЙ ВОД [FDW]</text><text x="1549.5" y="983.3" font-size="11" text-anchor="end" fill="#4c984c" stroke="#4c984c" stroke-width="0.25">-0,1 %</text><rect x="1589.6" y="972.4" width="13.7" height="13.7" rx="2.8" ry="2.8" fill="url(#cb)" stroke="#838383" stroke-width="1.2"/><text x="1611.1" y="983.3" font-size="11" fill="#7171c3" stroke="#7171c3" stroke-width="0.25" textLength="123.0" lengthAdjust="spacingAndGlyphs">3: ЛЕВЫЙ ЦЕНТР [FDW]</text><text x="1856.8" y="983.3" font-size="11" text-anchor="end" fill="#7171c3" stroke="#7171c3" stroke-width="0.25">0,0 %</text><rect x="975.0" y="996.8" width="13.7" height="13.7" rx="2.8" ry="2.8" fill="url(#cb)" stroke="#838383" stroke-width="1.2"/><text x="996.5" y="1007.7" font-size="11" fill="#b74fb7" stroke="#b74fb7" stroke-width="0.25" textLength="130.8" lengthAdjust="spacingAndGlyphs">4: ПРАВЫЙ ЦЕНТР [FDW]</text><text x="1242.2" y="1007.7" font-size="11" text-anchor="end" fill="#b74fb7" stroke="#b74fb7" stroke-width="0.25">0,5 %</text><rect x="1282.3" y="996.8" width="13.7" height="13.7" rx="2.8" ry="2.8" fill="url(#cb)" stroke="#838383" stroke-width="1.2"/><text x="1303.8" y="1007.7" font-size="11" fill="#4f9c9c" stroke="#4f9c9c" stroke-width="0.25" textLength="135.8" lengthAdjust="spacingAndGlyphs">5: ЛЕВЫЙ ПЛАФОН [FDW]</text><text x="1549.5" y="1007.7" font-size="11" text-anchor="end" fill="#4f9c9c" stroke="#4f9c9c" stroke-width="0.25">0,1 %</text><rect x="1589.6" y="996.8" width="13.7" height="13.7" rx="2.8" ry="2.8" fill="url(#cb)" stroke="#838383" stroke-width="1.2"/><text x="1611.1" y="1007.7" font-size="11" fill="#f3f370" stroke="#f3f370" stroke-width="0.25" textLength="125.5" lengthAdjust="spacingAndGlyphs">6: ПРАВ ПЛАФОН [FDW]</text><text x="1856.8" y="1007.7" font-size="11" text-anchor="end" fill="#f3f370" stroke="#f3f370" stroke-width="0.25">0,4 %</text><rect x="975.0" y="1021.2" width="13.7" height="13.7" rx="2.8" ry="2.8" fill="url(#cb)" stroke="#838383" stroke-width="1.2"/><path d="M978.4,1028.3 L981.4,1031.5 L986.4,1022.7" fill="none" stroke="#141414" stroke-width="1.9" stroke-linejoin="round" stroke-linecap="butt"/><text x="996.5" y="1032.1" font-size="11" fill="#4e9698" stroke="#4e9698" stroke-width="0.25" textLength="134.2" lengthAdjust="spacingAndGlyphs">7: ЛЕВЫЙ С КОРЕ...[FDW]</text><line x1="1142.8" x2="1173.5" y1="1028.2" y2="1028.2" stroke="#107274" stroke-width="3.9" stroke-linecap="round"/><text x="1242.2" y="1032.1" font-size="11" text-anchor="end" fill="#4e9698" stroke="#4e9698" stroke-width="0.25">0,2 %</text><rect x="1282.3" y="1021.2" width="13.7" height="13.7" rx="2.8" ry="2.8" fill="url(#cb)" stroke="#838383" stroke-width="1.2"/><path d="M1285.7,1028.3 L1288.7,1031.5 L1293.7,1022.7" fill="none" stroke="#141414" stroke-width="1.9" stroke-linejoin="round" stroke-linecap="butt"/><text x="1303.8" y="1032.1" font-size="11" fill="#4bc186" stroke="#4bc186" stroke-width="0.25" textLength="136.3" lengthAdjust="spacingAndGlyphs">8: ПРАВЫЙ С КОРР [FDW]</text><line x1="1450.1" x2="1480.8" y1="1028.2" y2="1028.2" stroke="#0cac5c" stroke-width="3.9" stroke-linecap="round"/><text x="1549.5" y="1032.1" font-size="11" text-anchor="end" fill="#4bc186" stroke="#4bc186" stroke-width="0.25">0,5 %</text><rect x="1589.6" y="1021.2" width="13.7" height="13.7" rx="2.8" ry="2.8" fill="url(#cb)" stroke="#838383" stroke-width="1.2"/><path d="M1593.0,1028.3 L1596.0,1031.5 L1601.0,1022.7" fill="none" stroke="#141414" stroke-width="1.9" stroke-linejoin="round" stroke-linecap="butt"/><text x="1611.1" y="1032.1" font-size="11" fill="#c362a3" stroke="#c362a3" stroke-width="0.25" textLength="131.7" lengthAdjust="spacingAndGlyphs">9: ЛЕВ 300ЛР12 3...[FDW]</text><line x1="1757.4" x2="1788.1" y1="1028.2" y2="1028.2" stroke="#ae2c84" stroke-width="3.9" stroke-linecap="round"/><text x="1856.8" y="1032.1" font-size="11" text-anchor="end" fill="#c362a3" stroke="#c362a3" stroke-width="0.25">-14,4 %</text><rect x="975.0" y="1045.6" width="13.7" height="13.7" rx="2.8" ry="2.8" fill="url(#cb)" stroke="#838383" stroke-width="1.2"/><path d="M978.4,1052.7 L981.4,1055.9 L986.4,1047.1" fill="none" stroke="#141414" stroke-width="1.9" stroke-linejoin="round" stroke-linecap="butt"/><text x="996.5" y="1056.5" font-size="11" fill="#9f65bd" stroke="#9f65bd" stroke-width="0.25" textLength="130.0" lengthAdjust="spacingAndGlyphs">10: ПРАВ 300ЛР12 [FDW]</text><line x1="1142.8" x2="1173.5" y1="1052.6" y2="1052.6" stroke="#7e2fa6" stroke-width="3.9" stroke-linecap="round"/><text x="1242.2" y="1056.5" font-size="11" text-anchor="end" fill="#9f65bd" stroke="#9f65bd" stroke-width="0.25">-13,3 %</text>
</svg>
</body></html>
